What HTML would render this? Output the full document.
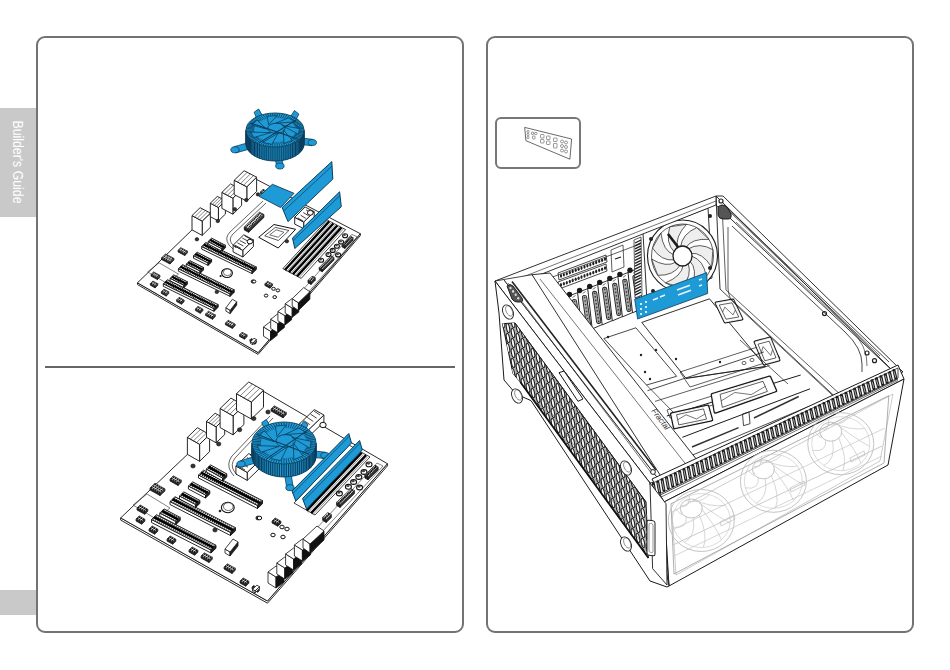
<!DOCTYPE html>
<html><head><meta charset="utf-8">
<style>
html,body{margin:0;padding:0;background:#fff;}
body{width:950px;height:670px;position:relative;overflow:hidden;font-family:"Liberation Sans",sans-serif;}
.box{position:absolute;border:2px solid #737373;border-radius:9px;box-sizing:border-box;}
.tab{position:absolute;left:0;width:36px;background:#c9c9c9;}
.tabtxt{position:absolute;left:18px;top:162px;transform:translate(-50%,-50%) rotate(90deg) scaleX(0.82);color:#fff;font-size:15px;font-weight:normal;white-space:nowrap;}
svg{position:absolute;left:0;top:0;}
</style></head>
<body>
<div class="tab" style="top:108px;height:109px;"></div>
<div class="tabtxt">Builder's Guide</div>
<div class="tab" style="top:590px;height:25px;"></div>
<div class="box" style="left:36px;top:36px;width:428px;height:597px;"></div>
<div class="box" style="left:486px;top:36px;width:428px;height:597px;"></div>
<div style="position:absolute;left:45px;top:366px;width:410px;height:2px;background:#666;"></div>
<div class="box" style="left:495px;top:117px;width:86px;height:52px;border-width:2px;border-radius:6px;border-color:#777"></div>
<svg width="950" height="670" viewBox="0 0 950 670">
<polygon points="120.7,517.9 267.5,601.0 387.4,463.7 387.4,465.9 267.5,603.2 120.7,520.1" fill="#fff" stroke="#111" stroke-width="0.9" stroke-linejoin="round"/>
<polygon points="257.4,387.8 120.7,517.9 267.5,601.0 387.4,463.7" fill="#fff" stroke="#111" stroke-width="0.9" stroke-linejoin="round"/>
<polygon points="133.0,505.0 147.0,494.0 170.0,508.0 156.0,519.0" fill="none" stroke="#333" stroke-width="0.6" stroke-linejoin="round"/>
<polygon points="151.5,522.5 211.0,553.0 211.0,550.0 151.5,519.5" fill="#fff" stroke="#111" stroke-width="0.9" stroke-linejoin="round"/>
<polygon points="211.0,553.0 216.0,548.2 216.0,545.2 211.0,550.0" fill="#222" stroke="#111" stroke-width="0.9" stroke-linejoin="round"/>
<polygon points="151.5,519.5 211.0,550.0 216.0,545.2 156.5,514.7" fill="#ddd" stroke="#111" stroke-width="0.9" stroke-linejoin="round"/>
<line x1="152.9" y1="519.6" x2="157.1" y2="515.6" stroke="#111" stroke-width="1.0" />
<line x1="154.9" y1="520.6" x2="159.1" y2="516.6" stroke="#111" stroke-width="1.0" />
<line x1="156.9" y1="521.6" x2="161.1" y2="517.6" stroke="#111" stroke-width="1.0" />
<line x1="158.9" y1="522.6" x2="163.0" y2="518.6" stroke="#111" stroke-width="1.0" />
<line x1="160.9" y1="523.7" x2="165.0" y2="519.7" stroke="#111" stroke-width="1.0" />
<line x1="162.8" y1="524.7" x2="167.0" y2="520.7" stroke="#111" stroke-width="1.0" />
<line x1="164.8" y1="525.7" x2="169.0" y2="521.7" stroke="#111" stroke-width="1.0" />
<line x1="166.8" y1="526.7" x2="171.0" y2="522.7" stroke="#111" stroke-width="1.0" />
<line x1="168.8" y1="527.7" x2="173.0" y2="523.7" stroke="#111" stroke-width="1.0" />
<line x1="170.8" y1="528.7" x2="174.9" y2="524.7" stroke="#111" stroke-width="1.0" />
<line x1="172.8" y1="529.8" x2="176.9" y2="525.8" stroke="#111" stroke-width="1.0" />
<line x1="174.7" y1="530.8" x2="178.9" y2="526.8" stroke="#111" stroke-width="1.0" />
<line x1="176.7" y1="531.8" x2="180.9" y2="527.8" stroke="#111" stroke-width="1.0" />
<line x1="178.7" y1="532.8" x2="182.9" y2="528.8" stroke="#111" stroke-width="1.0" />
<line x1="180.7" y1="533.8" x2="184.9" y2="529.8" stroke="#111" stroke-width="1.0" />
<line x1="182.7" y1="534.8" x2="186.8" y2="530.8" stroke="#111" stroke-width="1.0" />
<line x1="184.7" y1="535.9" x2="188.8" y2="531.9" stroke="#111" stroke-width="1.0" />
<line x1="186.6" y1="536.9" x2="190.8" y2="532.9" stroke="#111" stroke-width="1.0" />
<line x1="188.6" y1="537.9" x2="192.8" y2="533.9" stroke="#111" stroke-width="1.0" />
<line x1="190.6" y1="538.9" x2="194.8" y2="534.9" stroke="#111" stroke-width="1.0" />
<line x1="192.6" y1="539.9" x2="196.8" y2="535.9" stroke="#111" stroke-width="1.0" />
<line x1="194.6" y1="540.9" x2="198.7" y2="536.9" stroke="#111" stroke-width="1.0" />
<line x1="196.6" y1="542.0" x2="200.7" y2="538.0" stroke="#111" stroke-width="1.0" />
<line x1="198.5" y1="543.0" x2="202.7" y2="539.0" stroke="#111" stroke-width="1.0" />
<line x1="200.5" y1="544.0" x2="204.7" y2="540.0" stroke="#111" stroke-width="1.0" />
<line x1="202.5" y1="545.0" x2="206.7" y2="541.0" stroke="#111" stroke-width="1.0" />
<line x1="204.5" y1="546.0" x2="208.7" y2="542.0" stroke="#111" stroke-width="1.0" />
<line x1="206.5" y1="547.0" x2="210.6" y2="543.0" stroke="#111" stroke-width="1.0" />
<line x1="208.5" y1="548.1" x2="212.6" y2="544.1" stroke="#111" stroke-width="1.0" />
<line x1="210.4" y1="549.1" x2="214.6" y2="545.1" stroke="#111" stroke-width="1.0" />
<line x1="154.0" y1="517.1" x2="213.5" y2="547.6" stroke="#000" stroke-width="2.4" />
<polygon points="170.0,504.5 230.5,535.5 230.5,532.5 170.0,501.5" fill="#fff" stroke="#111" stroke-width="0.9" stroke-linejoin="round"/>
<polygon points="230.5,535.5 235.5,530.7 235.5,527.7 230.5,532.5" fill="#222" stroke="#111" stroke-width="0.9" stroke-linejoin="round"/>
<polygon points="170.0,501.5 230.5,532.5 235.5,527.7 175.0,496.7" fill="#ddd" stroke="#111" stroke-width="0.9" stroke-linejoin="round"/>
<line x1="171.4" y1="501.6" x2="175.6" y2="497.6" stroke="#111" stroke-width="1.0" />
<line x1="173.5" y1="502.6" x2="177.6" y2="498.6" stroke="#111" stroke-width="1.0" />
<line x1="175.5" y1="503.7" x2="179.6" y2="499.7" stroke="#111" stroke-width="1.0" />
<line x1="177.5" y1="504.7" x2="181.7" y2="500.7" stroke="#111" stroke-width="1.0" />
<line x1="179.5" y1="505.7" x2="183.7" y2="501.7" stroke="#111" stroke-width="1.0" />
<line x1="181.5" y1="506.8" x2="185.7" y2="502.8" stroke="#111" stroke-width="1.0" />
<line x1="183.5" y1="507.8" x2="187.7" y2="503.8" stroke="#111" stroke-width="1.0" />
<line x1="185.6" y1="508.8" x2="189.7" y2="504.8" stroke="#111" stroke-width="1.0" />
<line x1="187.6" y1="509.9" x2="191.7" y2="505.9" stroke="#111" stroke-width="1.0" />
<line x1="189.6" y1="510.9" x2="193.8" y2="506.9" stroke="#111" stroke-width="1.0" />
<line x1="191.6" y1="511.9" x2="195.8" y2="507.9" stroke="#111" stroke-width="1.0" />
<line x1="193.6" y1="513.0" x2="197.8" y2="509.0" stroke="#111" stroke-width="1.0" />
<line x1="195.6" y1="514.0" x2="199.8" y2="510.0" stroke="#111" stroke-width="1.0" />
<line x1="197.7" y1="515.0" x2="201.8" y2="511.0" stroke="#111" stroke-width="1.0" />
<line x1="199.7" y1="516.1" x2="203.8" y2="512.1" stroke="#111" stroke-width="1.0" />
<line x1="201.7" y1="517.1" x2="205.9" y2="513.1" stroke="#111" stroke-width="1.0" />
<line x1="203.7" y1="518.1" x2="207.9" y2="514.1" stroke="#111" stroke-width="1.0" />
<line x1="205.7" y1="519.2" x2="209.9" y2="515.2" stroke="#111" stroke-width="1.0" />
<line x1="207.7" y1="520.2" x2="211.9" y2="516.2" stroke="#111" stroke-width="1.0" />
<line x1="209.8" y1="521.2" x2="213.9" y2="517.2" stroke="#111" stroke-width="1.0" />
<line x1="211.8" y1="522.3" x2="215.9" y2="518.3" stroke="#111" stroke-width="1.0" />
<line x1="213.8" y1="523.3" x2="218.0" y2="519.3" stroke="#111" stroke-width="1.0" />
<line x1="215.8" y1="524.3" x2="220.0" y2="520.3" stroke="#111" stroke-width="1.0" />
<line x1="217.8" y1="525.4" x2="222.0" y2="521.4" stroke="#111" stroke-width="1.0" />
<line x1="219.8" y1="526.4" x2="224.0" y2="522.4" stroke="#111" stroke-width="1.0" />
<line x1="221.9" y1="527.4" x2="226.0" y2="523.4" stroke="#111" stroke-width="1.0" />
<line x1="223.9" y1="528.5" x2="228.0" y2="524.5" stroke="#111" stroke-width="1.0" />
<line x1="225.9" y1="529.5" x2="230.1" y2="525.5" stroke="#111" stroke-width="1.0" />
<line x1="227.9" y1="530.5" x2="232.1" y2="526.5" stroke="#111" stroke-width="1.0" />
<line x1="229.9" y1="531.6" x2="234.1" y2="527.6" stroke="#111" stroke-width="1.0" />
<line x1="172.5" y1="499.1" x2="233.0" y2="530.1" stroke="#000" stroke-width="2.4" />
<polygon points="198.5,478.0 257.5,508.5 257.5,505.5 198.5,475.0" fill="#fff" stroke="#111" stroke-width="0.9" stroke-linejoin="round"/>
<polygon points="257.5,508.5 262.5,503.7 262.5,500.7 257.5,505.5" fill="#222" stroke="#111" stroke-width="0.9" stroke-linejoin="round"/>
<polygon points="198.5,475.0 257.5,505.5 262.5,500.7 203.5,470.2" fill="#ddd" stroke="#111" stroke-width="0.9" stroke-linejoin="round"/>
<line x1="199.9" y1="475.1" x2="204.1" y2="471.1" stroke="#111" stroke-width="1.0" />
<line x1="201.9" y1="476.1" x2="206.1" y2="472.1" stroke="#111" stroke-width="1.0" />
<line x1="203.8" y1="477.1" x2="208.0" y2="473.1" stroke="#111" stroke-width="1.0" />
<line x1="205.8" y1="478.1" x2="210.0" y2="474.1" stroke="#111" stroke-width="1.0" />
<line x1="207.8" y1="479.2" x2="212.0" y2="475.2" stroke="#111" stroke-width="1.0" />
<line x1="209.7" y1="480.2" x2="213.9" y2="476.2" stroke="#111" stroke-width="1.0" />
<line x1="211.7" y1="481.2" x2="215.9" y2="477.2" stroke="#111" stroke-width="1.0" />
<line x1="213.7" y1="482.2" x2="217.9" y2="478.2" stroke="#111" stroke-width="1.0" />
<line x1="215.6" y1="483.2" x2="219.8" y2="479.2" stroke="#111" stroke-width="1.0" />
<line x1="217.6" y1="484.2" x2="221.8" y2="480.2" stroke="#111" stroke-width="1.0" />
<line x1="219.6" y1="485.3" x2="223.8" y2="481.3" stroke="#111" stroke-width="1.0" />
<line x1="221.5" y1="486.3" x2="225.7" y2="482.3" stroke="#111" stroke-width="1.0" />
<line x1="223.5" y1="487.3" x2="227.7" y2="483.3" stroke="#111" stroke-width="1.0" />
<line x1="225.5" y1="488.3" x2="229.7" y2="484.3" stroke="#111" stroke-width="1.0" />
<line x1="227.4" y1="489.3" x2="231.6" y2="485.3" stroke="#111" stroke-width="1.0" />
<line x1="229.4" y1="490.3" x2="233.6" y2="486.3" stroke="#111" stroke-width="1.0" />
<line x1="231.4" y1="491.4" x2="235.6" y2="487.4" stroke="#111" stroke-width="1.0" />
<line x1="233.3" y1="492.4" x2="237.5" y2="488.4" stroke="#111" stroke-width="1.0" />
<line x1="235.3" y1="493.4" x2="239.5" y2="489.4" stroke="#111" stroke-width="1.0" />
<line x1="237.3" y1="494.4" x2="241.5" y2="490.4" stroke="#111" stroke-width="1.0" />
<line x1="239.2" y1="495.4" x2="243.4" y2="491.4" stroke="#111" stroke-width="1.0" />
<line x1="241.2" y1="496.4" x2="245.4" y2="492.4" stroke="#111" stroke-width="1.0" />
<line x1="243.2" y1="497.5" x2="247.4" y2="493.5" stroke="#111" stroke-width="1.0" />
<line x1="245.1" y1="498.5" x2="249.3" y2="494.5" stroke="#111" stroke-width="1.0" />
<line x1="247.1" y1="499.5" x2="251.3" y2="495.5" stroke="#111" stroke-width="1.0" />
<line x1="249.1" y1="500.5" x2="253.3" y2="496.5" stroke="#111" stroke-width="1.0" />
<line x1="251.0" y1="501.5" x2="255.2" y2="497.5" stroke="#111" stroke-width="1.0" />
<line x1="253.0" y1="502.5" x2="257.2" y2="498.5" stroke="#111" stroke-width="1.0" />
<line x1="255.0" y1="503.6" x2="259.2" y2="499.6" stroke="#111" stroke-width="1.0" />
<line x1="256.9" y1="504.6" x2="261.1" y2="500.6" stroke="#111" stroke-width="1.0" />
<line x1="201.0" y1="472.6" x2="260.0" y2="503.1" stroke="#000" stroke-width="2.4" />
<polygon points="159.8,516.0 175.9,524.5 175.9,521.5 159.8,513.0" fill="#fff" stroke="#111" stroke-width="0.9" stroke-linejoin="round"/>
<polygon points="175.9,524.5 180.2,520.4 180.2,517.4 175.9,521.5" fill="#222" stroke="#111" stroke-width="0.9" stroke-linejoin="round"/>
<polygon points="159.8,513.0 175.9,521.5 180.2,517.4 164.1,508.9" fill="#ddd" stroke="#111" stroke-width="0.9" stroke-linejoin="round"/>
<line x1="161.2" y1="513.1" x2="164.7" y2="509.8" stroke="#111" stroke-width="1.0" />
<line x1="163.3" y1="514.2" x2="166.7" y2="510.9" stroke="#111" stroke-width="1.0" />
<line x1="165.3" y1="515.2" x2="168.7" y2="511.9" stroke="#111" stroke-width="1.0" />
<line x1="167.3" y1="516.3" x2="170.7" y2="513.0" stroke="#111" stroke-width="1.0" />
<line x1="169.3" y1="517.4" x2="172.7" y2="514.1" stroke="#111" stroke-width="1.0" />
<line x1="171.3" y1="518.4" x2="174.8" y2="515.1" stroke="#111" stroke-width="1.0" />
<line x1="173.3" y1="519.5" x2="176.8" y2="516.2" stroke="#111" stroke-width="1.0" />
<line x1="175.3" y1="520.6" x2="178.8" y2="517.2" stroke="#111" stroke-width="1.0" />
<line x1="162.0" y1="510.9" x2="178.1" y2="519.4" stroke="#000" stroke-width="2.4" />
<polygon points="179.5,499.0 195.6,507.5 195.6,504.5 179.5,496.0" fill="#fff" stroke="#111" stroke-width="0.9" stroke-linejoin="round"/>
<polygon points="195.6,507.5 199.9,503.4 199.9,500.4 195.6,504.5" fill="#222" stroke="#111" stroke-width="0.9" stroke-linejoin="round"/>
<polygon points="179.5,496.0 195.6,504.5 199.9,500.4 183.8,491.9" fill="#ddd" stroke="#111" stroke-width="0.9" stroke-linejoin="round"/>
<line x1="180.9" y1="496.1" x2="184.4" y2="492.8" stroke="#111" stroke-width="1.0" />
<line x1="183.0" y1="497.2" x2="186.4" y2="493.9" stroke="#111" stroke-width="1.0" />
<line x1="185.0" y1="498.2" x2="188.4" y2="494.9" stroke="#111" stroke-width="1.0" />
<line x1="187.0" y1="499.3" x2="190.4" y2="496.0" stroke="#111" stroke-width="1.0" />
<line x1="189.0" y1="500.4" x2="192.4" y2="497.1" stroke="#111" stroke-width="1.0" />
<line x1="191.0" y1="501.4" x2="194.5" y2="498.1" stroke="#111" stroke-width="1.0" />
<line x1="193.0" y1="502.5" x2="196.5" y2="499.2" stroke="#111" stroke-width="1.0" />
<line x1="195.0" y1="503.6" x2="198.5" y2="500.2" stroke="#111" stroke-width="1.0" />
<line x1="181.7" y1="493.9" x2="197.8" y2="502.4" stroke="#000" stroke-width="2.4" />
<polygon points="188.4,489.0 205.5,498.0 205.5,495.0 188.4,486.0" fill="#fff" stroke="#111" stroke-width="0.9" stroke-linejoin="round"/>
<polygon points="205.5,498.0 209.8,493.9 209.8,490.9 205.5,495.0" fill="#222" stroke="#111" stroke-width="0.9" stroke-linejoin="round"/>
<polygon points="188.4,486.0 205.5,495.0 209.8,490.9 192.7,481.9" fill="#ddd" stroke="#111" stroke-width="0.9" stroke-linejoin="round"/>
<line x1="189.9" y1="486.1" x2="193.4" y2="482.8" stroke="#111" stroke-width="1.0" />
<line x1="192.0" y1="487.3" x2="195.5" y2="484.0" stroke="#111" stroke-width="1.0" />
<line x1="194.2" y1="488.4" x2="197.6" y2="485.1" stroke="#111" stroke-width="1.0" />
<line x1="196.3" y1="489.5" x2="199.8" y2="486.2" stroke="#111" stroke-width="1.0" />
<line x1="198.5" y1="490.6" x2="201.9" y2="487.3" stroke="#111" stroke-width="1.0" />
<line x1="200.6" y1="491.8" x2="204.0" y2="488.5" stroke="#111" stroke-width="1.0" />
<line x1="202.7" y1="492.9" x2="206.2" y2="489.6" stroke="#111" stroke-width="1.0" />
<line x1="204.9" y1="494.0" x2="208.3" y2="490.7" stroke="#111" stroke-width="1.0" />
<line x1="190.6" y1="483.9" x2="207.7" y2="492.9" stroke="#000" stroke-width="2.4" />
<polygon points="206.3,472.0 222.5,481.0 222.5,478.0 206.3,469.0" fill="#fff" stroke="#111" stroke-width="0.9" stroke-linejoin="round"/>
<polygon points="222.5,481.0 226.8,476.9 226.8,473.9 222.5,478.0" fill="#222" stroke="#111" stroke-width="0.9" stroke-linejoin="round"/>
<polygon points="206.3,469.0 222.5,478.0 226.8,473.9 210.6,464.9" fill="#ddd" stroke="#111" stroke-width="0.9" stroke-linejoin="round"/>
<line x1="207.7" y1="469.1" x2="211.2" y2="465.8" stroke="#111" stroke-width="1.0" />
<line x1="209.8" y1="470.3" x2="213.2" y2="467.0" stroke="#111" stroke-width="1.0" />
<line x1="211.8" y1="471.4" x2="215.3" y2="468.1" stroke="#111" stroke-width="1.0" />
<line x1="213.8" y1="472.5" x2="217.3" y2="469.2" stroke="#111" stroke-width="1.0" />
<line x1="215.8" y1="473.6" x2="219.3" y2="470.3" stroke="#111" stroke-width="1.0" />
<line x1="217.9" y1="474.8" x2="221.3" y2="471.5" stroke="#111" stroke-width="1.0" />
<line x1="219.9" y1="475.9" x2="223.4" y2="472.6" stroke="#111" stroke-width="1.0" />
<line x1="221.9" y1="477.0" x2="225.4" y2="473.7" stroke="#111" stroke-width="1.0" />
<line x1="208.5" y1="466.9" x2="224.7" y2="475.9" stroke="#000" stroke-width="2.4" />
<ellipse cx="227.8" cy="507.5" rx="6.4" ry="5.2" fill="#fff" stroke="#111" stroke-width="1.1"/>
<ellipse cx="228.3" cy="506.6" rx="4.8" ry="3.9" fill="#fff" stroke="#111" stroke-width="0.6"/>
<ellipse cx="220.0" cy="511.0" rx="1.3" ry="1.3" fill="#222" stroke="none" stroke-width="0.8"/>
<polygon points="165.0,490.9 160.0,495.6 160.0,493.6 165.0,488.9" fill="#333" stroke="#111" stroke-width="0.7" stroke-linejoin="round"/>
<polygon points="160.0,495.6 150.0,490.0 150.0,488.0 160.0,493.6" fill="#222" stroke="#111" stroke-width="0.7" stroke-linejoin="round"/>
<polygon points="150.0,488.0 155.0,483.2 165.0,488.9 160.0,493.6" fill="#fff" stroke="#111" stroke-width="0.7" stroke-linejoin="round"/>
<ellipse cx="151.8" cy="487.8" rx="1.0" ry="1.0" fill="#111" stroke="none" stroke-width="0"/>
<ellipse cx="153.5" cy="486.2" rx="1.0" ry="1.0" fill="#111" stroke="none" stroke-width="0"/>
<ellipse cx="155.1" cy="484.6" rx="1.0" ry="1.0" fill="#111" stroke="none" stroke-width="0"/>
<ellipse cx="153.8" cy="488.9" rx="1.0" ry="1.0" fill="#111" stroke="none" stroke-width="0"/>
<ellipse cx="155.5" cy="487.3" rx="1.0" ry="1.0" fill="#111" stroke="none" stroke-width="0"/>
<ellipse cx="157.1" cy="485.7" rx="1.0" ry="1.0" fill="#111" stroke="none" stroke-width="0"/>
<ellipse cx="155.8" cy="490.0" rx="1.0" ry="1.0" fill="#111" stroke="none" stroke-width="0"/>
<ellipse cx="157.5" cy="488.4" rx="1.0" ry="1.0" fill="#111" stroke="none" stroke-width="0"/>
<ellipse cx="159.1" cy="486.9" rx="1.0" ry="1.0" fill="#111" stroke="none" stroke-width="0"/>
<ellipse cx="157.8" cy="491.2" rx="1.0" ry="1.0" fill="#111" stroke="none" stroke-width="0"/>
<ellipse cx="159.5" cy="489.6" rx="1.0" ry="1.0" fill="#111" stroke="none" stroke-width="0"/>
<ellipse cx="161.1" cy="488.0" rx="1.0" ry="1.0" fill="#111" stroke="none" stroke-width="0"/>
<ellipse cx="159.8" cy="492.3" rx="1.0" ry="1.0" fill="#111" stroke="none" stroke-width="0"/>
<ellipse cx="161.5" cy="490.7" rx="1.0" ry="1.0" fill="#111" stroke="none" stroke-width="0"/>
<ellipse cx="163.1" cy="489.1" rx="1.0" ry="1.0" fill="#111" stroke="none" stroke-width="0"/>
<polygon points="181.3,482.3 178.0,485.5 178.0,483.5 181.3,480.3" fill="#333" stroke="#111" stroke-width="0.7" stroke-linejoin="round"/>
<polygon points="178.0,485.5 170.0,481.0 170.0,479.0 178.0,483.5" fill="#222" stroke="#111" stroke-width="0.7" stroke-linejoin="round"/>
<polygon points="170.0,479.0 173.3,475.8 181.3,480.3 178.0,483.5" fill="#fff" stroke="#111" stroke-width="0.7" stroke-linejoin="round"/>
<ellipse cx="171.8" cy="478.8" rx="1.0" ry="1.0" fill="#111" stroke="none" stroke-width="0"/>
<ellipse cx="173.5" cy="477.2" rx="1.0" ry="1.0" fill="#111" stroke="none" stroke-width="0"/>
<ellipse cx="173.8" cy="479.9" rx="1.0" ry="1.0" fill="#111" stroke="none" stroke-width="0"/>
<ellipse cx="175.5" cy="478.3" rx="1.0" ry="1.0" fill="#111" stroke="none" stroke-width="0"/>
<ellipse cx="175.8" cy="481.0" rx="1.0" ry="1.0" fill="#111" stroke="none" stroke-width="0"/>
<ellipse cx="177.5" cy="479.4" rx="1.0" ry="1.0" fill="#111" stroke="none" stroke-width="0"/>
<ellipse cx="177.8" cy="482.2" rx="1.0" ry="1.0" fill="#111" stroke="none" stroke-width="0"/>
<ellipse cx="179.5" cy="480.6" rx="1.0" ry="1.0" fill="#111" stroke="none" stroke-width="0"/>
<polygon points="147.8,511.3 144.7,514.3 144.7,512.3 147.8,509.3" fill="#333" stroke="#111" stroke-width="0.7" stroke-linejoin="round"/>
<polygon points="144.7,514.3 137.0,510.0 137.0,508.0 144.7,512.3" fill="#222" stroke="#111" stroke-width="0.7" stroke-linejoin="round"/>
<polygon points="137.0,508.0 140.2,505.0 147.8,509.3 144.7,512.3" fill="#fff" stroke="#111" stroke-width="0.7" stroke-linejoin="round"/>
<ellipse cx="138.7" cy="507.8" rx="1.0" ry="1.0" fill="#111" stroke="none" stroke-width="0"/>
<ellipse cx="140.3" cy="506.3" rx="1.0" ry="1.0" fill="#111" stroke="none" stroke-width="0"/>
<ellipse cx="140.7" cy="508.9" rx="1.0" ry="1.0" fill="#111" stroke="none" stroke-width="0"/>
<ellipse cx="142.2" cy="507.3" rx="1.0" ry="1.0" fill="#111" stroke="none" stroke-width="0"/>
<ellipse cx="142.6" cy="509.9" rx="1.0" ry="1.0" fill="#111" stroke="none" stroke-width="0"/>
<ellipse cx="144.2" cy="508.4" rx="1.0" ry="1.0" fill="#111" stroke="none" stroke-width="0"/>
<ellipse cx="144.5" cy="511.0" rx="1.0" ry="1.0" fill="#111" stroke="none" stroke-width="0"/>
<ellipse cx="146.1" cy="509.5" rx="1.0" ry="1.0" fill="#111" stroke="none" stroke-width="0"/>
<polygon points="144.9,521.2 141.7,524.2 141.7,522.2 144.9,519.2" fill="#333" stroke="#111" stroke-width="0.7" stroke-linejoin="round"/>
<polygon points="141.7,524.2 136.0,521.0 136.0,519.0 141.7,522.2" fill="#222" stroke="#111" stroke-width="0.7" stroke-linejoin="round"/>
<polygon points="136.0,519.0 139.2,516.0 144.9,519.2 141.7,522.2" fill="#fff" stroke="#111" stroke-width="0.7" stroke-linejoin="round"/>
<ellipse cx="137.7" cy="518.8" rx="1.0" ry="1.0" fill="#111" stroke="none" stroke-width="0"/>
<ellipse cx="139.3" cy="517.3" rx="1.0" ry="1.0" fill="#111" stroke="none" stroke-width="0"/>
<ellipse cx="139.7" cy="519.9" rx="1.0" ry="1.0" fill="#111" stroke="none" stroke-width="0"/>
<ellipse cx="141.2" cy="518.3" rx="1.0" ry="1.0" fill="#111" stroke="none" stroke-width="0"/>
<ellipse cx="141.6" cy="520.9" rx="1.0" ry="1.0" fill="#111" stroke="none" stroke-width="0"/>
<ellipse cx="143.2" cy="519.4" rx="1.0" ry="1.0" fill="#111" stroke="none" stroke-width="0"/>
<polygon points="157.9,531.2 154.7,534.2 154.7,532.2 157.9,529.2" fill="#333" stroke="#111" stroke-width="0.7" stroke-linejoin="round"/>
<polygon points="154.7,534.2 149.0,531.0 149.0,529.0 154.7,532.2" fill="#222" stroke="#111" stroke-width="0.7" stroke-linejoin="round"/>
<polygon points="149.0,529.0 152.2,526.0 157.9,529.2 154.7,532.2" fill="#fff" stroke="#111" stroke-width="0.7" stroke-linejoin="round"/>
<ellipse cx="150.7" cy="528.8" rx="1.0" ry="1.0" fill="#111" stroke="none" stroke-width="0"/>
<ellipse cx="152.3" cy="527.3" rx="1.0" ry="1.0" fill="#111" stroke="none" stroke-width="0"/>
<ellipse cx="152.7" cy="529.9" rx="1.0" ry="1.0" fill="#111" stroke="none" stroke-width="0"/>
<ellipse cx="154.2" cy="528.3" rx="1.0" ry="1.0" fill="#111" stroke="none" stroke-width="0"/>
<ellipse cx="154.6" cy="530.9" rx="1.0" ry="1.0" fill="#111" stroke="none" stroke-width="0"/>
<ellipse cx="156.2" cy="529.4" rx="1.0" ry="1.0" fill="#111" stroke="none" stroke-width="0"/>
<polygon points="175.9,541.2 172.7,544.2 172.7,542.2 175.9,539.2" fill="#333" stroke="#111" stroke-width="0.7" stroke-linejoin="round"/>
<polygon points="172.7,544.2 167.0,541.0 167.0,539.0 172.7,542.2" fill="#222" stroke="#111" stroke-width="0.7" stroke-linejoin="round"/>
<polygon points="167.0,539.0 170.2,536.0 175.9,539.2 172.7,542.2" fill="#fff" stroke="#111" stroke-width="0.7" stroke-linejoin="round"/>
<ellipse cx="168.7" cy="538.8" rx="1.0" ry="1.0" fill="#111" stroke="none" stroke-width="0"/>
<ellipse cx="170.3" cy="537.3" rx="1.0" ry="1.0" fill="#111" stroke="none" stroke-width="0"/>
<ellipse cx="170.7" cy="539.9" rx="1.0" ry="1.0" fill="#111" stroke="none" stroke-width="0"/>
<ellipse cx="172.2" cy="538.3" rx="1.0" ry="1.0" fill="#111" stroke="none" stroke-width="0"/>
<ellipse cx="172.6" cy="540.9" rx="1.0" ry="1.0" fill="#111" stroke="none" stroke-width="0"/>
<ellipse cx="174.2" cy="539.4" rx="1.0" ry="1.0" fill="#111" stroke="none" stroke-width="0"/>
<polygon points="197.9,552.2 194.7,555.2 194.7,553.2 197.9,550.2" fill="#333" stroke="#111" stroke-width="0.7" stroke-linejoin="round"/>
<polygon points="194.7,555.2 189.0,552.0 189.0,550.0 194.7,553.2" fill="#222" stroke="#111" stroke-width="0.7" stroke-linejoin="round"/>
<polygon points="189.0,550.0 192.2,547.0 197.9,550.2 194.7,553.2" fill="#fff" stroke="#111" stroke-width="0.7" stroke-linejoin="round"/>
<ellipse cx="190.7" cy="549.8" rx="1.0" ry="1.0" fill="#111" stroke="none" stroke-width="0"/>
<ellipse cx="192.3" cy="548.3" rx="1.0" ry="1.0" fill="#111" stroke="none" stroke-width="0"/>
<ellipse cx="192.7" cy="550.9" rx="1.0" ry="1.0" fill="#111" stroke="none" stroke-width="0"/>
<ellipse cx="194.2" cy="549.3" rx="1.0" ry="1.0" fill="#111" stroke="none" stroke-width="0"/>
<ellipse cx="194.6" cy="551.9" rx="1.0" ry="1.0" fill="#111" stroke="none" stroke-width="0"/>
<ellipse cx="196.2" cy="550.4" rx="1.0" ry="1.0" fill="#111" stroke="none" stroke-width="0"/>
<polygon points="248.9,583.2 245.7,586.2 245.7,584.2 248.9,581.2" fill="#333" stroke="#111" stroke-width="0.7" stroke-linejoin="round"/>
<polygon points="245.7,586.2 240.0,583.0 240.0,581.0 245.7,584.2" fill="#222" stroke="#111" stroke-width="0.7" stroke-linejoin="round"/>
<polygon points="240.0,581.0 243.2,578.0 248.9,581.2 245.7,584.2" fill="#fff" stroke="#111" stroke-width="0.7" stroke-linejoin="round"/>
<ellipse cx="241.7" cy="580.8" rx="1.0" ry="1.0" fill="#111" stroke="none" stroke-width="0"/>
<ellipse cx="243.3" cy="579.3" rx="1.0" ry="1.0" fill="#111" stroke="none" stroke-width="0"/>
<ellipse cx="243.7" cy="581.9" rx="1.0" ry="1.0" fill="#111" stroke="none" stroke-width="0"/>
<ellipse cx="245.2" cy="580.3" rx="1.0" ry="1.0" fill="#111" stroke="none" stroke-width="0"/>
<ellipse cx="245.6" cy="582.9" rx="1.0" ry="1.0" fill="#111" stroke="none" stroke-width="0"/>
<ellipse cx="247.2" cy="581.4" rx="1.0" ry="1.0" fill="#111" stroke="none" stroke-width="0"/>
<polygon points="212.3,559.3 209.0,562.5 209.0,560.5 212.3,557.3" fill="#333" stroke="#111" stroke-width="0.7" stroke-linejoin="round"/>
<polygon points="209.0,562.5 201.0,558.0 201.0,556.0 209.0,560.5" fill="#222" stroke="#111" stroke-width="0.7" stroke-linejoin="round"/>
<polygon points="201.0,556.0 204.3,552.8 212.3,557.3 209.0,560.5" fill="#fff" stroke="#111" stroke-width="0.7" stroke-linejoin="round"/>
<ellipse cx="202.8" cy="555.8" rx="1.0" ry="1.0" fill="#111" stroke="none" stroke-width="0"/>
<ellipse cx="204.5" cy="554.2" rx="1.0" ry="1.0" fill="#111" stroke="none" stroke-width="0"/>
<ellipse cx="204.8" cy="556.9" rx="1.0" ry="1.0" fill="#111" stroke="none" stroke-width="0"/>
<ellipse cx="206.5" cy="555.3" rx="1.0" ry="1.0" fill="#111" stroke="none" stroke-width="0"/>
<ellipse cx="206.8" cy="558.0" rx="1.0" ry="1.0" fill="#111" stroke="none" stroke-width="0"/>
<ellipse cx="208.5" cy="556.4" rx="1.0" ry="1.0" fill="#111" stroke="none" stroke-width="0"/>
<ellipse cx="208.8" cy="559.2" rx="1.0" ry="1.0" fill="#111" stroke="none" stroke-width="0"/>
<ellipse cx="210.5" cy="557.6" rx="1.0" ry="1.0" fill="#111" stroke="none" stroke-width="0"/>
<polygon points="235.3,570.3 232.0,573.5 232.0,571.5 235.3,568.3" fill="#333" stroke="#111" stroke-width="0.7" stroke-linejoin="round"/>
<polygon points="232.0,573.5 224.0,569.0 224.0,567.0 232.0,571.5" fill="#222" stroke="#111" stroke-width="0.7" stroke-linejoin="round"/>
<polygon points="224.0,567.0 227.3,563.8 235.3,568.3 232.0,571.5" fill="#fff" stroke="#111" stroke-width="0.7" stroke-linejoin="round"/>
<ellipse cx="225.8" cy="566.8" rx="1.0" ry="1.0" fill="#111" stroke="none" stroke-width="0"/>
<ellipse cx="227.5" cy="565.2" rx="1.0" ry="1.0" fill="#111" stroke="none" stroke-width="0"/>
<ellipse cx="227.8" cy="567.9" rx="1.0" ry="1.0" fill="#111" stroke="none" stroke-width="0"/>
<ellipse cx="229.5" cy="566.3" rx="1.0" ry="1.0" fill="#111" stroke="none" stroke-width="0"/>
<ellipse cx="229.8" cy="569.0" rx="1.0" ry="1.0" fill="#111" stroke="none" stroke-width="0"/>
<ellipse cx="231.5" cy="567.4" rx="1.0" ry="1.0" fill="#111" stroke="none" stroke-width="0"/>
<ellipse cx="231.8" cy="570.2" rx="1.0" ry="1.0" fill="#111" stroke="none" stroke-width="0"/>
<ellipse cx="233.5" cy="568.6" rx="1.0" ry="1.0" fill="#111" stroke="none" stroke-width="0"/>
<polygon points="259.3,590.7 257.7,592.2 257.7,590.2 259.3,588.7" fill="#333" stroke="#111" stroke-width="0.7" stroke-linejoin="round"/>
<polygon points="257.7,592.2 252.0,589.0 252.0,587.0 257.7,590.2" fill="#222" stroke="#111" stroke-width="0.7" stroke-linejoin="round"/>
<polygon points="252.0,587.0 253.6,585.5 259.3,588.7 257.7,590.2" fill="#fff" stroke="#111" stroke-width="0.7" stroke-linejoin="round"/>
<ellipse cx="253.7" cy="586.8" rx="1.0" ry="1.0" fill="#111" stroke="none" stroke-width="0"/>
<ellipse cx="255.7" cy="587.9" rx="1.0" ry="1.0" fill="#111" stroke="none" stroke-width="0"/>
<ellipse cx="257.6" cy="588.9" rx="1.0" ry="1.0" fill="#111" stroke="none" stroke-width="0"/>
<polygon points="259.5,588.7 255.1,592.8 255.1,590.8 259.5,586.7" fill="#fff" stroke="#111" stroke-width="0.8" stroke-linejoin="round"/>
<polygon points="255.1,592.8 252.5,591.3 252.5,589.3 255.1,590.8" fill="#fff" stroke="#111" stroke-width="0.8" stroke-linejoin="round"/>
<polygon points="252.5,589.3 256.9,585.2 259.5,586.7 255.1,590.8" fill="#fff" stroke="#111" stroke-width="0.8" stroke-linejoin="round"/>
<polygon points="209.6,451.6 199.6,461.3 199.6,444.3 209.6,434.6" fill="#fff" stroke="#111" stroke-width="0.9" stroke-linejoin="round"/>
<polygon points="199.6,461.3 187.4,454.4 187.4,437.4 199.6,444.3" fill="#fff" stroke="#111" stroke-width="0.9" stroke-linejoin="round"/>
<polygon points="187.4,437.4 197.4,427.7 209.6,434.6 199.6,444.3" fill="#fff" stroke="#111" stroke-width="0.9" stroke-linejoin="round"/>
<line x1="190.4" y1="439.1" x2="200.5" y2="429.5" stroke="#333" stroke-width="0.6"/>
<line x1="193.5" y1="440.8" x2="203.5" y2="431.2" stroke="#333" stroke-width="0.6"/>
<line x1="196.5" y1="442.5" x2="206.6" y2="432.9" stroke="#333" stroke-width="0.6"/>
<polygon points="224.7,434.6 216.1,442.8 216.1,426.8 224.7,418.6" fill="#fff" stroke="#111" stroke-width="0.9" stroke-linejoin="round"/>
<polygon points="216.1,442.8 206.5,437.4 206.5,421.4 216.1,426.8" fill="#fff" stroke="#111" stroke-width="0.9" stroke-linejoin="round"/>
<polygon points="206.5,421.4 215.1,413.2 224.7,418.6 216.1,426.8" fill="#fff" stroke="#111" stroke-width="0.9" stroke-linejoin="round"/>
<line x1="208.9" y1="422.8" x2="217.5" y2="414.5" stroke="#333" stroke-width="0.6"/>
<line x1="211.3" y1="424.1" x2="219.9" y2="415.9" stroke="#333" stroke-width="0.6"/>
<line x1="213.7" y1="425.5" x2="222.3" y2="417.2" stroke="#333" stroke-width="0.6"/>
<polygon points="243.9,424.5 233.1,434.9 233.1,415.9 243.9,405.5" fill="#fff" stroke="#111" stroke-width="0.9" stroke-linejoin="round"/>
<polygon points="233.1,434.9 220.1,427.5 220.1,408.5 233.1,415.9" fill="#fff" stroke="#111" stroke-width="0.9" stroke-linejoin="round"/>
<polygon points="220.1,408.5 230.9,398.1 243.9,405.5 233.1,415.9" fill="#fff" stroke="#111" stroke-width="0.9" stroke-linejoin="round"/>
<line x1="223.3" y1="410.3" x2="234.1" y2="400.0" stroke="#333" stroke-width="0.6"/>
<line x1="226.6" y1="412.2" x2="237.4" y2="401.8" stroke="#333" stroke-width="0.6"/>
<line x1="229.9" y1="414.0" x2="240.7" y2="403.7" stroke="#333" stroke-width="0.6"/>
<polygon points="263.5,407.3 251.3,419.0 251.3,402.0 263.5,390.3" fill="#fff" stroke="#111" stroke-width="0.9" stroke-linejoin="round"/>
<polygon points="251.3,419.0 236.5,410.7 236.5,393.7 251.3,402.0" fill="#fff" stroke="#111" stroke-width="0.9" stroke-linejoin="round"/>
<polygon points="236.5,393.7 248.7,382.0 263.5,390.3 251.3,402.0" fill="#fff" stroke="#111" stroke-width="0.9" stroke-linejoin="round"/>
<line x1="240.2" y1="395.8" x2="252.4" y2="384.1" stroke="#333" stroke-width="0.6"/>
<line x1="243.9" y1="397.9" x2="256.1" y2="386.1" stroke="#333" stroke-width="0.6"/>
<line x1="247.6" y1="399.9" x2="259.8" y2="388.2" stroke="#333" stroke-width="0.6"/>
<ellipse cx="268.0" cy="412.0" rx="2.2" ry="2.0" fill="#333" stroke="#111" stroke-width="0.6"/>
<ellipse cx="253.8" cy="418.6" rx="2.2" ry="2.0" fill="#333" stroke="#111" stroke-width="0.6"/>
<ellipse cx="239.6" cy="429.8" rx="2.2" ry="2.0" fill="#333" stroke="#111" stroke-width="0.6"/>
<ellipse cx="218.7" cy="444.0" rx="2.2" ry="2.0" fill="#333" stroke="#111" stroke-width="0.6"/>
<ellipse cx="193.0" cy="466.0" rx="2.2" ry="2.0" fill="#333" stroke="#111" stroke-width="0.6"/>
<ellipse cx="258.0" cy="518.0" rx="2.2" ry="2.0" fill="#333" stroke="#111" stroke-width="0.6"/>
<ellipse cx="215.0" cy="530.0" rx="2.2" ry="2.0" fill="#333" stroke="#111" stroke-width="0.6"/>
<ellipse cx="300.0" cy="470.0" rx="2.2" ry="2.0" fill="#333" stroke="#111" stroke-width="0.6"/>
<polygon points="294.0,503.0 349.0,445.0 370.0,457.0 315.0,515.0" fill="#fff" stroke="#111" stroke-width="0.8" stroke-linejoin="round"/>
<line x1="306.7" y1="510.6" x2="361.7" y2="452.6" stroke="#000" stroke-width="2.4" />
<line x1="308.3" y1="512.4" x2="363.3" y2="454.4" stroke="#666" stroke-width="0.7" />
<line x1="311.1" y1="513.1" x2="366.1" y2="455.1" stroke="#000" stroke-width="2.4" />
<line x1="312.7" y1="514.9" x2="367.7" y2="456.9" stroke="#666" stroke-width="0.7" />
<ellipse cx="369.0" cy="464.4" rx="3.0" ry="2.4" fill="#fff" stroke="#111" stroke-width="1.1"/>
<ellipse cx="368.5" cy="463.6" rx="1.6" ry="1.1" fill="#444" stroke="none" stroke-width="0"/>
<ellipse cx="364.0" cy="472.0" rx="3.0" ry="2.4" fill="#fff" stroke="#111" stroke-width="1.1"/>
<ellipse cx="363.5" cy="471.2" rx="1.6" ry="1.1" fill="#444" stroke="none" stroke-width="0"/>
<ellipse cx="358.8" cy="477.0" rx="3.0" ry="2.4" fill="#fff" stroke="#111" stroke-width="1.1"/>
<ellipse cx="358.3" cy="476.2" rx="1.6" ry="1.1" fill="#444" stroke="none" stroke-width="0"/>
<ellipse cx="353.6" cy="482.0" rx="3.0" ry="2.4" fill="#fff" stroke="#111" stroke-width="1.1"/>
<ellipse cx="353.1" cy="481.2" rx="1.6" ry="1.1" fill="#444" stroke="none" stroke-width="0"/>
<ellipse cx="348.4" cy="486.8" rx="3.0" ry="2.4" fill="#fff" stroke="#111" stroke-width="1.1"/>
<ellipse cx="347.9" cy="486.0" rx="1.6" ry="1.1" fill="#444" stroke="none" stroke-width="0"/>
<ellipse cx="359.6" cy="487.5" rx="3.0" ry="2.4" fill="#fff" stroke="#111" stroke-width="1.1"/>
<ellipse cx="359.1" cy="486.7" rx="1.6" ry="1.1" fill="#444" stroke="none" stroke-width="0"/>
<ellipse cx="339.4" cy="493.5" rx="3.0" ry="2.4" fill="#fff" stroke="#111" stroke-width="1.1"/>
<ellipse cx="338.9" cy="492.7" rx="1.6" ry="1.1" fill="#444" stroke="none" stroke-width="0"/>
<polygon points="354.4,493.6 340.0,507.4 340.0,504.4 354.4,490.6" fill="#333" stroke="#111" stroke-width="0.8" stroke-linejoin="round"/>
<polygon points="340.0,507.4 336.6,505.4 336.6,502.4 340.0,504.4" fill="#222" stroke="#111" stroke-width="0.8" stroke-linejoin="round"/>
<polygon points="336.6,502.4 351.0,488.6 354.4,490.6 340.0,504.4" fill="#fff" stroke="#111" stroke-width="0.8" stroke-linejoin="round"/>
<ellipse cx="339.0" cy="502.7" rx="0.9" ry="1.3" fill="#111" stroke="none" stroke-width="0"/>
<ellipse cx="340.5" cy="501.3" rx="0.9" ry="1.3" fill="#111" stroke="none" stroke-width="0"/>
<ellipse cx="341.9" cy="499.9" rx="0.9" ry="1.3" fill="#111" stroke="none" stroke-width="0"/>
<ellipse cx="343.3" cy="498.6" rx="0.9" ry="1.3" fill="#111" stroke="none" stroke-width="0"/>
<ellipse cx="344.8" cy="497.2" rx="0.9" ry="1.3" fill="#111" stroke="none" stroke-width="0"/>
<ellipse cx="346.2" cy="495.8" rx="0.9" ry="1.3" fill="#111" stroke="none" stroke-width="0"/>
<ellipse cx="347.7" cy="494.4" rx="0.9" ry="1.3" fill="#111" stroke="none" stroke-width="0"/>
<ellipse cx="349.1" cy="493.0" rx="0.9" ry="1.3" fill="#111" stroke="none" stroke-width="0"/>
<ellipse cx="350.5" cy="491.7" rx="0.9" ry="1.3" fill="#111" stroke="none" stroke-width="0"/>
<ellipse cx="352.0" cy="490.3" rx="0.9" ry="1.3" fill="#111" stroke="none" stroke-width="0"/>
<polygon points="378.1,470.0 368.0,479.7 368.0,476.7 378.1,467.0" fill="#333" stroke="#111" stroke-width="0.8" stroke-linejoin="round"/>
<polygon points="368.0,479.7 364.9,478.0 364.9,475.0 368.0,476.7" fill="#222" stroke="#111" stroke-width="0.8" stroke-linejoin="round"/>
<polygon points="364.9,475.0 375.0,465.3 378.1,467.0 368.0,476.7" fill="#fff" stroke="#111" stroke-width="0.8" stroke-linejoin="round"/>
<ellipse cx="367.2" cy="475.1" rx="0.9" ry="1.3" fill="#111" stroke="none" stroke-width="0"/>
<ellipse cx="368.6" cy="473.8" rx="0.9" ry="1.3" fill="#111" stroke="none" stroke-width="0"/>
<ellipse cx="370.1" cy="472.4" rx="0.9" ry="1.3" fill="#111" stroke="none" stroke-width="0"/>
<ellipse cx="371.5" cy="471.0" rx="0.9" ry="1.3" fill="#111" stroke="none" stroke-width="0"/>
<ellipse cx="372.9" cy="469.6" rx="0.9" ry="1.3" fill="#111" stroke="none" stroke-width="0"/>
<ellipse cx="374.4" cy="468.2" rx="0.9" ry="1.3" fill="#111" stroke="none" stroke-width="0"/>
<ellipse cx="375.8" cy="466.9" rx="0.9" ry="1.3" fill="#111" stroke="none" stroke-width="0"/>
<polygon points="331.3,517.6 326.2,522.4 326.2,519.4 331.3,514.6" fill="#333" stroke="#111" stroke-width="0.8" stroke-linejoin="round"/>
<polygon points="326.2,522.4 322.7,520.4 322.7,517.4 326.2,519.4" fill="#222" stroke="#111" stroke-width="0.8" stroke-linejoin="round"/>
<polygon points="322.7,517.4 327.8,512.6 331.3,514.6 326.2,519.4" fill="#fff" stroke="#111" stroke-width="0.8" stroke-linejoin="round"/>
<ellipse cx="325.3" cy="517.6" rx="0.9" ry="1.3" fill="#111" stroke="none" stroke-width="0"/>
<ellipse cx="327.0" cy="516.0" rx="0.9" ry="1.3" fill="#111" stroke="none" stroke-width="0"/>
<ellipse cx="328.7" cy="514.4" rx="0.9" ry="1.3" fill="#111" stroke="none" stroke-width="0"/>
<polygon points="316.0,529.0 377.0,463.0 383.0,466.0 322.0,532.0" fill="none" stroke="#333" stroke-width="0.6" stroke-linejoin="round"/>
<polygon points="268.0,583.0 276.0,588.0 276.0,577.0 268.0,572.0" fill="#fff" stroke="#111" stroke-width="0.8" stroke-linejoin="round"/>
<polygon points="276.0,588.0 284.0,582.0 284.0,571.0 276.0,577.0" fill="#111" stroke="#111" stroke-width="0.8" stroke-linejoin="round"/>
<polygon points="268.0,572.0 276.0,577.0 284.0,571.0 276.0,566.0" fill="#fff" stroke="#111" stroke-width="0.8" stroke-linejoin="round"/>
<polygon points="276.8,574.0 284.8,579.0 284.8,568.0 276.8,563.0" fill="#fff" stroke="#111" stroke-width="0.8" stroke-linejoin="round"/>
<polygon points="284.8,579.0 292.8,573.0 292.8,562.0 284.8,568.0" fill="#111" stroke="#111" stroke-width="0.8" stroke-linejoin="round"/>
<polygon points="276.8,563.0 284.8,568.0 292.8,562.0 284.8,557.0" fill="#fff" stroke="#111" stroke-width="0.8" stroke-linejoin="round"/>
<polygon points="285.6,565.0 293.6,570.0 293.6,559.0 285.6,554.0" fill="#fff" stroke="#111" stroke-width="0.8" stroke-linejoin="round"/>
<polygon points="293.6,570.0 301.6,564.0 301.6,553.0 293.6,559.0" fill="#111" stroke="#111" stroke-width="0.8" stroke-linejoin="round"/>
<polygon points="285.6,554.0 293.6,559.0 301.6,553.0 293.6,548.0" fill="#fff" stroke="#111" stroke-width="0.8" stroke-linejoin="round"/>
<polygon points="294.4,556.0 302.4,561.0 302.4,550.0 294.4,545.0" fill="#fff" stroke="#111" stroke-width="0.8" stroke-linejoin="round"/>
<polygon points="302.4,561.0 310.4,555.0 310.4,544.0 302.4,550.0" fill="#111" stroke="#111" stroke-width="0.8" stroke-linejoin="round"/>
<polygon points="294.4,545.0 302.4,550.0 310.4,544.0 302.4,539.0" fill="#fff" stroke="#111" stroke-width="0.8" stroke-linejoin="round"/>
<polygon points="303.0,548.0 310.0,553.0 310.0,544.0 303.0,539.0" fill="#fff" stroke="#111" stroke-width="0.8" stroke-linejoin="round"/>
<polygon points="310.0,553.0 324.0,540.0 324.0,531.0 310.0,544.0" fill="#111" stroke="#111" stroke-width="0.8" stroke-linejoin="round"/>
<polygon points="303.0,539.0 310.0,544.0 324.0,531.0 317.0,526.0" fill="#fff" stroke="#111" stroke-width="0.8" stroke-linejoin="round"/>
<ellipse cx="259.5" cy="518.0" rx="2.2" ry="1.8" fill="#fff" stroke="#111" stroke-width="1"/>
<ellipse cx="278.0" cy="523.0" rx="2.2" ry="1.8" fill="#fff" stroke="#111" stroke-width="1"/>
<ellipse cx="282.0" cy="527.0" rx="2.2" ry="1.8" fill="#fff" stroke="#111" stroke-width="1"/>
<ellipse cx="287.0" cy="529.0" rx="2.2" ry="1.8" fill="#fff" stroke="#111" stroke-width="1"/>
<ellipse cx="273.0" cy="535.0" rx="2.2" ry="1.8" fill="#fff" stroke="#111" stroke-width="1"/>
<ellipse cx="283.0" cy="537.0" rx="2.2" ry="1.8" fill="#fff" stroke="#111" stroke-width="1"/>
<polygon points="280.9,523.2 277.7,526.2 277.7,524.2 280.9,521.2" fill="#333" stroke="#111" stroke-width="0.7" stroke-linejoin="round"/>
<polygon points="277.7,526.2 272.0,523.0 272.0,521.0 277.7,524.2" fill="#222" stroke="#111" stroke-width="0.7" stroke-linejoin="round"/>
<polygon points="272.0,521.0 275.2,518.0 280.9,521.2 277.7,524.2" fill="#fff" stroke="#111" stroke-width="0.7" stroke-linejoin="round"/>
<ellipse cx="273.7" cy="520.8" rx="1.0" ry="1.0" fill="#111" stroke="none" stroke-width="0"/>
<ellipse cx="275.3" cy="519.3" rx="1.0" ry="1.0" fill="#111" stroke="none" stroke-width="0"/>
<ellipse cx="275.7" cy="521.9" rx="1.0" ry="1.0" fill="#111" stroke="none" stroke-width="0"/>
<ellipse cx="277.2" cy="520.3" rx="1.0" ry="1.0" fill="#111" stroke="none" stroke-width="0"/>
<ellipse cx="277.6" cy="522.9" rx="1.0" ry="1.0" fill="#111" stroke="none" stroke-width="0"/>
<ellipse cx="279.2" cy="521.4" rx="1.0" ry="1.0" fill="#111" stroke="none" stroke-width="0"/>
<polygon points="225.0,553.0 230.0,556.0 230.0,552.0 225.0,549.0" fill="#fff" stroke="#111" stroke-width="0.8" stroke-linejoin="round"/>
<polygon points="230.0,556.0 238.0,546.0 238.0,542.0 230.0,552.0" fill="#222" stroke="#111" stroke-width="0.8" stroke-linejoin="round"/>
<polygon points="225.0,549.0 230.0,552.0 238.0,542.0 233.0,539.0" fill="#fff" stroke="#111" stroke-width="0.8" stroke-linejoin="round"/>
<polygon points="260.1,468.0 247.2,480.4 247.2,472.4 260.1,460.0" fill="#fff" stroke="#111" stroke-width="0.9" stroke-linejoin="round"/>
<polygon points="247.2,480.4 235.9,474.0 235.9,466.0 247.2,472.4" fill="#fff" stroke="#111" stroke-width="0.9" stroke-linejoin="round"/>
<polygon points="235.9,466.0 248.8,453.6 260.1,460.0 247.2,472.4" fill="#fff" stroke="#111" stroke-width="0.9" stroke-linejoin="round"/>
<line x1="238.0" y1="466.0" x2="245.0" y2="470.0" stroke="#111" stroke-width="0.8" />
<line x1="241.0" y1="463.2" x2="248.0" y2="467.2" stroke="#111" stroke-width="0.8" />
<line x1="244.0" y1="460.4" x2="251.0" y2="464.4" stroke="#111" stroke-width="0.8" />
<line x1="247.0" y1="457.6" x2="254.0" y2="461.6" stroke="#111" stroke-width="0.8" />
<line x1="250.0" y1="454.8" x2="257.0" y2="458.8" stroke="#111" stroke-width="0.8" />
<ellipse cx="256.0" cy="462.0" rx="3.2" ry="2.7" fill="#fff" stroke="#111" stroke-width="1.0"/>
<polygon points="323.9,422.0 303.7,441.4 303.7,434.4 323.9,415.0" fill="#fff" stroke="#111" stroke-width="0.9" stroke-linejoin="round"/>
<polygon points="303.7,441.4 294.1,436.0 294.1,429.0 303.7,434.4" fill="#fff" stroke="#111" stroke-width="0.9" stroke-linejoin="round"/>
<polygon points="294.1,429.0 314.3,409.6 323.9,415.0 303.7,434.4" fill="#fff" stroke="#111" stroke-width="0.9" stroke-linejoin="round"/>
<line x1="297.0" y1="427.0" x2="303.0" y2="431.0" stroke="#111" stroke-width="0.8" />
<line x1="300.4" y1="423.8" x2="306.4" y2="427.8" stroke="#111" stroke-width="0.8" />
<line x1="303.8" y1="420.6" x2="309.8" y2="424.6" stroke="#111" stroke-width="0.8" />
<line x1="307.2" y1="417.4" x2="313.2" y2="421.4" stroke="#111" stroke-width="0.8" />
<line x1="310.6" y1="414.2" x2="316.6" y2="418.2" stroke="#111" stroke-width="0.8" />
<line x1="314.0" y1="411.0" x2="320.0" y2="415.0" stroke="#111" stroke-width="0.8" />
<ellipse cx="323.0" cy="425.0" rx="3.2" ry="2.7" fill="#fff" stroke="#111" stroke-width="1.0"/>
<path d="M270,416 L232,456 Q226,464 231,472 L234,476" fill="none" stroke="#222" stroke-width="0.7"/>
<path d="M273,418 L235,458 Q230,465 234,471 L237,475" fill="none" stroke="#222" stroke-width="0.7"/>
<polygon points="286.3,414.6 283.0,417.8 283.0,415.8 286.3,412.6" fill="#333" stroke="#111" stroke-width="0.7" stroke-linejoin="round"/>
<polygon points="283.0,417.8 271.0,411.0 271.0,409.0 283.0,415.8" fill="#222" stroke="#111" stroke-width="0.7" stroke-linejoin="round"/>
<polygon points="271.0,409.0 274.3,405.8 286.3,412.6 283.0,415.8" fill="#fff" stroke="#111" stroke-width="0.7" stroke-linejoin="round"/>
<ellipse cx="272.8" cy="408.8" rx="1.0" ry="1.0" fill="#111" stroke="none" stroke-width="0"/>
<ellipse cx="274.5" cy="407.2" rx="1.0" ry="1.0" fill="#111" stroke="none" stroke-width="0"/>
<ellipse cx="274.8" cy="409.9" rx="1.0" ry="1.0" fill="#111" stroke="none" stroke-width="0"/>
<ellipse cx="276.5" cy="408.3" rx="1.0" ry="1.0" fill="#111" stroke="none" stroke-width="0"/>
<ellipse cx="276.8" cy="411.0" rx="1.0" ry="1.0" fill="#111" stroke="none" stroke-width="0"/>
<ellipse cx="278.5" cy="409.4" rx="1.0" ry="1.0" fill="#111" stroke="none" stroke-width="0"/>
<ellipse cx="278.8" cy="412.2" rx="1.0" ry="1.0" fill="#111" stroke="none" stroke-width="0"/>
<ellipse cx="280.5" cy="410.6" rx="1.0" ry="1.0" fill="#111" stroke="none" stroke-width="0"/>
<ellipse cx="280.8" cy="413.3" rx="1.0" ry="1.0" fill="#111" stroke="none" stroke-width="0"/>
<ellipse cx="282.5" cy="411.7" rx="1.0" ry="1.0" fill="#111" stroke="none" stroke-width="0"/>
<ellipse cx="282.8" cy="414.4" rx="1.0" ry="1.0" fill="#111" stroke="none" stroke-width="0"/>
<ellipse cx="284.5" cy="412.8" rx="1.0" ry="1.0" fill="#111" stroke="none" stroke-width="0"/>
<polygon points="137.5,282.8 258.1,352.6 360.3,233.7 360.4,235.5 258.1,354.4 137.5,284.6" fill="#fff" stroke="#111" stroke-width="0.9" stroke-linejoin="round"/>
<polygon points="248.4,175.2 137.5,282.8 258.1,352.6 360.3,233.7" fill="#fff" stroke="#111" stroke-width="0.9" stroke-linejoin="round"/>
<polygon points="147.6,272.0 159.1,262.8 178.5,274.1 167.0,283.4" fill="none" stroke="#333" stroke-width="0.6" stroke-linejoin="round"/>
<polygon points="163.3,286.3 214.0,311.3 214.0,308.7 163.3,283.8" fill="#fff" stroke="#111" stroke-width="0.9" stroke-linejoin="round"/>
<polygon points="214.0,311.3 218.2,307.2 218.2,304.6 214.0,308.7" fill="#222" stroke="#111" stroke-width="0.9" stroke-linejoin="round"/>
<polygon points="163.3,283.8 214.0,308.7 218.2,304.6 167.4,279.7" fill="#ddd" stroke="#111" stroke-width="0.9" stroke-linejoin="round"/>
<line x1="164.5" y1="283.9" x2="167.9" y2="280.5" stroke="#111" stroke-width="1.0" />
<line x1="166.1" y1="284.7" x2="169.6" y2="281.3" stroke="#111" stroke-width="1.0" />
<line x1="167.8" y1="285.5" x2="171.3" y2="282.2" stroke="#111" stroke-width="1.0" />
<line x1="169.5" y1="286.3" x2="172.9" y2="283.0" stroke="#111" stroke-width="1.0" />
<line x1="171.2" y1="287.2" x2="174.6" y2="283.8" stroke="#111" stroke-width="1.0" />
<line x1="172.9" y1="288.0" x2="176.3" y2="284.6" stroke="#111" stroke-width="1.0" />
<line x1="174.5" y1="288.8" x2="178.0" y2="285.5" stroke="#111" stroke-width="1.0" />
<line x1="176.2" y1="289.7" x2="179.7" y2="286.3" stroke="#111" stroke-width="1.0" />
<line x1="177.9" y1="290.5" x2="181.3" y2="287.1" stroke="#111" stroke-width="1.0" />
<line x1="179.6" y1="291.3" x2="183.0" y2="287.9" stroke="#111" stroke-width="1.0" />
<line x1="181.3" y1="292.1" x2="184.7" y2="288.8" stroke="#111" stroke-width="1.0" />
<line x1="183.0" y1="293.0" x2="186.4" y2="289.6" stroke="#111" stroke-width="1.0" />
<line x1="184.7" y1="293.8" x2="188.1" y2="290.4" stroke="#111" stroke-width="1.0" />
<line x1="186.3" y1="294.6" x2="189.8" y2="291.2" stroke="#111" stroke-width="1.0" />
<line x1="188.0" y1="295.5" x2="191.5" y2="292.1" stroke="#111" stroke-width="1.0" />
<line x1="189.7" y1="296.3" x2="193.2" y2="292.9" stroke="#111" stroke-width="1.0" />
<line x1="191.4" y1="297.1" x2="194.9" y2="293.7" stroke="#111" stroke-width="1.0" />
<line x1="193.1" y1="298.0" x2="196.5" y2="294.6" stroke="#111" stroke-width="1.0" />
<line x1="194.8" y1="298.8" x2="198.2" y2="295.4" stroke="#111" stroke-width="1.0" />
<line x1="196.5" y1="299.6" x2="199.9" y2="296.2" stroke="#111" stroke-width="1.0" />
<line x1="198.2" y1="300.5" x2="201.6" y2="297.1" stroke="#111" stroke-width="1.0" />
<line x1="199.9" y1="301.3" x2="203.3" y2="297.9" stroke="#111" stroke-width="1.0" />
<line x1="201.6" y1="302.1" x2="205.0" y2="298.7" stroke="#111" stroke-width="1.0" />
<line x1="203.3" y1="303.0" x2="206.7" y2="299.6" stroke="#111" stroke-width="1.0" />
<line x1="205.0" y1="303.8" x2="208.4" y2="300.4" stroke="#111" stroke-width="1.0" />
<line x1="206.7" y1="304.6" x2="210.1" y2="301.2" stroke="#111" stroke-width="1.0" />
<line x1="208.4" y1="305.5" x2="211.8" y2="302.1" stroke="#111" stroke-width="1.0" />
<line x1="210.1" y1="306.3" x2="213.5" y2="302.9" stroke="#111" stroke-width="1.0" />
<line x1="211.8" y1="307.1" x2="215.2" y2="303.7" stroke="#111" stroke-width="1.0" />
<line x1="213.5" y1="308.0" x2="216.9" y2="304.6" stroke="#111" stroke-width="1.0" />
<line x1="165.3" y1="281.8" x2="216.1" y2="306.7" stroke="#000" stroke-width="2.016" />
<polygon points="178.4,271.2 230.1,296.4 230.1,293.9 178.4,268.7" fill="#fff" stroke="#111" stroke-width="0.9" stroke-linejoin="round"/>
<polygon points="230.1,296.4 234.2,292.3 234.2,289.8 230.1,293.9" fill="#222" stroke="#111" stroke-width="0.9" stroke-linejoin="round"/>
<polygon points="178.4,268.7 230.1,293.9 234.2,289.8 182.6,264.7" fill="#ddd" stroke="#111" stroke-width="0.9" stroke-linejoin="round"/>
<line x1="179.6" y1="268.8" x2="183.1" y2="265.4" stroke="#111" stroke-width="1.0" />
<line x1="181.4" y1="269.6" x2="184.8" y2="266.2" stroke="#111" stroke-width="1.0" />
<line x1="183.1" y1="270.4" x2="186.5" y2="267.1" stroke="#111" stroke-width="1.0" />
<line x1="184.8" y1="271.3" x2="188.2" y2="267.9" stroke="#111" stroke-width="1.0" />
<line x1="186.5" y1="272.1" x2="189.9" y2="268.7" stroke="#111" stroke-width="1.0" />
<line x1="188.2" y1="272.9" x2="191.6" y2="269.6" stroke="#111" stroke-width="1.0" />
<line x1="189.9" y1="273.8" x2="193.3" y2="270.4" stroke="#111" stroke-width="1.0" />
<line x1="191.6" y1="274.6" x2="195.0" y2="271.2" stroke="#111" stroke-width="1.0" />
<line x1="193.3" y1="275.4" x2="196.8" y2="272.1" stroke="#111" stroke-width="1.0" />
<line x1="195.0" y1="276.3" x2="198.5" y2="272.9" stroke="#111" stroke-width="1.0" />
<line x1="196.8" y1="277.1" x2="200.2" y2="273.7" stroke="#111" stroke-width="1.0" />
<line x1="198.5" y1="277.9" x2="201.9" y2="274.6" stroke="#111" stroke-width="1.0" />
<line x1="200.2" y1="278.8" x2="203.6" y2="275.4" stroke="#111" stroke-width="1.0" />
<line x1="201.9" y1="279.6" x2="205.3" y2="276.3" stroke="#111" stroke-width="1.0" />
<line x1="203.6" y1="280.5" x2="207.1" y2="277.1" stroke="#111" stroke-width="1.0" />
<line x1="205.4" y1="281.3" x2="208.8" y2="277.9" stroke="#111" stroke-width="1.0" />
<line x1="207.1" y1="282.1" x2="210.5" y2="278.8" stroke="#111" stroke-width="1.0" />
<line x1="208.8" y1="283.0" x2="212.2" y2="279.6" stroke="#111" stroke-width="1.0" />
<line x1="210.5" y1="283.8" x2="213.9" y2="280.4" stroke="#111" stroke-width="1.0" />
<line x1="212.3" y1="284.7" x2="215.7" y2="281.3" stroke="#111" stroke-width="1.0" />
<line x1="214.0" y1="285.5" x2="217.4" y2="282.1" stroke="#111" stroke-width="1.0" />
<line x1="215.7" y1="286.3" x2="219.1" y2="283.0" stroke="#111" stroke-width="1.0" />
<line x1="217.4" y1="287.2" x2="220.9" y2="283.8" stroke="#111" stroke-width="1.0" />
<line x1="219.2" y1="288.0" x2="222.6" y2="284.6" stroke="#111" stroke-width="1.0" />
<line x1="220.9" y1="288.9" x2="224.3" y2="285.5" stroke="#111" stroke-width="1.0" />
<line x1="222.6" y1="289.7" x2="226.0" y2="286.3" stroke="#111" stroke-width="1.0" />
<line x1="224.4" y1="290.6" x2="227.8" y2="287.2" stroke="#111" stroke-width="1.0" />
<line x1="226.1" y1="291.4" x2="229.5" y2="288.0" stroke="#111" stroke-width="1.0" />
<line x1="227.8" y1="292.3" x2="231.2" y2="288.9" stroke="#111" stroke-width="1.0" />
<line x1="229.6" y1="293.1" x2="233.0" y2="289.7" stroke="#111" stroke-width="1.0" />
<line x1="180.5" y1="266.7" x2="232.1" y2="291.8" stroke="#000" stroke-width="2.016" />
<polygon points="201.7,249.1 252.1,273.6 252.1,271.1 201.7,246.5" fill="#fff" stroke="#111" stroke-width="0.9" stroke-linejoin="round"/>
<polygon points="252.1,273.6 256.3,269.5 256.3,267.0 252.1,271.1" fill="#222" stroke="#111" stroke-width="0.9" stroke-linejoin="round"/>
<polygon points="201.7,246.5 252.1,271.1 256.3,267.0 205.8,242.5" fill="#ddd" stroke="#111" stroke-width="0.9" stroke-linejoin="round"/>
<line x1="202.9" y1="246.6" x2="206.3" y2="243.3" stroke="#111" stroke-width="1.0" />
<line x1="204.6" y1="247.4" x2="208.0" y2="244.1" stroke="#111" stroke-width="1.0" />
<line x1="206.3" y1="248.2" x2="209.7" y2="244.9" stroke="#111" stroke-width="1.0" />
<line x1="207.9" y1="249.0" x2="211.3" y2="245.7" stroke="#111" stroke-width="1.0" />
<line x1="209.6" y1="249.8" x2="213.0" y2="246.5" stroke="#111" stroke-width="1.0" />
<line x1="211.3" y1="250.7" x2="214.7" y2="247.3" stroke="#111" stroke-width="1.0" />
<line x1="212.9" y1="251.5" x2="216.3" y2="248.1" stroke="#111" stroke-width="1.0" />
<line x1="214.6" y1="252.3" x2="218.0" y2="248.9" stroke="#111" stroke-width="1.0" />
<line x1="216.3" y1="253.1" x2="219.7" y2="249.8" stroke="#111" stroke-width="1.0" />
<line x1="218.0" y1="253.9" x2="221.4" y2="250.6" stroke="#111" stroke-width="1.0" />
<line x1="219.6" y1="254.7" x2="223.0" y2="251.4" stroke="#111" stroke-width="1.0" />
<line x1="221.3" y1="255.5" x2="224.7" y2="252.2" stroke="#111" stroke-width="1.0" />
<line x1="223.0" y1="256.4" x2="226.4" y2="253.0" stroke="#111" stroke-width="1.0" />
<line x1="224.7" y1="257.2" x2="228.1" y2="253.8" stroke="#111" stroke-width="1.0" />
<line x1="226.3" y1="258.0" x2="229.7" y2="254.6" stroke="#111" stroke-width="1.0" />
<line x1="228.0" y1="258.8" x2="231.4" y2="255.5" stroke="#111" stroke-width="1.0" />
<line x1="229.7" y1="259.6" x2="233.1" y2="256.3" stroke="#111" stroke-width="1.0" />
<line x1="231.4" y1="260.4" x2="234.8" y2="257.1" stroke="#111" stroke-width="1.0" />
<line x1="233.1" y1="261.3" x2="236.5" y2="257.9" stroke="#111" stroke-width="1.0" />
<line x1="234.8" y1="262.1" x2="238.2" y2="258.7" stroke="#111" stroke-width="1.0" />
<line x1="236.4" y1="262.9" x2="239.8" y2="259.5" stroke="#111" stroke-width="1.0" />
<line x1="238.1" y1="263.7" x2="241.5" y2="260.4" stroke="#111" stroke-width="1.0" />
<line x1="239.8" y1="264.5" x2="243.2" y2="261.2" stroke="#111" stroke-width="1.0" />
<line x1="241.5" y1="265.4" x2="244.9" y2="262.0" stroke="#111" stroke-width="1.0" />
<line x1="243.2" y1="266.2" x2="246.6" y2="262.8" stroke="#111" stroke-width="1.0" />
<line x1="244.9" y1="267.0" x2="248.3" y2="263.6" stroke="#111" stroke-width="1.0" />
<line x1="246.6" y1="267.8" x2="250.0" y2="264.5" stroke="#111" stroke-width="1.0" />
<line x1="248.3" y1="268.6" x2="251.7" y2="265.3" stroke="#111" stroke-width="1.0" />
<line x1="250.0" y1="269.5" x2="253.4" y2="266.1" stroke="#111" stroke-width="1.0" />
<line x1="251.6" y1="270.3" x2="255.1" y2="266.9" stroke="#111" stroke-width="1.0" />
<line x1="203.8" y1="244.5" x2="254.2" y2="269.0" stroke="#000" stroke-width="2.016" />
<polygon points="170.1,280.8 183.8,287.7 183.8,285.2 170.1,278.3" fill="#fff" stroke="#111" stroke-width="0.9" stroke-linejoin="round"/>
<polygon points="183.8,287.7 187.3,284.3 187.3,281.7 183.8,285.2" fill="#222" stroke="#111" stroke-width="0.9" stroke-linejoin="round"/>
<polygon points="170.1,278.3 183.8,285.2 187.3,281.7 173.7,274.9" fill="#ddd" stroke="#111" stroke-width="0.9" stroke-linejoin="round"/>
<line x1="171.3" y1="278.4" x2="174.2" y2="275.6" stroke="#111" stroke-width="1.0" />
<line x1="173.0" y1="279.3" x2="175.9" y2="276.5" stroke="#111" stroke-width="1.0" />
<line x1="174.7" y1="280.1" x2="177.6" y2="277.3" stroke="#111" stroke-width="1.0" />
<line x1="176.4" y1="281.0" x2="179.3" y2="278.2" stroke="#111" stroke-width="1.0" />
<line x1="178.1" y1="281.9" x2="181.0" y2="279.1" stroke="#111" stroke-width="1.0" />
<line x1="179.8" y1="282.7" x2="182.7" y2="279.9" stroke="#111" stroke-width="1.0" />
<line x1="181.6" y1="283.6" x2="184.4" y2="280.8" stroke="#111" stroke-width="1.0" />
<line x1="183.3" y1="284.4" x2="186.1" y2="281.7" stroke="#111" stroke-width="1.0" />
<line x1="171.9" y1="276.6" x2="185.5" y2="283.5" stroke="#000" stroke-width="2.016" />
<polygon points="186.3,266.6 200.0,273.4 200.0,270.9 186.3,264.1" fill="#fff" stroke="#111" stroke-width="0.9" stroke-linejoin="round"/>
<polygon points="200.0,273.4 203.5,269.9 203.5,267.4 200.0,270.9" fill="#222" stroke="#111" stroke-width="0.9" stroke-linejoin="round"/>
<polygon points="186.3,264.1 200.0,270.9 203.5,267.4 189.8,260.6" fill="#ddd" stroke="#111" stroke-width="0.9" stroke-linejoin="round"/>
<line x1="187.5" y1="264.1" x2="190.3" y2="261.4" stroke="#111" stroke-width="1.0" />
<line x1="189.2" y1="265.0" x2="192.0" y2="262.2" stroke="#111" stroke-width="1.0" />
<line x1="190.9" y1="265.8" x2="193.7" y2="263.1" stroke="#111" stroke-width="1.0" />
<line x1="192.6" y1="266.7" x2="195.4" y2="263.9" stroke="#111" stroke-width="1.0" />
<line x1="194.3" y1="267.6" x2="197.1" y2="264.8" stroke="#111" stroke-width="1.0" />
<line x1="196.0" y1="268.4" x2="198.9" y2="265.6" stroke="#111" stroke-width="1.0" />
<line x1="197.7" y1="269.3" x2="200.6" y2="266.5" stroke="#111" stroke-width="1.0" />
<line x1="199.5" y1="270.1" x2="202.3" y2="267.3" stroke="#111" stroke-width="1.0" />
<line x1="188.1" y1="262.3" x2="201.7" y2="269.2" stroke="#000" stroke-width="2.016" />
<polygon points="193.5,258.2 208.0,265.4 208.0,262.9 193.5,255.7" fill="#fff" stroke="#111" stroke-width="0.9" stroke-linejoin="round"/>
<polygon points="208.0,265.4 211.6,262.0 211.6,259.5 208.0,262.9" fill="#222" stroke="#111" stroke-width="0.9" stroke-linejoin="round"/>
<polygon points="193.5,255.7 208.0,262.9 211.6,259.5 197.1,252.2" fill="#ddd" stroke="#111" stroke-width="0.9" stroke-linejoin="round"/>
<line x1="194.8" y1="255.8" x2="197.6" y2="253.0" stroke="#111" stroke-width="1.0" />
<line x1="196.6" y1="256.7" x2="199.4" y2="253.9" stroke="#111" stroke-width="1.0" />
<line x1="198.4" y1="257.6" x2="201.2" y2="254.8" stroke="#111" stroke-width="1.0" />
<line x1="200.2" y1="258.5" x2="203.0" y2="255.7" stroke="#111" stroke-width="1.0" />
<line x1="202.0" y1="259.4" x2="204.9" y2="256.6" stroke="#111" stroke-width="1.0" />
<line x1="203.9" y1="260.3" x2="206.7" y2="257.5" stroke="#111" stroke-width="1.0" />
<line x1="205.7" y1="261.2" x2="208.5" y2="258.5" stroke="#111" stroke-width="1.0" />
<line x1="207.5" y1="262.1" x2="210.3" y2="259.4" stroke="#111" stroke-width="1.0" />
<line x1="195.3" y1="254.0" x2="209.8" y2="261.2" stroke="#000" stroke-width="2.016" />
<polygon points="208.1,244.0 221.9,251.2 221.9,248.7 208.1,241.5" fill="#fff" stroke="#111" stroke-width="0.9" stroke-linejoin="round"/>
<polygon points="221.9,251.2 225.4,247.8 225.4,245.3 221.9,248.7" fill="#222" stroke="#111" stroke-width="0.9" stroke-linejoin="round"/>
<polygon points="208.1,241.5 221.9,248.7 225.4,245.3 211.6,238.1" fill="#ddd" stroke="#111" stroke-width="0.9" stroke-linejoin="round"/>
<line x1="209.3" y1="241.6" x2="212.1" y2="238.9" stroke="#111" stroke-width="1.0" />
<line x1="211.0" y1="242.5" x2="213.9" y2="239.8" stroke="#111" stroke-width="1.0" />
<line x1="212.8" y1="243.4" x2="215.6" y2="240.7" stroke="#111" stroke-width="1.0" />
<line x1="214.5" y1="244.3" x2="217.3" y2="241.6" stroke="#111" stroke-width="1.0" />
<line x1="216.2" y1="245.2" x2="219.0" y2="242.5" stroke="#111" stroke-width="1.0" />
<line x1="217.9" y1="246.1" x2="220.7" y2="243.4" stroke="#111" stroke-width="1.0" />
<line x1="219.7" y1="247.0" x2="222.5" y2="244.3" stroke="#111" stroke-width="1.0" />
<line x1="221.4" y1="247.9" x2="224.2" y2="245.2" stroke="#111" stroke-width="1.0" />
<line x1="209.9" y1="239.8" x2="223.7" y2="247.0" stroke="#000" stroke-width="2.016" />
<ellipse cx="227.0" cy="273.1" rx="5.4" ry="4.4" fill="#fff" stroke="#111" stroke-width="1.1"/>
<ellipse cx="227.4" cy="272.3" rx="4.0" ry="3.3" fill="#fff" stroke="#111" stroke-width="0.6"/>
<ellipse cx="220.6" cy="276.1" rx="1.1" ry="1.1" fill="#222" stroke="none" stroke-width="0.8"/>
<polygon points="174.0,260.0 169.9,264.0 169.9,262.3 174.0,258.4" fill="#333" stroke="#111" stroke-width="0.7" stroke-linejoin="round"/>
<polygon points="169.9,264.0 161.5,259.5 161.5,257.8 169.9,262.3" fill="#222" stroke="#111" stroke-width="0.7" stroke-linejoin="round"/>
<polygon points="161.5,257.8 165.6,253.9 174.0,258.4 169.9,262.3" fill="#fff" stroke="#111" stroke-width="0.7" stroke-linejoin="round"/>
<ellipse cx="163.0" cy="257.6" rx="0.8" ry="0.8" fill="#111" stroke="none" stroke-width="0"/>
<ellipse cx="164.4" cy="256.3" rx="0.8" ry="0.8" fill="#111" stroke="none" stroke-width="0"/>
<ellipse cx="165.7" cy="255.0" rx="0.8" ry="0.8" fill="#111" stroke="none" stroke-width="0"/>
<ellipse cx="164.7" cy="258.5" rx="0.8" ry="0.8" fill="#111" stroke="none" stroke-width="0"/>
<ellipse cx="166.1" cy="257.2" rx="0.8" ry="0.8" fill="#111" stroke="none" stroke-width="0"/>
<ellipse cx="167.4" cy="255.9" rx="0.8" ry="0.8" fill="#111" stroke="none" stroke-width="0"/>
<ellipse cx="166.4" cy="259.4" rx="0.8" ry="0.8" fill="#111" stroke="none" stroke-width="0"/>
<ellipse cx="167.8" cy="258.1" rx="0.8" ry="0.8" fill="#111" stroke="none" stroke-width="0"/>
<ellipse cx="169.1" cy="256.8" rx="0.8" ry="0.8" fill="#111" stroke="none" stroke-width="0"/>
<ellipse cx="168.1" cy="260.3" rx="0.8" ry="0.8" fill="#111" stroke="none" stroke-width="0"/>
<ellipse cx="169.4" cy="259.0" rx="0.8" ry="0.8" fill="#111" stroke="none" stroke-width="0"/>
<ellipse cx="170.8" cy="257.7" rx="0.8" ry="0.8" fill="#111" stroke="none" stroke-width="0"/>
<ellipse cx="169.8" cy="261.2" rx="0.8" ry="0.8" fill="#111" stroke="none" stroke-width="0"/>
<ellipse cx="171.1" cy="259.9" rx="0.8" ry="0.8" fill="#111" stroke="none" stroke-width="0"/>
<ellipse cx="172.5" cy="258.6" rx="0.8" ry="0.8" fill="#111" stroke="none" stroke-width="0"/>
<polygon points="187.5,252.8 184.8,255.5 184.8,253.8 187.5,251.2" fill="#333" stroke="#111" stroke-width="0.7" stroke-linejoin="round"/>
<polygon points="184.8,255.5 178.0,251.9 178.0,250.2 184.8,253.8" fill="#222" stroke="#111" stroke-width="0.7" stroke-linejoin="round"/>
<polygon points="178.0,250.2 180.7,247.6 187.5,251.2 184.8,253.8" fill="#fff" stroke="#111" stroke-width="0.7" stroke-linejoin="round"/>
<ellipse cx="179.5" cy="250.0" rx="0.8" ry="0.8" fill="#111" stroke="none" stroke-width="0"/>
<ellipse cx="180.9" cy="248.7" rx="0.8" ry="0.8" fill="#111" stroke="none" stroke-width="0"/>
<ellipse cx="181.2" cy="250.9" rx="0.8" ry="0.8" fill="#111" stroke="none" stroke-width="0"/>
<ellipse cx="182.6" cy="249.6" rx="0.8" ry="0.8" fill="#111" stroke="none" stroke-width="0"/>
<ellipse cx="182.9" cy="251.8" rx="0.8" ry="0.8" fill="#111" stroke="none" stroke-width="0"/>
<ellipse cx="184.3" cy="250.5" rx="0.8" ry="0.8" fill="#111" stroke="none" stroke-width="0"/>
<ellipse cx="184.6" cy="252.7" rx="0.8" ry="0.8" fill="#111" stroke="none" stroke-width="0"/>
<ellipse cx="186.0" cy="251.4" rx="0.8" ry="0.8" fill="#111" stroke="none" stroke-width="0"/>
<polygon points="160.0,277.1 157.4,279.6 157.4,277.9 160.0,275.4" fill="#333" stroke="#111" stroke-width="0.7" stroke-linejoin="round"/>
<polygon points="157.4,279.6 151.0,276.1 151.0,274.4 157.4,277.9" fill="#222" stroke="#111" stroke-width="0.7" stroke-linejoin="round"/>
<polygon points="151.0,274.4 153.6,271.9 160.0,275.4 157.4,277.9" fill="#fff" stroke="#111" stroke-width="0.7" stroke-linejoin="round"/>
<ellipse cx="152.4" cy="274.2" rx="0.8" ry="0.8" fill="#111" stroke="none" stroke-width="0"/>
<ellipse cx="153.7" cy="273.0" rx="0.8" ry="0.8" fill="#111" stroke="none" stroke-width="0"/>
<ellipse cx="154.0" cy="275.1" rx="0.8" ry="0.8" fill="#111" stroke="none" stroke-width="0"/>
<ellipse cx="155.3" cy="273.8" rx="0.8" ry="0.8" fill="#111" stroke="none" stroke-width="0"/>
<ellipse cx="155.7" cy="276.0" rx="0.8" ry="0.8" fill="#111" stroke="none" stroke-width="0"/>
<ellipse cx="157.0" cy="274.7" rx="0.8" ry="0.8" fill="#111" stroke="none" stroke-width="0"/>
<ellipse cx="157.3" cy="276.9" rx="0.8" ry="0.8" fill="#111" stroke="none" stroke-width="0"/>
<ellipse cx="158.6" cy="275.6" rx="0.8" ry="0.8" fill="#111" stroke="none" stroke-width="0"/>
<polygon points="157.7,285.3 155.1,287.9 155.1,286.2 157.7,283.6" fill="#333" stroke="#111" stroke-width="0.7" stroke-linejoin="round"/>
<polygon points="155.1,287.9 150.3,285.2 150.3,283.6 155.1,286.2" fill="#222" stroke="#111" stroke-width="0.7" stroke-linejoin="round"/>
<polygon points="150.3,283.6 152.9,281.0 157.7,283.6 155.1,286.2" fill="#fff" stroke="#111" stroke-width="0.7" stroke-linejoin="round"/>
<ellipse cx="151.7" cy="283.4" rx="0.8" ry="0.8" fill="#111" stroke="none" stroke-width="0"/>
<ellipse cx="153.0" cy="282.1" rx="0.8" ry="0.8" fill="#111" stroke="none" stroke-width="0"/>
<ellipse cx="153.4" cy="284.2" rx="0.8" ry="0.8" fill="#111" stroke="none" stroke-width="0"/>
<ellipse cx="154.7" cy="283.0" rx="0.8" ry="0.8" fill="#111" stroke="none" stroke-width="0"/>
<ellipse cx="155.0" cy="285.1" rx="0.8" ry="0.8" fill="#111" stroke="none" stroke-width="0"/>
<ellipse cx="156.3" cy="283.8" rx="0.8" ry="0.8" fill="#111" stroke="none" stroke-width="0"/>
<polygon points="168.8,293.5 166.2,296.1 166.2,294.4 168.8,291.8" fill="#333" stroke="#111" stroke-width="0.7" stroke-linejoin="round"/>
<polygon points="166.2,296.1 161.3,293.4 161.3,291.7 166.2,294.4" fill="#222" stroke="#111" stroke-width="0.7" stroke-linejoin="round"/>
<polygon points="161.3,291.7 163.9,289.2 168.8,291.8 166.2,294.4" fill="#fff" stroke="#111" stroke-width="0.7" stroke-linejoin="round"/>
<ellipse cx="162.8" cy="291.5" rx="0.8" ry="0.8" fill="#111" stroke="none" stroke-width="0"/>
<ellipse cx="164.1" cy="290.3" rx="0.8" ry="0.8" fill="#111" stroke="none" stroke-width="0"/>
<ellipse cx="164.4" cy="292.4" rx="0.8" ry="0.8" fill="#111" stroke="none" stroke-width="0"/>
<ellipse cx="165.7" cy="291.1" rx="0.8" ry="0.8" fill="#111" stroke="none" stroke-width="0"/>
<ellipse cx="166.0" cy="293.3" rx="0.8" ry="0.8" fill="#111" stroke="none" stroke-width="0"/>
<ellipse cx="167.3" cy="292.0" rx="0.8" ry="0.8" fill="#111" stroke="none" stroke-width="0"/>
<polygon points="184.1,301.7 181.5,304.2 181.5,302.6 184.1,300.0" fill="#333" stroke="#111" stroke-width="0.7" stroke-linejoin="round"/>
<polygon points="181.5,304.2 176.6,301.6 176.6,299.9 181.5,302.6" fill="#222" stroke="#111" stroke-width="0.7" stroke-linejoin="round"/>
<polygon points="176.6,299.9 179.2,297.3 184.1,300.0 181.5,302.6" fill="#fff" stroke="#111" stroke-width="0.7" stroke-linejoin="round"/>
<ellipse cx="178.1" cy="299.7" rx="0.8" ry="0.8" fill="#111" stroke="none" stroke-width="0"/>
<ellipse cx="179.4" cy="298.4" rx="0.8" ry="0.8" fill="#111" stroke="none" stroke-width="0"/>
<ellipse cx="179.7" cy="300.6" rx="0.8" ry="0.8" fill="#111" stroke="none" stroke-width="0"/>
<ellipse cx="181.0" cy="299.3" rx="0.8" ry="0.8" fill="#111" stroke="none" stroke-width="0"/>
<ellipse cx="181.3" cy="301.5" rx="0.8" ry="0.8" fill="#111" stroke="none" stroke-width="0"/>
<ellipse cx="182.6" cy="300.2" rx="0.8" ry="0.8" fill="#111" stroke="none" stroke-width="0"/>
<polygon points="202.9,310.7 200.3,313.3 200.3,311.6 202.9,309.0" fill="#333" stroke="#111" stroke-width="0.7" stroke-linejoin="round"/>
<polygon points="200.3,313.3 195.4,310.6 195.4,308.9 200.3,311.6" fill="#222" stroke="#111" stroke-width="0.7" stroke-linejoin="round"/>
<polygon points="195.4,308.9 198.0,306.4 202.9,309.0 200.3,311.6" fill="#fff" stroke="#111" stroke-width="0.7" stroke-linejoin="round"/>
<ellipse cx="196.8" cy="308.7" rx="0.8" ry="0.8" fill="#111" stroke="none" stroke-width="0"/>
<ellipse cx="198.1" cy="307.4" rx="0.8" ry="0.8" fill="#111" stroke="none" stroke-width="0"/>
<ellipse cx="198.5" cy="309.6" rx="0.8" ry="0.8" fill="#111" stroke="none" stroke-width="0"/>
<ellipse cx="199.8" cy="308.3" rx="0.8" ry="0.8" fill="#111" stroke="none" stroke-width="0"/>
<ellipse cx="200.1" cy="310.5" rx="0.8" ry="0.8" fill="#111" stroke="none" stroke-width="0"/>
<ellipse cx="201.4" cy="309.2" rx="0.8" ry="0.8" fill="#111" stroke="none" stroke-width="0"/>
<polygon points="247.1,336.6 244.5,339.2 244.5,337.5 247.1,334.9" fill="#333" stroke="#111" stroke-width="0.7" stroke-linejoin="round"/>
<polygon points="244.5,339.2 239.5,336.4 239.5,334.8 244.5,337.5" fill="#222" stroke="#111" stroke-width="0.7" stroke-linejoin="round"/>
<polygon points="239.5,334.8 242.1,332.2 247.1,334.9 244.5,337.5" fill="#fff" stroke="#111" stroke-width="0.7" stroke-linejoin="round"/>
<ellipse cx="241.0" cy="334.6" rx="0.8" ry="0.8" fill="#111" stroke="none" stroke-width="0"/>
<ellipse cx="242.3" cy="333.3" rx="0.8" ry="0.8" fill="#111" stroke="none" stroke-width="0"/>
<ellipse cx="242.6" cy="335.5" rx="0.8" ry="0.8" fill="#111" stroke="none" stroke-width="0"/>
<ellipse cx="244.0" cy="334.2" rx="0.8" ry="0.8" fill="#111" stroke="none" stroke-width="0"/>
<ellipse cx="244.3" cy="336.4" rx="0.8" ry="0.8" fill="#111" stroke="none" stroke-width="0"/>
<ellipse cx="245.6" cy="335.1" rx="0.8" ry="0.8" fill="#111" stroke="none" stroke-width="0"/>
<polygon points="215.3,316.6 212.5,319.3 212.5,317.6 215.3,314.9" fill="#333" stroke="#111" stroke-width="0.7" stroke-linejoin="round"/>
<polygon points="212.5,319.3 205.6,315.6 205.6,313.9 212.5,317.6" fill="#222" stroke="#111" stroke-width="0.7" stroke-linejoin="round"/>
<polygon points="205.6,313.9 208.4,311.2 215.3,314.9 212.5,317.6" fill="#fff" stroke="#111" stroke-width="0.7" stroke-linejoin="round"/>
<ellipse cx="207.2" cy="313.7" rx="0.8" ry="0.8" fill="#111" stroke="none" stroke-width="0"/>
<ellipse cx="208.6" cy="312.3" rx="0.8" ry="0.8" fill="#111" stroke="none" stroke-width="0"/>
<ellipse cx="208.9" cy="314.6" rx="0.8" ry="0.8" fill="#111" stroke="none" stroke-width="0"/>
<ellipse cx="210.3" cy="313.3" rx="0.8" ry="0.8" fill="#111" stroke="none" stroke-width="0"/>
<ellipse cx="210.6" cy="315.5" rx="0.8" ry="0.8" fill="#111" stroke="none" stroke-width="0"/>
<ellipse cx="212.0" cy="314.2" rx="0.8" ry="0.8" fill="#111" stroke="none" stroke-width="0"/>
<ellipse cx="212.4" cy="316.5" rx="0.8" ry="0.8" fill="#111" stroke="none" stroke-width="0"/>
<ellipse cx="213.7" cy="315.1" rx="0.8" ry="0.8" fill="#111" stroke="none" stroke-width="0"/>
<polygon points="235.1,325.7 232.4,328.4 232.4,326.8 235.1,324.0" fill="#333" stroke="#111" stroke-width="0.7" stroke-linejoin="round"/>
<polygon points="232.4,328.4 225.4,324.7 225.4,323.0 232.4,326.8" fill="#222" stroke="#111" stroke-width="0.7" stroke-linejoin="round"/>
<polygon points="225.4,323.0 228.2,320.3 235.1,324.0 232.4,326.8" fill="#fff" stroke="#111" stroke-width="0.7" stroke-linejoin="round"/>
<ellipse cx="227.0" cy="322.8" rx="0.8" ry="0.8" fill="#111" stroke="none" stroke-width="0"/>
<ellipse cx="228.4" cy="321.4" rx="0.8" ry="0.8" fill="#111" stroke="none" stroke-width="0"/>
<ellipse cx="228.7" cy="323.7" rx="0.8" ry="0.8" fill="#111" stroke="none" stroke-width="0"/>
<ellipse cx="230.1" cy="322.4" rx="0.8" ry="0.8" fill="#111" stroke="none" stroke-width="0"/>
<ellipse cx="230.5" cy="324.7" rx="0.8" ry="0.8" fill="#111" stroke="none" stroke-width="0"/>
<ellipse cx="231.8" cy="323.3" rx="0.8" ry="0.8" fill="#111" stroke="none" stroke-width="0"/>
<ellipse cx="232.2" cy="325.6" rx="0.8" ry="0.8" fill="#111" stroke="none" stroke-width="0"/>
<ellipse cx="233.6" cy="324.2" rx="0.8" ry="0.8" fill="#111" stroke="none" stroke-width="0"/>
<polygon points="256.3,342.9 255.0,344.2 255.0,342.5 256.3,341.2" fill="#333" stroke="#111" stroke-width="0.7" stroke-linejoin="round"/>
<polygon points="255.0,344.2 249.9,341.5 249.9,339.8 255.0,342.5" fill="#222" stroke="#111" stroke-width="0.7" stroke-linejoin="round"/>
<polygon points="249.9,339.8 251.2,338.5 256.3,341.2 255.0,342.5" fill="#fff" stroke="#111" stroke-width="0.7" stroke-linejoin="round"/>
<ellipse cx="251.4" cy="339.6" rx="0.8" ry="0.8" fill="#111" stroke="none" stroke-width="0"/>
<ellipse cx="253.1" cy="340.5" rx="0.8" ry="0.8" fill="#111" stroke="none" stroke-width="0"/>
<ellipse cx="254.8" cy="341.4" rx="0.8" ry="0.8" fill="#111" stroke="none" stroke-width="0"/>
<polygon points="256.3,341.1 252.8,344.7 252.8,343.0 256.3,339.5" fill="#fff" stroke="#111" stroke-width="0.8" stroke-linejoin="round"/>
<polygon points="252.8,344.7 250.5,343.5 250.5,341.8 252.8,343.0" fill="#fff" stroke="#111" stroke-width="0.8" stroke-linejoin="round"/>
<polygon points="250.5,341.8 254.0,338.2 256.3,339.5 252.8,343.0" fill="#fff" stroke="#111" stroke-width="0.8" stroke-linejoin="round"/>
<polygon points="210.4,227.3 202.2,235.4 202.2,221.1 210.4,213.1" fill="#fff" stroke="#111" stroke-width="0.9" stroke-linejoin="round"/>
<polygon points="202.2,235.4 192.0,229.9 192.0,215.6 202.2,221.1" fill="#fff" stroke="#111" stroke-width="0.9" stroke-linejoin="round"/>
<polygon points="192.0,215.6 200.1,207.7 210.4,213.1 202.2,221.1" fill="#fff" stroke="#111" stroke-width="0.9" stroke-linejoin="round"/>
<line x1="194.5" y1="217.0" x2="202.7" y2="209.0" stroke="#333" stroke-width="0.6"/>
<line x1="197.1" y1="218.4" x2="205.3" y2="210.4" stroke="#333" stroke-width="0.6"/>
<line x1="199.7" y1="219.7" x2="207.8" y2="211.7" stroke="#333" stroke-width="0.6"/>
<polygon points="225.4,214.1 218.4,220.9 218.4,207.5 225.4,200.6" fill="#fff" stroke="#111" stroke-width="0.9" stroke-linejoin="round"/>
<polygon points="218.4,220.9 210.3,216.7 210.3,203.2 218.4,207.5" fill="#fff" stroke="#111" stroke-width="0.9" stroke-linejoin="round"/>
<polygon points="210.3,203.2 217.3,196.4 225.4,200.6 218.4,207.5" fill="#fff" stroke="#111" stroke-width="0.9" stroke-linejoin="round"/>
<line x1="212.4" y1="204.3" x2="219.3" y2="197.5" stroke="#333" stroke-width="0.6"/>
<line x1="214.4" y1="205.3" x2="221.4" y2="198.5" stroke="#333" stroke-width="0.6"/>
<line x1="216.4" y1="206.4" x2="223.4" y2="199.6" stroke="#333" stroke-width="0.6"/>
<polygon points="241.6,205.6 232.9,214.2 232.9,198.2 241.6,189.7" fill="#fff" stroke="#111" stroke-width="0.9" stroke-linejoin="round"/>
<polygon points="232.9,214.2 221.9,208.4 221.9,192.4 232.9,198.2" fill="#fff" stroke="#111" stroke-width="0.9" stroke-linejoin="round"/>
<polygon points="221.9,192.4 230.6,183.9 241.6,189.7 232.9,198.2" fill="#fff" stroke="#111" stroke-width="0.9" stroke-linejoin="round"/>
<line x1="224.6" y1="193.9" x2="233.3" y2="185.4" stroke="#333" stroke-width="0.6"/>
<line x1="227.4" y1="195.3" x2="236.1" y2="186.8" stroke="#333" stroke-width="0.6"/>
<line x1="230.2" y1="196.8" x2="238.9" y2="188.2" stroke="#333" stroke-width="0.6"/>
<polygon points="256.6,191.5 246.8,201.1 246.8,186.8 256.6,177.2" fill="#fff" stroke="#111" stroke-width="0.9" stroke-linejoin="round"/>
<polygon points="246.8,201.1 234.2,194.6 234.2,180.3 246.8,186.8" fill="#fff" stroke="#111" stroke-width="0.9" stroke-linejoin="round"/>
<polygon points="234.2,180.3 244.1,170.7 256.6,177.2 246.8,186.8" fill="#fff" stroke="#111" stroke-width="0.9" stroke-linejoin="round"/>
<line x1="237.4" y1="182.0" x2="247.2" y2="172.3" stroke="#333" stroke-width="0.6"/>
<line x1="240.5" y1="183.6" x2="250.3" y2="174.0" stroke="#333" stroke-width="0.6"/>
<line x1="243.6" y1="185.2" x2="253.5" y2="175.6" stroke="#333" stroke-width="0.6"/>
<ellipse cx="258.0" cy="194.4" rx="1.8" ry="1.7" fill="#333" stroke="#111" stroke-width="0.6"/>
<ellipse cx="246.3" cy="200.0" rx="1.8" ry="1.7" fill="#333" stroke="#111" stroke-width="0.6"/>
<ellipse cx="234.8" cy="209.2" rx="1.8" ry="1.7" fill="#333" stroke="#111" stroke-width="0.6"/>
<ellipse cx="217.8" cy="221.0" rx="1.8" ry="1.7" fill="#333" stroke="#111" stroke-width="0.6"/>
<ellipse cx="196.9" cy="239.3" rx="1.8" ry="1.7" fill="#333" stroke="#111" stroke-width="0.6"/>
<ellipse cx="252.9" cy="281.5" rx="1.8" ry="1.7" fill="#333" stroke="#111" stroke-width="0.6"/>
<ellipse cx="216.8" cy="291.9" rx="1.8" ry="1.7" fill="#333" stroke="#111" stroke-width="0.6"/>
<ellipse cx="286.8" cy="241.2" rx="1.8" ry="1.7" fill="#333" stroke="#111" stroke-width="0.6"/>
<polygon points="282.9,268.6 327.2,220.0 345.6,229.6 301.2,278.4" fill="#fff" stroke="#111" stroke-width="0.8" stroke-linejoin="round"/>
<line x1="284.9" y1="270.0" x2="329.2" y2="221.4" stroke="#000" stroke-width="2.352" />
<line x1="286.7" y1="271.7" x2="331.0" y2="223.0" stroke="#666" stroke-width="0.7" />
<line x1="288.9" y1="272.1" x2="333.3" y2="223.5" stroke="#000" stroke-width="2.352" />
<line x1="290.7" y1="273.8" x2="335.0" y2="225.1" stroke="#666" stroke-width="0.7" />
<line x1="292.9" y1="274.2" x2="337.3" y2="225.5" stroke="#000" stroke-width="2.352" />
<line x1="294.7" y1="275.9" x2="339.1" y2="227.2" stroke="#666" stroke-width="0.7" />
<line x1="297.0" y1="276.4" x2="341.3" y2="227.6" stroke="#000" stroke-width="2.352" />
<line x1="298.8" y1="278.0" x2="343.1" y2="229.2" stroke="#666" stroke-width="0.7" />
<ellipse cx="345.1" cy="235.7" rx="2.5" ry="2.0" fill="#fff" stroke="#111" stroke-width="1.1"/>
<ellipse cx="344.6" cy="235.0" rx="1.3" ry="0.9" fill="#444" stroke="none" stroke-width="0"/>
<ellipse cx="341.1" cy="242.0" rx="2.5" ry="2.0" fill="#fff" stroke="#111" stroke-width="1.1"/>
<ellipse cx="340.7" cy="241.4" rx="1.3" ry="0.9" fill="#444" stroke="none" stroke-width="0"/>
<ellipse cx="336.9" cy="246.2" rx="2.5" ry="2.0" fill="#fff" stroke="#111" stroke-width="1.1"/>
<ellipse cx="336.5" cy="245.6" rx="1.3" ry="0.9" fill="#444" stroke="none" stroke-width="0"/>
<ellipse cx="332.7" cy="250.4" rx="2.5" ry="2.0" fill="#fff" stroke="#111" stroke-width="1.1"/>
<ellipse cx="332.3" cy="249.8" rx="1.3" ry="0.9" fill="#444" stroke="none" stroke-width="0"/>
<ellipse cx="328.5" cy="254.5" rx="2.5" ry="2.0" fill="#fff" stroke="#111" stroke-width="1.1"/>
<ellipse cx="328.1" cy="253.8" rx="1.3" ry="0.9" fill="#444" stroke="none" stroke-width="0"/>
<ellipse cx="338.1" cy="254.9" rx="2.5" ry="2.0" fill="#fff" stroke="#111" stroke-width="1.1"/>
<ellipse cx="337.6" cy="254.3" rx="1.3" ry="0.9" fill="#444" stroke="none" stroke-width="0"/>
<ellipse cx="321.1" cy="260.2" rx="2.5" ry="2.0" fill="#fff" stroke="#111" stroke-width="1.1"/>
<ellipse cx="320.7" cy="259.5" rx="1.3" ry="0.9" fill="#444" stroke="none" stroke-width="0"/>
<polygon points="334.0,260.1 322.3,271.7 322.3,269.2 334.0,257.5" fill="#333" stroke="#111" stroke-width="0.8" stroke-linejoin="round"/>
<polygon points="322.3,271.7 319.2,270.1 319.2,267.6 322.3,269.2" fill="#222" stroke="#111" stroke-width="0.8" stroke-linejoin="round"/>
<polygon points="319.2,267.6 330.9,255.9 334.0,257.5 322.3,269.2" fill="#fff" stroke="#111" stroke-width="0.8" stroke-linejoin="round"/>
<ellipse cx="321.3" cy="267.8" rx="0.8" ry="1.1" fill="#111" stroke="none" stroke-width="0"/>
<ellipse cx="322.5" cy="266.7" rx="0.8" ry="1.1" fill="#111" stroke="none" stroke-width="0"/>
<ellipse cx="323.7" cy="265.5" rx="0.8" ry="1.1" fill="#111" stroke="none" stroke-width="0"/>
<ellipse cx="324.8" cy="264.3" rx="0.8" ry="1.1" fill="#111" stroke="none" stroke-width="0"/>
<ellipse cx="326.0" cy="263.2" rx="0.8" ry="1.1" fill="#111" stroke="none" stroke-width="0"/>
<ellipse cx="327.2" cy="262.0" rx="0.8" ry="1.1" fill="#111" stroke="none" stroke-width="0"/>
<ellipse cx="328.3" cy="260.8" rx="0.8" ry="1.1" fill="#111" stroke="none" stroke-width="0"/>
<ellipse cx="329.5" cy="259.7" rx="0.8" ry="1.1" fill="#111" stroke="none" stroke-width="0"/>
<ellipse cx="330.7" cy="258.5" rx="0.8" ry="1.1" fill="#111" stroke="none" stroke-width="0"/>
<ellipse cx="331.9" cy="257.3" rx="0.8" ry="1.1" fill="#111" stroke="none" stroke-width="0"/>
<polygon points="353.0,240.2 344.9,248.4 344.9,245.8 353.0,237.7" fill="#333" stroke="#111" stroke-width="0.8" stroke-linejoin="round"/>
<polygon points="344.9,248.4 342.2,247.0 342.2,244.4 344.9,245.8" fill="#222" stroke="#111" stroke-width="0.8" stroke-linejoin="round"/>
<polygon points="342.2,244.4 350.4,236.3 353.0,237.7 344.9,245.8" fill="#fff" stroke="#111" stroke-width="0.8" stroke-linejoin="round"/>
<ellipse cx="344.1" cy="244.6" rx="0.8" ry="1.1" fill="#111" stroke="none" stroke-width="0"/>
<ellipse cx="345.3" cy="243.4" rx="0.8" ry="1.1" fill="#111" stroke="none" stroke-width="0"/>
<ellipse cx="346.5" cy="242.2" rx="0.8" ry="1.1" fill="#111" stroke="none" stroke-width="0"/>
<ellipse cx="347.6" cy="241.1" rx="0.8" ry="1.1" fill="#111" stroke="none" stroke-width="0"/>
<ellipse cx="348.8" cy="239.9" rx="0.8" ry="1.1" fill="#111" stroke="none" stroke-width="0"/>
<ellipse cx="350.0" cy="238.8" rx="0.8" ry="1.1" fill="#111" stroke="none" stroke-width="0"/>
<ellipse cx="351.1" cy="237.6" rx="0.8" ry="1.1" fill="#111" stroke="none" stroke-width="0"/>
<polygon points="315.2,280.3 311.1,284.4 311.1,281.9 315.2,277.8" fill="#333" stroke="#111" stroke-width="0.8" stroke-linejoin="round"/>
<polygon points="311.1,284.4 308.0,282.8 308.0,280.3 311.1,281.9" fill="#222" stroke="#111" stroke-width="0.8" stroke-linejoin="round"/>
<polygon points="308.0,280.3 312.1,276.2 315.2,277.8 311.1,281.9" fill="#fff" stroke="#111" stroke-width="0.8" stroke-linejoin="round"/>
<ellipse cx="310.2" cy="280.4" rx="0.8" ry="1.1" fill="#111" stroke="none" stroke-width="0"/>
<ellipse cx="311.6" cy="279.1" rx="0.8" ry="1.1" fill="#111" stroke="none" stroke-width="0"/>
<ellipse cx="313.0" cy="277.7" rx="0.8" ry="1.1" fill="#111" stroke="none" stroke-width="0"/>
<polygon points="302.6,290.1 351.8,234.4 357.1,236.8 307.9,292.6" fill="none" stroke="#333" stroke-width="0.6" stroke-linejoin="round"/>
<polygon points="263.5,336.2 270.5,340.5 270.5,331.2 263.5,327.0" fill="#fff" stroke="#111" stroke-width="0.8" stroke-linejoin="round"/>
<polygon points="270.5,340.5 277.2,335.3 277.2,326.0 270.5,331.2" fill="#111" stroke="#111" stroke-width="0.8" stroke-linejoin="round"/>
<polygon points="263.5,327.0 270.5,331.2 277.2,326.0 270.1,321.8" fill="#fff" stroke="#111" stroke-width="0.8" stroke-linejoin="round"/>
<polygon points="270.7,328.5 277.8,332.7 277.8,323.5 270.7,319.3" fill="#fff" stroke="#111" stroke-width="0.8" stroke-linejoin="round"/>
<polygon points="277.8,332.7 284.4,327.5 284.4,318.3 277.8,323.5" fill="#111" stroke="#111" stroke-width="0.8" stroke-linejoin="round"/>
<polygon points="270.7,319.3 277.8,323.5 284.4,318.3 277.4,314.1" fill="#fff" stroke="#111" stroke-width="0.8" stroke-linejoin="round"/>
<polygon points="277.9,320.8 285.0,325.0 285.0,315.7 277.9,311.5" fill="#fff" stroke="#111" stroke-width="0.8" stroke-linejoin="round"/>
<polygon points="285.0,325.0 291.6,319.8 291.6,310.6 285.0,315.7" fill="#111" stroke="#111" stroke-width="0.8" stroke-linejoin="round"/>
<polygon points="277.9,311.5 285.0,315.7 291.6,310.6 284.6,306.4" fill="#fff" stroke="#111" stroke-width="0.8" stroke-linejoin="round"/>
<polygon points="285.2,313.1 292.2,317.3 292.2,308.0 285.2,303.8" fill="#fff" stroke="#111" stroke-width="0.8" stroke-linejoin="round"/>
<polygon points="292.2,317.3 298.8,312.1 298.8,302.9 292.2,308.0" fill="#111" stroke="#111" stroke-width="0.8" stroke-linejoin="round"/>
<polygon points="285.2,303.8 292.2,308.0 298.8,302.9 291.8,298.7" fill="#fff" stroke="#111" stroke-width="0.8" stroke-linejoin="round"/>
<polygon points="292.2,306.2 298.4,310.4 298.4,302.8 292.2,298.7" fill="#fff" stroke="#111" stroke-width="0.8" stroke-linejoin="round"/>
<polygon points="298.4,310.4 309.9,299.3 309.9,291.7 298.4,302.8" fill="#111" stroke="#111" stroke-width="0.8" stroke-linejoin="round"/>
<polygon points="292.2,298.7 298.4,302.8 309.9,291.7 303.7,287.6" fill="#fff" stroke="#111" stroke-width="0.8" stroke-linejoin="round"/>
<ellipse cx="254.1" cy="281.5" rx="1.8" ry="1.5" fill="#fff" stroke="#111" stroke-width="1"/>
<ellipse cx="270.0" cy="285.5" rx="1.8" ry="1.5" fill="#fff" stroke="#111" stroke-width="1"/>
<ellipse cx="273.5" cy="288.8" rx="1.8" ry="1.5" fill="#fff" stroke="#111" stroke-width="1"/>
<ellipse cx="277.9" cy="290.4" rx="1.8" ry="1.5" fill="#fff" stroke="#111" stroke-width="1"/>
<ellipse cx="266.1" cy="295.6" rx="1.8" ry="1.5" fill="#fff" stroke="#111" stroke-width="1"/>
<ellipse cx="274.7" cy="297.1" rx="1.8" ry="1.5" fill="#fff" stroke="#111" stroke-width="1"/>
<polygon points="272.5,285.6 269.9,288.2 269.9,286.5 272.5,283.9" fill="#333" stroke="#111" stroke-width="0.7" stroke-linejoin="round"/>
<polygon points="269.9,288.2 264.9,285.5 264.9,283.8 269.9,286.5" fill="#222" stroke="#111" stroke-width="0.7" stroke-linejoin="round"/>
<polygon points="264.9,283.8 267.5,281.3 272.5,283.9 269.9,286.5" fill="#fff" stroke="#111" stroke-width="0.7" stroke-linejoin="round"/>
<ellipse cx="266.4" cy="283.6" rx="0.8" ry="0.8" fill="#111" stroke="none" stroke-width="0"/>
<ellipse cx="267.7" cy="282.3" rx="0.8" ry="0.8" fill="#111" stroke="none" stroke-width="0"/>
<ellipse cx="268.0" cy="284.5" rx="0.8" ry="0.8" fill="#111" stroke="none" stroke-width="0"/>
<ellipse cx="269.3" cy="283.2" rx="0.8" ry="0.8" fill="#111" stroke="none" stroke-width="0"/>
<ellipse cx="269.7" cy="285.4" rx="0.8" ry="0.8" fill="#111" stroke="none" stroke-width="0"/>
<ellipse cx="271.0" cy="284.1" rx="0.8" ry="0.8" fill="#111" stroke="none" stroke-width="0"/>
<polygon points="225.9,311.1 230.2,313.6 230.2,310.3 225.9,307.8" fill="#fff" stroke="#111" stroke-width="0.8" stroke-linejoin="round"/>
<polygon points="230.2,313.6 236.7,305.1 236.7,301.8 230.2,310.3" fill="#222" stroke="#111" stroke-width="0.8" stroke-linejoin="round"/>
<polygon points="225.9,307.8 230.2,310.3 236.7,301.8 232.4,299.3" fill="#fff" stroke="#111" stroke-width="0.8" stroke-linejoin="round"/>
<polygon points="253.4,246.6 242.8,257.0 242.8,250.3 253.4,239.9" fill="#fff" stroke="#111" stroke-width="0.9" stroke-linejoin="round"/>
<polygon points="242.8,257.0 233.1,251.9 233.1,245.2 242.8,250.3" fill="#fff" stroke="#111" stroke-width="0.9" stroke-linejoin="round"/>
<polygon points="233.1,245.2 243.7,234.8 253.4,239.9 242.8,250.3" fill="#fff" stroke="#111" stroke-width="0.9" stroke-linejoin="round"/>
<line x1="234.9" y1="245.1" x2="240.9" y2="248.4" stroke="#111" stroke-width="0.8" />
<line x1="237.4" y1="242.8" x2="243.4" y2="246.0" stroke="#111" stroke-width="0.8" />
<line x1="239.8" y1="240.5" x2="245.8" y2="243.7" stroke="#111" stroke-width="0.8" />
<line x1="242.3" y1="238.1" x2="248.3" y2="241.3" stroke="#111" stroke-width="0.8" />
<line x1="244.7" y1="235.8" x2="250.7" y2="239.0" stroke="#111" stroke-width="0.8" />
<ellipse cx="249.9" cy="241.6" rx="2.7" ry="2.3" fill="#fff" stroke="#111" stroke-width="1.0"/>
<polygon points="314.2,218.4 303.7,228.7 303.7,222.0 314.2,211.7" fill="#fff" stroke="#111" stroke-width="0.9" stroke-linejoin="round"/>
<polygon points="303.7,228.7 294.7,224.1 294.7,217.3 303.7,222.0" fill="#fff" stroke="#111" stroke-width="0.9" stroke-linejoin="round"/>
<polygon points="294.7,217.3 305.1,207.0 314.2,211.7 303.7,222.0" fill="#fff" stroke="#111" stroke-width="0.9" stroke-linejoin="round"/>
<line x1="297.8" y1="217.9" x2="303.1" y2="221.1" stroke="#111" stroke-width="0.8" />
<line x1="300.6" y1="215.2" x2="305.8" y2="218.4" stroke="#111" stroke-width="0.8" />
<line x1="303.3" y1="212.6" x2="308.6" y2="215.7" stroke="#111" stroke-width="0.8" />
<line x1="306.1" y1="209.9" x2="311.3" y2="213.1" stroke="#111" stroke-width="0.8" />
<ellipse cx="310.3" cy="212.8" rx="2.9" ry="2.4" fill="#fff" stroke="#111" stroke-width="1.0"/>
<path d="M263,201 L230,232 Q224,238 229,245 L233,249" fill="none" stroke="#222" stroke-width="0.7"/>
<path d="M266,203 L233,234 Q228,239 232,244 L236,248" fill="none" stroke="#222" stroke-width="0.7"/>
<polygon points="273.3,196.2 270.7,198.8 270.7,197.2 273.3,194.6" fill="#333" stroke="#111" stroke-width="0.7" stroke-linejoin="round"/>
<polygon points="270.7,198.8 260.4,193.6 260.4,191.9 270.7,197.2" fill="#222" stroke="#111" stroke-width="0.7" stroke-linejoin="round"/>
<polygon points="260.4,191.9 263.1,189.3 273.3,194.6 270.7,197.2" fill="#fff" stroke="#111" stroke-width="0.7" stroke-linejoin="round"/>
<ellipse cx="262.0" cy="191.7" rx="0.8" ry="0.8" fill="#111" stroke="none" stroke-width="0"/>
<ellipse cx="263.3" cy="190.4" rx="0.8" ry="0.8" fill="#111" stroke="none" stroke-width="0"/>
<ellipse cx="263.7" cy="192.6" rx="0.8" ry="0.8" fill="#111" stroke="none" stroke-width="0"/>
<ellipse cx="265.0" cy="191.3" rx="0.8" ry="0.8" fill="#111" stroke="none" stroke-width="0"/>
<ellipse cx="265.4" cy="193.4" rx="0.8" ry="0.8" fill="#111" stroke="none" stroke-width="0"/>
<ellipse cx="266.7" cy="192.1" rx="0.8" ry="0.8" fill="#111" stroke="none" stroke-width="0"/>
<ellipse cx="267.1" cy="194.3" rx="0.8" ry="0.8" fill="#111" stroke="none" stroke-width="0"/>
<ellipse cx="268.4" cy="193.0" rx="0.8" ry="0.8" fill="#111" stroke="none" stroke-width="0"/>
<ellipse cx="268.8" cy="195.2" rx="0.8" ry="0.8" fill="#111" stroke="none" stroke-width="0"/>
<ellipse cx="270.1" cy="193.9" rx="0.8" ry="0.8" fill="#111" stroke="none" stroke-width="0"/>
<ellipse cx="270.5" cy="196.1" rx="0.8" ry="0.8" fill="#111" stroke="none" stroke-width="0"/>
<ellipse cx="271.8" cy="194.8" rx="0.8" ry="0.8" fill="#111" stroke="none" stroke-width="0"/>
<polygon points="263.9,217.4 248.7,232.3 248.7,229.4 263.9,214.5" fill="#333" stroke="#111" stroke-width="0.8" stroke-linejoin="round"/>
<polygon points="248.7,232.3 244.3,230.0 244.3,227.0 248.7,229.4" fill="#222" stroke="#111" stroke-width="0.8" stroke-linejoin="round"/>
<polygon points="244.3,227.0 259.4,212.2 263.9,214.5 248.7,229.4" fill="#fff" stroke="#111" stroke-width="0.8" stroke-linejoin="round"/>
<ellipse cx="246.1" cy="227.0" rx="0.8" ry="0.9" fill="#111" stroke="none" stroke-width="0"/>
<ellipse cx="248.2" cy="228.1" rx="0.8" ry="0.9" fill="#111" stroke="none" stroke-width="0"/>
<ellipse cx="247.5" cy="225.6" rx="0.8" ry="0.9" fill="#111" stroke="none" stroke-width="0"/>
<ellipse cx="249.6" cy="226.7" rx="0.8" ry="0.9" fill="#111" stroke="none" stroke-width="0"/>
<ellipse cx="248.9" cy="224.3" rx="0.8" ry="0.9" fill="#111" stroke="none" stroke-width="0"/>
<ellipse cx="251.0" cy="225.4" rx="0.8" ry="0.9" fill="#111" stroke="none" stroke-width="0"/>
<ellipse cx="250.3" cy="222.9" rx="0.8" ry="0.9" fill="#111" stroke="none" stroke-width="0"/>
<ellipse cx="252.4" cy="224.0" rx="0.8" ry="0.9" fill="#111" stroke="none" stroke-width="0"/>
<ellipse cx="251.7" cy="221.6" rx="0.8" ry="0.9" fill="#111" stroke="none" stroke-width="0"/>
<ellipse cx="253.7" cy="222.7" rx="0.8" ry="0.9" fill="#111" stroke="none" stroke-width="0"/>
<ellipse cx="253.0" cy="220.2" rx="0.8" ry="0.9" fill="#111" stroke="none" stroke-width="0"/>
<ellipse cx="255.1" cy="221.3" rx="0.8" ry="0.9" fill="#111" stroke="none" stroke-width="0"/>
<ellipse cx="254.4" cy="218.9" rx="0.8" ry="0.9" fill="#111" stroke="none" stroke-width="0"/>
<ellipse cx="256.5" cy="219.9" rx="0.8" ry="0.9" fill="#111" stroke="none" stroke-width="0"/>
<ellipse cx="255.8" cy="217.5" rx="0.8" ry="0.9" fill="#111" stroke="none" stroke-width="0"/>
<ellipse cx="257.9" cy="218.6" rx="0.8" ry="0.9" fill="#111" stroke="none" stroke-width="0"/>
<ellipse cx="257.2" cy="216.2" rx="0.8" ry="0.9" fill="#111" stroke="none" stroke-width="0"/>
<ellipse cx="259.2" cy="217.2" rx="0.8" ry="0.9" fill="#111" stroke="none" stroke-width="0"/>
<ellipse cx="258.5" cy="214.8" rx="0.8" ry="0.9" fill="#111" stroke="none" stroke-width="0"/>
<ellipse cx="260.6" cy="215.9" rx="0.8" ry="0.9" fill="#111" stroke="none" stroke-width="0"/>
<ellipse cx="259.9" cy="213.5" rx="0.8" ry="0.9" fill="#111" stroke="none" stroke-width="0"/>
<ellipse cx="262.0" cy="214.5" rx="0.8" ry="0.9" fill="#111" stroke="none" stroke-width="0"/>
<polygon points="258.7,237.3 274.0,224.5 295.6,229.3 278.2,248.0" fill="#fff" stroke="#111" stroke-width="1.0" stroke-linejoin="round"/>
<polygon points="264.7,235.8 275.3,227.4 288.9,230.5 278.4,240.5" fill="#fff" stroke="#111" stroke-width="0.7" stroke-linejoin="round"/>
<polygon points="269.7,234.9 276.2,229.8 283.9,232.2 278.2,237.2" fill="#fff" stroke="#111" stroke-width="0.6" stroke-linejoin="round"/>
<polygon points="264.3,119.1 258.7,109.0 254.1,112.2 258.5,123.0" fill="#1e9bd7" stroke="#0b3d5c" stroke-width="0.8" stroke-linejoin="round"/>
<polygon points="293.6,124.5 298.9,114.1 294.5,110.5 288.3,120.0" fill="#1e9bd7" stroke="#0b3d5c" stroke-width="0.8" stroke-linejoin="round"/>
<polygon points="274.1,135.3 234.1,146.7 235.9,152.9 275.9,141.5" fill="#1e9bd7" stroke="#0b3d5c" stroke-width="0.8"/>
<ellipse cx="235.0" cy="149.8" rx="4.2" ry="3" fill="#1e9bd7" stroke="#0b3d5c" stroke-width="0.8"/>
<polygon points="274.7,141.6 312.0,145.7 312.6,139.3 275.3,135.2" fill="#1e9bd7" stroke="#0b3d5c" stroke-width="0.8"/>
<ellipse cx="312.3" cy="142.5" rx="4.2" ry="3" fill="#1e9bd7" stroke="#0b3d5c" stroke-width="0.8"/>
<polygon points="271.8,139.0 276.7,166.6 283.1,165.4 278.2,137.8" fill="#1e9bd7" stroke="#0b3d5c" stroke-width="0.8"/>
<ellipse cx="279.9" cy="166.0" rx="4.2" ry="3" fill="#1e9bd7" stroke="#0b3d5c" stroke-width="0.8"/>
<path d="M246.0,130.0 L246.0,144.0 A29.0,17.0 0 0 0 304.0,144.0 L304.0,130.0 Z" fill="#1e9bd7" stroke="#0b3d5c" stroke-width="0.9"/>
<line x1="304.0" y1="130.0" x2="304.0" y2="144.0" stroke="#0b3d5c" stroke-width="1.15"/>
<line x1="303.9" y1="131.2" x2="303.9" y2="145.2" stroke="#0b3d5c" stroke-width="1.15"/>
<line x1="303.7" y1="132.4" x2="303.7" y2="146.4" stroke="#0b3d5c" stroke-width="1.15"/>
<line x1="303.3" y1="133.6" x2="303.3" y2="147.6" stroke="#0b3d5c" stroke-width="1.15"/>
<line x1="302.8" y1="134.8" x2="302.8" y2="148.8" stroke="#0b3d5c" stroke-width="1.15"/>
<line x1="302.2" y1="135.9" x2="302.2" y2="149.9" stroke="#0b3d5c" stroke-width="1.15"/>
<line x1="301.4" y1="137.1" x2="301.4" y2="151.1" stroke="#0b3d5c" stroke-width="1.15"/>
<line x1="300.5" y1="138.1" x2="300.5" y2="152.1" stroke="#0b3d5c" stroke-width="1.15"/>
<line x1="299.4" y1="139.2" x2="299.4" y2="153.2" stroke="#0b3d5c" stroke-width="1.15"/>
<line x1="298.2" y1="140.2" x2="298.2" y2="154.2" stroke="#0b3d5c" stroke-width="1.15"/>
<line x1="296.9" y1="141.1" x2="296.9" y2="155.1" stroke="#0b3d5c" stroke-width="1.15"/>
<line x1="295.5" y1="142.0" x2="295.5" y2="156.0" stroke="#0b3d5c" stroke-width="1.15"/>
<line x1="294.0" y1="142.8" x2="294.0" y2="156.8" stroke="#0b3d5c" stroke-width="1.15"/>
<line x1="292.4" y1="143.6" x2="292.4" y2="157.6" stroke="#0b3d5c" stroke-width="1.15"/>
<line x1="290.7" y1="144.3" x2="290.7" y2="158.3" stroke="#0b3d5c" stroke-width="1.15"/>
<line x1="288.9" y1="144.9" x2="288.9" y2="158.9" stroke="#0b3d5c" stroke-width="1.15"/>
<line x1="287.0" y1="145.5" x2="287.0" y2="159.5" stroke="#0b3d5c" stroke-width="1.15"/>
<line x1="285.1" y1="145.9" x2="285.1" y2="159.9" stroke="#0b3d5c" stroke-width="1.15"/>
<line x1="283.2" y1="146.3" x2="283.2" y2="160.3" stroke="#0b3d5c" stroke-width="1.15"/>
<line x1="281.2" y1="146.6" x2="281.2" y2="160.6" stroke="#0b3d5c" stroke-width="1.15"/>
<line x1="279.1" y1="146.8" x2="279.1" y2="160.8" stroke="#0b3d5c" stroke-width="1.15"/>
<line x1="277.1" y1="147.0" x2="277.1" y2="161.0" stroke="#0b3d5c" stroke-width="1.15"/>
<line x1="275.0" y1="147.0" x2="275.0" y2="161.0" stroke="#0b3d5c" stroke-width="1.15"/>
<line x1="272.9" y1="147.0" x2="272.9" y2="161.0" stroke="#0b3d5c" stroke-width="1.15"/>
<line x1="270.9" y1="146.8" x2="270.9" y2="160.8" stroke="#0b3d5c" stroke-width="1.15"/>
<line x1="268.8" y1="146.6" x2="268.8" y2="160.6" stroke="#0b3d5c" stroke-width="1.15"/>
<line x1="266.8" y1="146.3" x2="266.8" y2="160.3" stroke="#0b3d5c" stroke-width="1.15"/>
<line x1="264.9" y1="145.9" x2="264.9" y2="159.9" stroke="#0b3d5c" stroke-width="1.15"/>
<line x1="263.0" y1="145.5" x2="263.0" y2="159.5" stroke="#0b3d5c" stroke-width="1.15"/>
<line x1="261.1" y1="144.9" x2="261.1" y2="158.9" stroke="#0b3d5c" stroke-width="1.15"/>
<line x1="259.3" y1="144.3" x2="259.3" y2="158.3" stroke="#0b3d5c" stroke-width="1.15"/>
<line x1="257.6" y1="143.6" x2="257.6" y2="157.6" stroke="#0b3d5c" stroke-width="1.15"/>
<line x1="256.0" y1="142.8" x2="256.0" y2="156.8" stroke="#0b3d5c" stroke-width="1.15"/>
<line x1="254.5" y1="142.0" x2="254.5" y2="156.0" stroke="#0b3d5c" stroke-width="1.15"/>
<line x1="253.1" y1="141.1" x2="253.1" y2="155.1" stroke="#0b3d5c" stroke-width="1.15"/>
<line x1="251.8" y1="140.2" x2="251.8" y2="154.2" stroke="#0b3d5c" stroke-width="1.15"/>
<line x1="250.6" y1="139.2" x2="250.6" y2="153.2" stroke="#0b3d5c" stroke-width="1.15"/>
<line x1="249.5" y1="138.1" x2="249.5" y2="152.1" stroke="#0b3d5c" stroke-width="1.15"/>
<line x1="248.6" y1="137.1" x2="248.6" y2="151.1" stroke="#0b3d5c" stroke-width="1.15"/>
<line x1="247.8" y1="135.9" x2="247.8" y2="149.9" stroke="#0b3d5c" stroke-width="1.15"/>
<line x1="247.2" y1="134.8" x2="247.2" y2="148.8" stroke="#0b3d5c" stroke-width="1.15"/>
<line x1="246.7" y1="133.6" x2="246.7" y2="147.6" stroke="#0b3d5c" stroke-width="1.15"/>
<line x1="246.3" y1="132.4" x2="246.3" y2="146.4" stroke="#0b3d5c" stroke-width="1.15"/>
<line x1="246.1" y1="131.2" x2="246.1" y2="145.2" stroke="#0b3d5c" stroke-width="1.15"/>
<line x1="246.0" y1="130.0" x2="246.0" y2="144.0" stroke="#0b3d5c" stroke-width="1.15"/>
<ellipse cx="275.0" cy="130.0" rx="29.0" ry="17.0" fill="#1e9bd7" stroke="#0b3d5c" stroke-width="0.9"/>
<line x1="295.9" y1="130.0" x2="303.4" y2="130.0" stroke="#0b3d5c" stroke-width="0.8"/>
<line x1="295.8" y1="131.1" x2="303.3" y2="131.5" stroke="#0b3d5c" stroke-width="0.8"/>
<line x1="295.6" y1="132.1" x2="303.0" y2="132.9" stroke="#0b3d5c" stroke-width="0.8"/>
<line x1="295.2" y1="133.2" x2="302.5" y2="134.3" stroke="#0b3d5c" stroke-width="0.8"/>
<line x1="294.6" y1="134.2" x2="301.7" y2="135.7" stroke="#0b3d5c" stroke-width="0.8"/>
<line x1="293.9" y1="135.2" x2="300.8" y2="137.0" stroke="#0b3d5c" stroke-width="0.8"/>
<line x1="293.1" y1="136.1" x2="299.6" y2="138.3" stroke="#0b3d5c" stroke-width="0.8"/>
<line x1="292.1" y1="137.0" x2="298.3" y2="139.6" stroke="#0b3d5c" stroke-width="0.8"/>
<line x1="291.0" y1="137.9" x2="296.8" y2="140.7" stroke="#0b3d5c" stroke-width="0.8"/>
<line x1="289.8" y1="138.7" x2="295.1" y2="141.8" stroke="#0b3d5c" stroke-width="0.8"/>
<line x1="288.4" y1="139.4" x2="293.3" y2="142.8" stroke="#0b3d5c" stroke-width="0.8"/>
<line x1="287.0" y1="140.0" x2="291.3" y2="143.6" stroke="#0b3d5c" stroke-width="0.8"/>
<line x1="285.4" y1="140.6" x2="289.2" y2="144.4" stroke="#0b3d5c" stroke-width="0.8"/>
<line x1="283.8" y1="141.1" x2="287.0" y2="145.1" stroke="#0b3d5c" stroke-width="0.8"/>
<line x1="282.1" y1="141.5" x2="284.7" y2="145.7" stroke="#0b3d5c" stroke-width="0.8"/>
<line x1="280.4" y1="141.8" x2="282.4" y2="146.1" stroke="#0b3d5c" stroke-width="0.8"/>
<line x1="278.6" y1="142.1" x2="279.9" y2="146.4" stroke="#0b3d5c" stroke-width="0.8"/>
<line x1="276.8" y1="142.2" x2="277.5" y2="146.6" stroke="#0b3d5c" stroke-width="0.8"/>
<line x1="275.0" y1="142.2" x2="275.0" y2="146.7" stroke="#0b3d5c" stroke-width="0.8"/>
<line x1="273.2" y1="142.2" x2="272.5" y2="146.6" stroke="#0b3d5c" stroke-width="0.8"/>
<line x1="271.4" y1="142.1" x2="270.1" y2="146.4" stroke="#0b3d5c" stroke-width="0.8"/>
<line x1="269.6" y1="141.8" x2="267.6" y2="146.1" stroke="#0b3d5c" stroke-width="0.8"/>
<line x1="267.9" y1="141.5" x2="265.3" y2="145.7" stroke="#0b3d5c" stroke-width="0.8"/>
<line x1="266.2" y1="141.1" x2="263.0" y2="145.1" stroke="#0b3d5c" stroke-width="0.8"/>
<line x1="264.6" y1="140.6" x2="260.8" y2="144.4" stroke="#0b3d5c" stroke-width="0.8"/>
<line x1="263.0" y1="140.0" x2="258.7" y2="143.6" stroke="#0b3d5c" stroke-width="0.8"/>
<line x1="261.6" y1="139.4" x2="256.7" y2="142.8" stroke="#0b3d5c" stroke-width="0.8"/>
<line x1="260.2" y1="138.7" x2="254.9" y2="141.8" stroke="#0b3d5c" stroke-width="0.8"/>
<line x1="259.0" y1="137.9" x2="253.2" y2="140.7" stroke="#0b3d5c" stroke-width="0.8"/>
<line x1="257.9" y1="137.0" x2="251.7" y2="139.6" stroke="#0b3d5c" stroke-width="0.8"/>
<line x1="256.9" y1="136.1" x2="250.4" y2="138.3" stroke="#0b3d5c" stroke-width="0.8"/>
<line x1="256.1" y1="135.2" x2="249.2" y2="137.0" stroke="#0b3d5c" stroke-width="0.8"/>
<line x1="255.4" y1="134.2" x2="248.3" y2="135.7" stroke="#0b3d5c" stroke-width="0.8"/>
<line x1="254.8" y1="133.2" x2="247.5" y2="134.3" stroke="#0b3d5c" stroke-width="0.8"/>
<line x1="254.4" y1="132.1" x2="247.0" y2="132.9" stroke="#0b3d5c" stroke-width="0.8"/>
<line x1="254.2" y1="131.1" x2="246.7" y2="131.5" stroke="#0b3d5c" stroke-width="0.8"/>
<line x1="254.1" y1="130.0" x2="246.6" y2="130.0" stroke="#0b3d5c" stroke-width="0.8"/>
<line x1="254.2" y1="128.9" x2="246.7" y2="128.5" stroke="#0b3d5c" stroke-width="0.8"/>
<line x1="254.4" y1="127.9" x2="247.0" y2="127.1" stroke="#0b3d5c" stroke-width="0.8"/>
<line x1="254.8" y1="126.8" x2="247.5" y2="125.7" stroke="#0b3d5c" stroke-width="0.8"/>
<line x1="255.4" y1="125.8" x2="248.3" y2="124.3" stroke="#0b3d5c" stroke-width="0.8"/>
<line x1="256.1" y1="124.8" x2="249.2" y2="123.0" stroke="#0b3d5c" stroke-width="0.8"/>
<line x1="256.9" y1="123.9" x2="250.4" y2="121.7" stroke="#0b3d5c" stroke-width="0.8"/>
<line x1="257.9" y1="123.0" x2="251.7" y2="120.4" stroke="#0b3d5c" stroke-width="0.8"/>
<line x1="259.0" y1="122.1" x2="253.2" y2="119.3" stroke="#0b3d5c" stroke-width="0.8"/>
<line x1="260.2" y1="121.3" x2="254.9" y2="118.2" stroke="#0b3d5c" stroke-width="0.8"/>
<line x1="261.6" y1="120.6" x2="256.7" y2="117.2" stroke="#0b3d5c" stroke-width="0.8"/>
<line x1="263.0" y1="120.0" x2="258.7" y2="116.4" stroke="#0b3d5c" stroke-width="0.8"/>
<line x1="264.6" y1="119.4" x2="260.8" y2="115.6" stroke="#0b3d5c" stroke-width="0.8"/>
<line x1="266.2" y1="118.9" x2="263.0" y2="114.9" stroke="#0b3d5c" stroke-width="0.8"/>
<line x1="267.9" y1="118.5" x2="265.3" y2="114.3" stroke="#0b3d5c" stroke-width="0.8"/>
<line x1="269.6" y1="118.2" x2="267.6" y2="113.9" stroke="#0b3d5c" stroke-width="0.8"/>
<line x1="271.4" y1="117.9" x2="270.1" y2="113.6" stroke="#0b3d5c" stroke-width="0.8"/>
<line x1="273.2" y1="117.8" x2="272.5" y2="113.4" stroke="#0b3d5c" stroke-width="0.8"/>
<line x1="275.0" y1="117.8" x2="275.0" y2="113.3" stroke="#0b3d5c" stroke-width="0.8"/>
<line x1="276.8" y1="117.8" x2="277.5" y2="113.4" stroke="#0b3d5c" stroke-width="0.8"/>
<line x1="278.6" y1="117.9" x2="279.9" y2="113.6" stroke="#0b3d5c" stroke-width="0.8"/>
<line x1="280.4" y1="118.2" x2="282.4" y2="113.9" stroke="#0b3d5c" stroke-width="0.8"/>
<line x1="282.1" y1="118.5" x2="284.7" y2="114.3" stroke="#0b3d5c" stroke-width="0.8"/>
<line x1="283.8" y1="118.9" x2="287.0" y2="114.9" stroke="#0b3d5c" stroke-width="0.8"/>
<line x1="285.4" y1="119.4" x2="289.2" y2="115.6" stroke="#0b3d5c" stroke-width="0.8"/>
<line x1="287.0" y1="120.0" x2="291.3" y2="116.4" stroke="#0b3d5c" stroke-width="0.8"/>
<line x1="288.4" y1="120.6" x2="293.3" y2="117.2" stroke="#0b3d5c" stroke-width="0.8"/>
<line x1="289.8" y1="121.3" x2="295.1" y2="118.2" stroke="#0b3d5c" stroke-width="0.8"/>
<line x1="291.0" y1="122.1" x2="296.8" y2="119.3" stroke="#0b3d5c" stroke-width="0.8"/>
<line x1="292.1" y1="123.0" x2="298.3" y2="120.4" stroke="#0b3d5c" stroke-width="0.8"/>
<line x1="293.1" y1="123.9" x2="299.6" y2="121.7" stroke="#0b3d5c" stroke-width="0.8"/>
<line x1="293.9" y1="124.8" x2="300.8" y2="123.0" stroke="#0b3d5c" stroke-width="0.8"/>
<line x1="294.6" y1="125.8" x2="301.7" y2="124.3" stroke="#0b3d5c" stroke-width="0.8"/>
<line x1="295.2" y1="126.8" x2="302.5" y2="125.7" stroke="#0b3d5c" stroke-width="0.8"/>
<line x1="295.6" y1="127.9" x2="303.0" y2="127.1" stroke="#0b3d5c" stroke-width="0.8"/>
<line x1="295.8" y1="128.9" x2="303.3" y2="128.5" stroke="#0b3d5c" stroke-width="0.8"/>
<ellipse cx="276.4" cy="128.3" rx="8.7" ry="5.1" fill="#1e9bd7" stroke="#0b3d5c" stroke-width="0.9"/>
<polygon points="283.3,129.8 292.2,140.4 283.9,143.5" fill="#1e9bd7" stroke="#0b3d5c" stroke-width="0.8"/>
<polygon points="278.2,133.0 271.9,144.3 262.6,142.5" fill="#1e9bd7" stroke="#0b3d5c" stroke-width="0.8"/>
<polygon points="270.6,132.7 253.9,137.5 250.6,132.1" fill="#1e9bd7" stroke="#0b3d5c" stroke-width="0.8"/>
<polygon points="266.4,129.1 251.9,125.0 257.0,120.1" fill="#1e9bd7" stroke="#0b3d5c" stroke-width="0.8"/>
<polygon points="268.6,124.8 267.2,116.3 276.9,115.6" fill="#1e9bd7" stroke="#0b3d5c" stroke-width="0.8"/>
<polygon points="275.7,123.2 288.4,117.9 295.4,121.9" fill="#1e9bd7" stroke="#0b3d5c" stroke-width="0.8"/>
<polygon points="282.2,125.4 299.5,128.6 298.5,134.3" fill="#1e9bd7" stroke="#0b3d5c" stroke-width="0.8"/>
<line x1="250.3" y1="122.9" x2="297.7" y2="139.1" stroke="#0b3d5c" stroke-width="1.1"/>
<line x1="258.8" y1="143.1" x2="296.4" y2="119.8" stroke="#0b3d5c" stroke-width="1.1"/>
<polygon points="271.9,429.5 266.3,419.4 261.7,422.6 266.1,433.4" fill="#1e9bd7" stroke="#0b3d5c" stroke-width="0.8" stroke-linejoin="round"/>
<polygon points="303.0,435.2 308.0,424.7 303.6,421.3 297.5,430.9" fill="#1e9bd7" stroke="#0b3d5c" stroke-width="0.8" stroke-linejoin="round"/>
<polygon points="283.1,447.7 240.1,460.9 241.9,467.1 284.9,453.9" fill="#1e9bd7" stroke="#0b3d5c" stroke-width="0.8"/>
<ellipse cx="241.0" cy="464.0" rx="4.2" ry="3" fill="#1e9bd7" stroke="#0b3d5c" stroke-width="0.8"/>
<polygon points="283.6,454.0 324.6,458.6 325.4,452.2 284.4,447.6" fill="#1e9bd7" stroke="#0b3d5c" stroke-width="0.8"/>
<ellipse cx="325.0" cy="455.4" rx="4.2" ry="3" fill="#1e9bd7" stroke="#0b3d5c" stroke-width="0.8"/>
<polygon points="280.8,451.3 286.8,488.2 293.2,487.2 287.2,450.3" fill="#1e9bd7" stroke="#0b3d5c" stroke-width="0.8"/>
<ellipse cx="290.0" cy="487.7" rx="4.2" ry="3" fill="#1e9bd7" stroke="#0b3d5c" stroke-width="0.8"/>
<path d="M252.0,443.0 L252.0,456.0 A32.0,21.0 0 0 0 316.0,456.0 L316.0,443.0 Z" fill="#1e9bd7" stroke="#0b3d5c" stroke-width="0.9"/>
<line x1="316.0" y1="443.0" x2="316.0" y2="456.0" stroke="#0b3d5c" stroke-width="1.15"/>
<line x1="315.9" y1="444.5" x2="315.9" y2="457.5" stroke="#0b3d5c" stroke-width="1.15"/>
<line x1="315.7" y1="446.0" x2="315.7" y2="459.0" stroke="#0b3d5c" stroke-width="1.15"/>
<line x1="315.3" y1="447.5" x2="315.3" y2="460.5" stroke="#0b3d5c" stroke-width="1.15"/>
<line x1="314.7" y1="448.9" x2="314.7" y2="461.9" stroke="#0b3d5c" stroke-width="1.15"/>
<line x1="314.0" y1="450.3" x2="314.0" y2="463.3" stroke="#0b3d5c" stroke-width="1.15"/>
<line x1="313.1" y1="451.7" x2="313.1" y2="464.7" stroke="#0b3d5c" stroke-width="1.15"/>
<line x1="312.1" y1="453.1" x2="312.1" y2="466.1" stroke="#0b3d5c" stroke-width="1.15"/>
<line x1="310.9" y1="454.4" x2="310.9" y2="467.4" stroke="#0b3d5c" stroke-width="1.15"/>
<line x1="309.6" y1="455.6" x2="309.6" y2="468.6" stroke="#0b3d5c" stroke-width="1.15"/>
<line x1="308.2" y1="456.8" x2="308.2" y2="469.8" stroke="#0b3d5c" stroke-width="1.15"/>
<line x1="306.6" y1="457.8" x2="306.6" y2="470.8" stroke="#0b3d5c" stroke-width="1.15"/>
<line x1="305.0" y1="458.9" x2="305.0" y2="471.9" stroke="#0b3d5c" stroke-width="1.15"/>
<line x1="303.2" y1="459.8" x2="303.2" y2="472.8" stroke="#0b3d5c" stroke-width="1.15"/>
<line x1="301.3" y1="460.7" x2="301.3" y2="473.7" stroke="#0b3d5c" stroke-width="1.15"/>
<line x1="299.3" y1="461.4" x2="299.3" y2="474.4" stroke="#0b3d5c" stroke-width="1.15"/>
<line x1="297.3" y1="462.1" x2="297.3" y2="475.1" stroke="#0b3d5c" stroke-width="1.15"/>
<line x1="295.2" y1="462.7" x2="295.2" y2="475.7" stroke="#0b3d5c" stroke-width="1.15"/>
<line x1="293.0" y1="463.1" x2="293.0" y2="476.1" stroke="#0b3d5c" stroke-width="1.15"/>
<line x1="290.8" y1="463.5" x2="290.8" y2="476.5" stroke="#0b3d5c" stroke-width="1.15"/>
<line x1="288.6" y1="463.8" x2="288.6" y2="476.8" stroke="#0b3d5c" stroke-width="1.15"/>
<line x1="286.3" y1="463.9" x2="286.3" y2="476.9" stroke="#0b3d5c" stroke-width="1.15"/>
<line x1="284.0" y1="464.0" x2="284.0" y2="477.0" stroke="#0b3d5c" stroke-width="1.15"/>
<line x1="281.7" y1="463.9" x2="281.7" y2="476.9" stroke="#0b3d5c" stroke-width="1.15"/>
<line x1="279.4" y1="463.8" x2="279.4" y2="476.8" stroke="#0b3d5c" stroke-width="1.15"/>
<line x1="277.2" y1="463.5" x2="277.2" y2="476.5" stroke="#0b3d5c" stroke-width="1.15"/>
<line x1="275.0" y1="463.1" x2="275.0" y2="476.1" stroke="#0b3d5c" stroke-width="1.15"/>
<line x1="272.8" y1="462.7" x2="272.8" y2="475.7" stroke="#0b3d5c" stroke-width="1.15"/>
<line x1="270.7" y1="462.1" x2="270.7" y2="475.1" stroke="#0b3d5c" stroke-width="1.15"/>
<line x1="268.7" y1="461.4" x2="268.7" y2="474.4" stroke="#0b3d5c" stroke-width="1.15"/>
<line x1="266.7" y1="460.7" x2="266.7" y2="473.7" stroke="#0b3d5c" stroke-width="1.15"/>
<line x1="264.8" y1="459.8" x2="264.8" y2="472.8" stroke="#0b3d5c" stroke-width="1.15"/>
<line x1="263.0" y1="458.9" x2="263.0" y2="471.9" stroke="#0b3d5c" stroke-width="1.15"/>
<line x1="261.4" y1="457.8" x2="261.4" y2="470.8" stroke="#0b3d5c" stroke-width="1.15"/>
<line x1="259.8" y1="456.8" x2="259.8" y2="469.8" stroke="#0b3d5c" stroke-width="1.15"/>
<line x1="258.4" y1="455.6" x2="258.4" y2="468.6" stroke="#0b3d5c" stroke-width="1.15"/>
<line x1="257.1" y1="454.4" x2="257.1" y2="467.4" stroke="#0b3d5c" stroke-width="1.15"/>
<line x1="255.9" y1="453.1" x2="255.9" y2="466.1" stroke="#0b3d5c" stroke-width="1.15"/>
<line x1="254.9" y1="451.7" x2="254.9" y2="464.7" stroke="#0b3d5c" stroke-width="1.15"/>
<line x1="254.0" y1="450.3" x2="254.0" y2="463.3" stroke="#0b3d5c" stroke-width="1.15"/>
<line x1="253.3" y1="448.9" x2="253.3" y2="461.9" stroke="#0b3d5c" stroke-width="1.15"/>
<line x1="252.7" y1="447.5" x2="252.7" y2="460.5" stroke="#0b3d5c" stroke-width="1.15"/>
<line x1="252.3" y1="446.0" x2="252.3" y2="459.0" stroke="#0b3d5c" stroke-width="1.15"/>
<line x1="252.1" y1="444.5" x2="252.1" y2="457.5" stroke="#0b3d5c" stroke-width="1.15"/>
<line x1="252.0" y1="443.0" x2="252.0" y2="456.0" stroke="#0b3d5c" stroke-width="1.15"/>
<ellipse cx="284.0" cy="443.0" rx="32.0" ry="21.0" fill="#1e9bd7" stroke="#0b3d5c" stroke-width="0.9"/>
<line x1="307.0" y1="443.0" x2="315.4" y2="443.0" stroke="#0b3d5c" stroke-width="0.8"/>
<line x1="307.0" y1="444.3" x2="315.2" y2="444.8" stroke="#0b3d5c" stroke-width="0.8"/>
<line x1="306.7" y1="445.6" x2="314.9" y2="446.6" stroke="#0b3d5c" stroke-width="0.8"/>
<line x1="306.3" y1="446.9" x2="314.3" y2="448.3" stroke="#0b3d5c" stroke-width="0.8"/>
<line x1="305.7" y1="448.2" x2="313.5" y2="450.0" stroke="#0b3d5c" stroke-width="0.8"/>
<line x1="304.9" y1="449.4" x2="312.4" y2="451.7" stroke="#0b3d5c" stroke-width="0.8"/>
<line x1="304.0" y1="450.6" x2="311.2" y2="453.3" stroke="#0b3d5c" stroke-width="0.8"/>
<line x1="302.9" y1="451.7" x2="309.7" y2="454.8" stroke="#0b3d5c" stroke-width="0.8"/>
<line x1="301.6" y1="452.7" x2="308.0" y2="456.2" stroke="#0b3d5c" stroke-width="0.8"/>
<line x1="300.3" y1="453.7" x2="306.2" y2="457.6" stroke="#0b3d5c" stroke-width="0.8"/>
<line x1="298.8" y1="454.6" x2="304.2" y2="458.8" stroke="#0b3d5c" stroke-width="0.8"/>
<line x1="297.2" y1="455.4" x2="302.0" y2="459.9" stroke="#0b3d5c" stroke-width="0.8"/>
<line x1="295.5" y1="456.1" x2="299.7" y2="460.8" stroke="#0b3d5c" stroke-width="0.8"/>
<line x1="293.7" y1="456.7" x2="297.3" y2="461.7" stroke="#0b3d5c" stroke-width="0.8"/>
<line x1="291.9" y1="457.2" x2="294.7" y2="462.3" stroke="#0b3d5c" stroke-width="0.8"/>
<line x1="290.0" y1="457.6" x2="292.1" y2="462.9" stroke="#0b3d5c" stroke-width="0.8"/>
<line x1="288.0" y1="457.9" x2="289.4" y2="463.3" stroke="#0b3d5c" stroke-width="0.8"/>
<line x1="286.0" y1="458.1" x2="286.7" y2="463.5" stroke="#0b3d5c" stroke-width="0.8"/>
<line x1="284.0" y1="458.1" x2="284.0" y2="463.6" stroke="#0b3d5c" stroke-width="0.8"/>
<line x1="282.0" y1="458.1" x2="281.3" y2="463.5" stroke="#0b3d5c" stroke-width="0.8"/>
<line x1="280.0" y1="457.9" x2="278.6" y2="463.3" stroke="#0b3d5c" stroke-width="0.8"/>
<line x1="278.0" y1="457.6" x2="275.9" y2="462.9" stroke="#0b3d5c" stroke-width="0.8"/>
<line x1="276.1" y1="457.2" x2="273.3" y2="462.3" stroke="#0b3d5c" stroke-width="0.8"/>
<line x1="274.3" y1="456.7" x2="270.7" y2="461.7" stroke="#0b3d5c" stroke-width="0.8"/>
<line x1="272.5" y1="456.1" x2="268.3" y2="460.8" stroke="#0b3d5c" stroke-width="0.8"/>
<line x1="270.8" y1="455.4" x2="266.0" y2="459.9" stroke="#0b3d5c" stroke-width="0.8"/>
<line x1="269.2" y1="454.6" x2="263.8" y2="458.8" stroke="#0b3d5c" stroke-width="0.8"/>
<line x1="267.7" y1="453.7" x2="261.8" y2="457.6" stroke="#0b3d5c" stroke-width="0.8"/>
<line x1="266.4" y1="452.7" x2="260.0" y2="456.2" stroke="#0b3d5c" stroke-width="0.8"/>
<line x1="265.1" y1="451.7" x2="258.3" y2="454.8" stroke="#0b3d5c" stroke-width="0.8"/>
<line x1="264.0" y1="450.6" x2="256.8" y2="453.3" stroke="#0b3d5c" stroke-width="0.8"/>
<line x1="263.1" y1="449.4" x2="255.6" y2="451.7" stroke="#0b3d5c" stroke-width="0.8"/>
<line x1="262.3" y1="448.2" x2="254.5" y2="450.0" stroke="#0b3d5c" stroke-width="0.8"/>
<line x1="261.7" y1="446.9" x2="253.7" y2="448.3" stroke="#0b3d5c" stroke-width="0.8"/>
<line x1="261.3" y1="445.6" x2="253.1" y2="446.6" stroke="#0b3d5c" stroke-width="0.8"/>
<line x1="261.0" y1="444.3" x2="252.8" y2="444.8" stroke="#0b3d5c" stroke-width="0.8"/>
<line x1="261.0" y1="443.0" x2="252.6" y2="443.0" stroke="#0b3d5c" stroke-width="0.8"/>
<line x1="261.0" y1="441.7" x2="252.8" y2="441.2" stroke="#0b3d5c" stroke-width="0.8"/>
<line x1="261.3" y1="440.4" x2="253.1" y2="439.4" stroke="#0b3d5c" stroke-width="0.8"/>
<line x1="261.7" y1="439.1" x2="253.7" y2="437.7" stroke="#0b3d5c" stroke-width="0.8"/>
<line x1="262.3" y1="437.8" x2="254.5" y2="436.0" stroke="#0b3d5c" stroke-width="0.8"/>
<line x1="263.1" y1="436.6" x2="255.6" y2="434.3" stroke="#0b3d5c" stroke-width="0.8"/>
<line x1="264.0" y1="435.4" x2="256.8" y2="432.7" stroke="#0b3d5c" stroke-width="0.8"/>
<line x1="265.1" y1="434.3" x2="258.3" y2="431.2" stroke="#0b3d5c" stroke-width="0.8"/>
<line x1="266.4" y1="433.3" x2="260.0" y2="429.8" stroke="#0b3d5c" stroke-width="0.8"/>
<line x1="267.7" y1="432.3" x2="261.8" y2="428.4" stroke="#0b3d5c" stroke-width="0.8"/>
<line x1="269.2" y1="431.4" x2="263.8" y2="427.2" stroke="#0b3d5c" stroke-width="0.8"/>
<line x1="270.8" y1="430.6" x2="266.0" y2="426.1" stroke="#0b3d5c" stroke-width="0.8"/>
<line x1="272.5" y1="429.9" x2="268.3" y2="425.2" stroke="#0b3d5c" stroke-width="0.8"/>
<line x1="274.3" y1="429.3" x2="270.7" y2="424.3" stroke="#0b3d5c" stroke-width="0.8"/>
<line x1="276.1" y1="428.8" x2="273.3" y2="423.7" stroke="#0b3d5c" stroke-width="0.8"/>
<line x1="278.0" y1="428.4" x2="275.9" y2="423.1" stroke="#0b3d5c" stroke-width="0.8"/>
<line x1="280.0" y1="428.1" x2="278.6" y2="422.7" stroke="#0b3d5c" stroke-width="0.8"/>
<line x1="282.0" y1="427.9" x2="281.3" y2="422.5" stroke="#0b3d5c" stroke-width="0.8"/>
<line x1="284.0" y1="427.9" x2="284.0" y2="422.4" stroke="#0b3d5c" stroke-width="0.8"/>
<line x1="286.0" y1="427.9" x2="286.7" y2="422.5" stroke="#0b3d5c" stroke-width="0.8"/>
<line x1="288.0" y1="428.1" x2="289.4" y2="422.7" stroke="#0b3d5c" stroke-width="0.8"/>
<line x1="290.0" y1="428.4" x2="292.1" y2="423.1" stroke="#0b3d5c" stroke-width="0.8"/>
<line x1="291.9" y1="428.8" x2="294.7" y2="423.7" stroke="#0b3d5c" stroke-width="0.8"/>
<line x1="293.7" y1="429.3" x2="297.3" y2="424.3" stroke="#0b3d5c" stroke-width="0.8"/>
<line x1="295.5" y1="429.9" x2="299.7" y2="425.2" stroke="#0b3d5c" stroke-width="0.8"/>
<line x1="297.2" y1="430.6" x2="302.0" y2="426.1" stroke="#0b3d5c" stroke-width="0.8"/>
<line x1="298.8" y1="431.4" x2="304.2" y2="427.2" stroke="#0b3d5c" stroke-width="0.8"/>
<line x1="300.3" y1="432.3" x2="306.2" y2="428.4" stroke="#0b3d5c" stroke-width="0.8"/>
<line x1="301.6" y1="433.3" x2="308.0" y2="429.8" stroke="#0b3d5c" stroke-width="0.8"/>
<line x1="302.9" y1="434.3" x2="309.7" y2="431.2" stroke="#0b3d5c" stroke-width="0.8"/>
<line x1="304.0" y1="435.4" x2="311.2" y2="432.7" stroke="#0b3d5c" stroke-width="0.8"/>
<line x1="304.9" y1="436.6" x2="312.4" y2="434.3" stroke="#0b3d5c" stroke-width="0.8"/>
<line x1="305.7" y1="437.8" x2="313.5" y2="436.0" stroke="#0b3d5c" stroke-width="0.8"/>
<line x1="306.3" y1="439.1" x2="314.3" y2="437.7" stroke="#0b3d5c" stroke-width="0.8"/>
<line x1="306.7" y1="440.4" x2="314.9" y2="439.4" stroke="#0b3d5c" stroke-width="0.8"/>
<line x1="307.0" y1="441.7" x2="315.2" y2="441.2" stroke="#0b3d5c" stroke-width="0.8"/>
<ellipse cx="285.6" cy="440.9" rx="9.6" ry="6.3" fill="#1e9bd7" stroke="#0b3d5c" stroke-width="0.9"/>
<polygon points="293.2,442.8 303.0,455.8 293.9,459.6" fill="#1e9bd7" stroke="#0b3d5c" stroke-width="0.8"/>
<polygon points="287.5,446.8 280.6,460.7 270.3,458.4" fill="#1e9bd7" stroke="#0b3d5c" stroke-width="0.8"/>
<polygon points="279.2,446.4 260.8,452.3 257.1,445.6" fill="#1e9bd7" stroke="#0b3d5c" stroke-width="0.8"/>
<polygon points="274.5,441.8 258.5,436.9 264.1,430.8" fill="#1e9bd7" stroke="#0b3d5c" stroke-width="0.8"/>
<polygon points="277.0,436.6 275.4,426.1 286.1,425.2" fill="#1e9bd7" stroke="#0b3d5c" stroke-width="0.8"/>
<polygon points="284.7,434.6 298.8,428.0 306.5,433.0" fill="#1e9bd7" stroke="#0b3d5c" stroke-width="0.8"/>
<polygon points="291.9,437.4 311.1,441.3 310.0,448.3" fill="#1e9bd7" stroke="#0b3d5c" stroke-width="0.8"/>
<line x1="256.7" y1="434.2" x2="309.1" y2="454.3" stroke="#0b3d5c" stroke-width="1.1"/>
<line x1="266.1" y1="459.1" x2="307.6" y2="430.4" stroke="#0b3d5c" stroke-width="1.1"/>
<polygon points="282.1,207.5 331.8,161.6 332.8,179.1 288.0,221.6" fill="#1e9bd7" stroke="#0b3d5c" stroke-width="1"/>
<line x1="283.6" y1="211.0" x2="332.1" y2="166.0" stroke="#0b3d5c" stroke-width="0.7"/>
<polygon points="292.5,238.0 339.6,191.8 341.3,206.7 294.8,248.5" fill="#1e9bd7" stroke="#0b3d5c" stroke-width="1"/>
<line x1="293.1" y1="240.6" x2="340.0" y2="195.5" stroke="#0b3d5c" stroke-width="0.7"/>
<polygon points="259.0,196.3 272.4,184.3 294.0,193.3 280.6,207.5" fill="#1e9bd7" stroke="#0b3d5c" stroke-width="0.9"/>
<polygon points="292.0,491.0 348.8,433.5 351.5,443.1 295.8,501.0" fill="#1e9bd7" stroke="#0b3d5c" stroke-width="1"/>
<line x1="292.9" y1="493.5" x2="349.5" y2="435.9" stroke="#0b3d5c" stroke-width="0.7"/>
<polygon points="302.5,498.5 359.6,440.5 362.3,449.9 306.5,509.0" fill="#1e9bd7" stroke="#0b3d5c" stroke-width="1"/>
<line x1="303.5" y1="501.1" x2="360.3" y2="442.9" stroke="#0b3d5c" stroke-width="0.7"/>
<polygon points="558.0,273.0 606.0,255.0 607.0,262.0 559.0,280.0" fill="#fff" stroke="#1a1a1a" stroke-width="0.8" stroke-linejoin="round"/>
<ellipse cx="561.0" cy="275.9" rx="1.1" ry="1.8" fill="#222"/>
<ellipse cx="563.9" cy="274.8" rx="1.1" ry="1.8" fill="#222"/>
<ellipse cx="566.8" cy="273.7" rx="1.1" ry="1.8" fill="#222"/>
<ellipse cx="569.8" cy="272.6" rx="1.1" ry="1.8" fill="#222"/>
<ellipse cx="572.7" cy="271.4" rx="1.1" ry="1.8" fill="#222"/>
<ellipse cx="575.7" cy="270.3" rx="1.1" ry="1.8" fill="#222"/>
<ellipse cx="578.6" cy="269.2" rx="1.1" ry="1.8" fill="#222"/>
<ellipse cx="581.5" cy="268.1" rx="1.1" ry="1.8" fill="#222"/>
<ellipse cx="584.5" cy="266.9" rx="1.1" ry="1.8" fill="#222"/>
<ellipse cx="587.4" cy="265.8" rx="1.1" ry="1.8" fill="#222"/>
<ellipse cx="590.3" cy="264.7" rx="1.1" ry="1.8" fill="#222"/>
<ellipse cx="593.3" cy="263.6" rx="1.1" ry="1.8" fill="#222"/>
<ellipse cx="596.2" cy="262.4" rx="1.1" ry="1.8" fill="#222"/>
<ellipse cx="599.2" cy="261.3" rx="1.1" ry="1.8" fill="#222"/>
<ellipse cx="602.1" cy="260.2" rx="1.1" ry="1.8" fill="#222"/>
<ellipse cx="605.0" cy="259.1" rx="1.1" ry="1.8" fill="#222"/>
<polygon points="558.0,282.0 606.0,264.0 607.0,271.0 559.0,289.0" fill="#fff" stroke="#1a1a1a" stroke-width="0.8" stroke-linejoin="round"/>
<ellipse cx="561.0" cy="284.9" rx="1.1" ry="1.8" fill="#222"/>
<ellipse cx="563.9" cy="283.8" rx="1.1" ry="1.8" fill="#222"/>
<ellipse cx="566.8" cy="282.7" rx="1.1" ry="1.8" fill="#222"/>
<ellipse cx="569.8" cy="281.6" rx="1.1" ry="1.8" fill="#222"/>
<ellipse cx="572.7" cy="280.4" rx="1.1" ry="1.8" fill="#222"/>
<ellipse cx="575.7" cy="279.3" rx="1.1" ry="1.8" fill="#222"/>
<ellipse cx="578.6" cy="278.2" rx="1.1" ry="1.8" fill="#222"/>
<ellipse cx="581.5" cy="277.1" rx="1.1" ry="1.8" fill="#222"/>
<ellipse cx="584.5" cy="275.9" rx="1.1" ry="1.8" fill="#222"/>
<ellipse cx="587.4" cy="274.8" rx="1.1" ry="1.8" fill="#222"/>
<ellipse cx="590.3" cy="273.7" rx="1.1" ry="1.8" fill="#222"/>
<ellipse cx="593.3" cy="272.6" rx="1.1" ry="1.8" fill="#222"/>
<ellipse cx="596.2" cy="271.4" rx="1.1" ry="1.8" fill="#222"/>
<ellipse cx="599.2" cy="270.3" rx="1.1" ry="1.8" fill="#222"/>
<ellipse cx="602.1" cy="269.2" rx="1.1" ry="1.8" fill="#222"/>
<ellipse cx="605.0" cy="268.1" rx="1.1" ry="1.8" fill="#222"/>
<polygon points="611.0,250.0 623.0,245.0 624.0,267.0 612.0,272.0" fill="#fff" stroke="#1a1a1a" stroke-width="0.7" stroke-linejoin="round"/>
<line x1="615.0" y1="259.0" x2="621.0" y2="257.0" stroke="#1a1a1a" stroke-width="1.2" />
<polygon points="567.5,296.5 578.0,292.5 582.5,332.5 572.0,337.0" fill="#fff" stroke="#1a1a1a" stroke-width="0.9" stroke-linejoin="round"/>
<line x1="574.5" y1="301.5" x2="578.5" y2="329.5" stroke="#222" stroke-width="5.2" stroke-linecap="round"/>
<line x1="574.5" y1="301.5" x2="578.5" y2="329.5" stroke="#aaa" stroke-width="3.4" stroke-linecap="round"/>
<circle cx="574.5" cy="301.5" r="0.8" fill="#333"/>
<circle cx="575.0" cy="305.0" r="0.8" fill="#333"/>
<circle cx="575.5" cy="308.5" r="0.8" fill="#333"/>
<circle cx="576.0" cy="312.0" r="0.8" fill="#333"/>
<circle cx="576.5" cy="315.5" r="0.8" fill="#333"/>
<circle cx="577.0" cy="319.0" r="0.8" fill="#333"/>
<circle cx="577.5" cy="322.5" r="0.8" fill="#333"/>
<circle cx="578.0" cy="326.0" r="0.8" fill="#333"/>
<circle cx="578.5" cy="329.5" r="0.8" fill="#333"/>
<circle cx="569.5" cy="294.5" r="2.7" fill="#1a1a1a"/>
<line x1="572.5" y1="297.5" x2="575.5" y2="295.5" stroke="#1a1a1a" stroke-width="0.6" />
<polygon points="577.6,292.5 588.1,288.5 592.6,328.5 582.1,333.0" fill="#fff" stroke="#1a1a1a" stroke-width="0.9" stroke-linejoin="round"/>
<line x1="584.6" y1="297.5" x2="588.6" y2="325.5" stroke="#222" stroke-width="5.2" stroke-linecap="round"/>
<line x1="584.6" y1="297.5" x2="588.6" y2="325.5" stroke="#aaa" stroke-width="3.4" stroke-linecap="round"/>
<circle cx="584.6" cy="297.5" r="0.8" fill="#333"/>
<circle cx="585.1" cy="301.0" r="0.8" fill="#333"/>
<circle cx="585.6" cy="304.5" r="0.8" fill="#333"/>
<circle cx="586.1" cy="308.0" r="0.8" fill="#333"/>
<circle cx="586.6" cy="311.5" r="0.8" fill="#333"/>
<circle cx="587.1" cy="315.0" r="0.8" fill="#333"/>
<circle cx="587.6" cy="318.5" r="0.8" fill="#333"/>
<circle cx="588.1" cy="322.0" r="0.8" fill="#333"/>
<circle cx="588.6" cy="325.5" r="0.8" fill="#333"/>
<circle cx="579.6" cy="290.5" r="2.7" fill="#1a1a1a"/>
<line x1="582.6" y1="293.5" x2="585.6" y2="291.5" stroke="#1a1a1a" stroke-width="0.6" />
<polygon points="587.7,288.4 598.2,284.4 602.7,324.4 592.2,328.9" fill="#fff" stroke="#1a1a1a" stroke-width="0.9" stroke-linejoin="round"/>
<line x1="594.7" y1="293.4" x2="598.7" y2="321.4" stroke="#222" stroke-width="5.2" stroke-linecap="round"/>
<line x1="594.7" y1="293.4" x2="598.7" y2="321.4" stroke="#aaa" stroke-width="3.4" stroke-linecap="round"/>
<circle cx="594.7" cy="293.4" r="0.8" fill="#333"/>
<circle cx="595.2" cy="296.9" r="0.8" fill="#333"/>
<circle cx="595.7" cy="300.4" r="0.8" fill="#333"/>
<circle cx="596.2" cy="303.9" r="0.8" fill="#333"/>
<circle cx="596.7" cy="307.4" r="0.8" fill="#333"/>
<circle cx="597.2" cy="310.9" r="0.8" fill="#333"/>
<circle cx="597.7" cy="314.4" r="0.8" fill="#333"/>
<circle cx="598.2" cy="317.9" r="0.8" fill="#333"/>
<circle cx="598.7" cy="321.4" r="0.8" fill="#333"/>
<circle cx="589.7" cy="286.4" r="2.7" fill="#1a1a1a"/>
<line x1="592.7" y1="289.4" x2="595.7" y2="287.4" stroke="#1a1a1a" stroke-width="0.6" />
<polygon points="597.7,284.4 608.2,280.4 612.7,320.4 602.2,324.9" fill="#fff" stroke="#1a1a1a" stroke-width="0.9" stroke-linejoin="round"/>
<line x1="604.7" y1="289.4" x2="608.7" y2="317.4" stroke="#222" stroke-width="5.2" stroke-linecap="round"/>
<line x1="604.7" y1="289.4" x2="608.7" y2="317.4" stroke="#aaa" stroke-width="3.4" stroke-linecap="round"/>
<circle cx="604.7" cy="289.4" r="0.8" fill="#333"/>
<circle cx="605.2" cy="292.9" r="0.8" fill="#333"/>
<circle cx="605.7" cy="296.4" r="0.8" fill="#333"/>
<circle cx="606.2" cy="299.9" r="0.8" fill="#333"/>
<circle cx="606.7" cy="303.4" r="0.8" fill="#333"/>
<circle cx="607.2" cy="306.9" r="0.8" fill="#333"/>
<circle cx="607.7" cy="310.4" r="0.8" fill="#333"/>
<circle cx="608.2" cy="313.9" r="0.8" fill="#333"/>
<circle cx="608.7" cy="317.4" r="0.8" fill="#333"/>
<circle cx="599.7" cy="282.4" r="2.7" fill="#1a1a1a"/>
<line x1="602.7" y1="285.4" x2="605.7" y2="283.4" stroke="#1a1a1a" stroke-width="0.6" />
<polygon points="607.8,280.4 618.3,276.4 622.8,316.4 612.3,320.9" fill="#fff" stroke="#1a1a1a" stroke-width="0.9" stroke-linejoin="round"/>
<line x1="614.8" y1="285.4" x2="618.8" y2="313.4" stroke="#222" stroke-width="5.2" stroke-linecap="round"/>
<line x1="614.8" y1="285.4" x2="618.8" y2="313.4" stroke="#aaa" stroke-width="3.4" stroke-linecap="round"/>
<circle cx="614.8" cy="285.4" r="0.8" fill="#333"/>
<circle cx="615.3" cy="288.9" r="0.8" fill="#333"/>
<circle cx="615.8" cy="292.4" r="0.8" fill="#333"/>
<circle cx="616.3" cy="295.9" r="0.8" fill="#333"/>
<circle cx="616.8" cy="299.4" r="0.8" fill="#333"/>
<circle cx="617.3" cy="302.9" r="0.8" fill="#333"/>
<circle cx="617.8" cy="306.4" r="0.8" fill="#333"/>
<circle cx="618.3" cy="309.9" r="0.8" fill="#333"/>
<circle cx="618.8" cy="313.4" r="0.8" fill="#333"/>
<circle cx="609.8" cy="278.4" r="2.7" fill="#1a1a1a"/>
<line x1="612.8" y1="281.4" x2="615.8" y2="279.4" stroke="#1a1a1a" stroke-width="0.6" />
<polygon points="617.9,276.4 628.4,272.4 632.9,312.4 622.4,316.9" fill="#fff" stroke="#1a1a1a" stroke-width="0.9" stroke-linejoin="round"/>
<line x1="624.9" y1="281.4" x2="628.9" y2="309.4" stroke="#222" stroke-width="5.2" stroke-linecap="round"/>
<line x1="624.9" y1="281.4" x2="628.9" y2="309.4" stroke="#aaa" stroke-width="3.4" stroke-linecap="round"/>
<circle cx="624.9" cy="281.4" r="0.8" fill="#333"/>
<circle cx="625.4" cy="284.9" r="0.8" fill="#333"/>
<circle cx="625.9" cy="288.4" r="0.8" fill="#333"/>
<circle cx="626.4" cy="291.9" r="0.8" fill="#333"/>
<circle cx="626.9" cy="295.4" r="0.8" fill="#333"/>
<circle cx="627.4" cy="298.9" r="0.8" fill="#333"/>
<circle cx="627.9" cy="302.4" r="0.8" fill="#333"/>
<circle cx="628.4" cy="305.9" r="0.8" fill="#333"/>
<circle cx="628.9" cy="309.4" r="0.8" fill="#333"/>
<circle cx="619.9" cy="274.4" r="2.7" fill="#1a1a1a"/>
<line x1="622.9" y1="277.4" x2="625.9" y2="275.4" stroke="#1a1a1a" stroke-width="0.6" />
<polygon points="628.0,272.3 638.5,268.3 643.0,308.3 632.5,312.8" fill="#fff" stroke="#1a1a1a" stroke-width="0.9" stroke-linejoin="round"/>
<line x1="635.0" y1="277.3" x2="639.0" y2="305.3" stroke="#222" stroke-width="5.2" stroke-linecap="round"/>
<line x1="635.0" y1="277.3" x2="639.0" y2="305.3" stroke="#aaa" stroke-width="3.4" stroke-linecap="round"/>
<circle cx="635.0" cy="277.3" r="0.8" fill="#333"/>
<circle cx="635.5" cy="280.8" r="0.8" fill="#333"/>
<circle cx="636.0" cy="284.3" r="0.8" fill="#333"/>
<circle cx="636.5" cy="287.8" r="0.8" fill="#333"/>
<circle cx="637.0" cy="291.3" r="0.8" fill="#333"/>
<circle cx="637.5" cy="294.8" r="0.8" fill="#333"/>
<circle cx="638.0" cy="298.3" r="0.8" fill="#333"/>
<circle cx="638.5" cy="301.8" r="0.8" fill="#333"/>
<circle cx="639.0" cy="305.3" r="0.8" fill="#333"/>
<circle cx="630.0" cy="270.3" r="2.7" fill="#1a1a1a"/>
<line x1="633.0" y1="273.3" x2="636.0" y2="271.3" stroke="#1a1a1a" stroke-width="0.6" />
<polygon points="634.0,240.0 641.0,237.0 642.0,295.0 635.0,298.0" fill="#fff" stroke="#1a1a1a" stroke-width="0.7" stroke-linejoin="round"/>
<line x1="635.0" y1="243.0" x2="641.0" y2="240.0" stroke="#222" stroke-width="1.3" />
<line x1="635.0" y1="245.9" x2="641.0" y2="242.9" stroke="#222" stroke-width="1.3" />
<line x1="635.0" y1="248.8" x2="641.0" y2="245.8" stroke="#222" stroke-width="1.3" />
<line x1="635.0" y1="251.7" x2="641.0" y2="248.7" stroke="#222" stroke-width="1.3" />
<line x1="635.0" y1="254.6" x2="641.0" y2="251.6" stroke="#222" stroke-width="1.3" />
<line x1="635.0" y1="257.5" x2="641.0" y2="254.5" stroke="#222" stroke-width="1.3" />
<line x1="635.0" y1="260.4" x2="641.0" y2="257.4" stroke="#222" stroke-width="1.3" />
<line x1="635.0" y1="263.3" x2="641.0" y2="260.3" stroke="#222" stroke-width="1.3" />
<line x1="635.0" y1="266.2" x2="641.0" y2="263.2" stroke="#222" stroke-width="1.3" />
<line x1="635.0" y1="269.1" x2="641.0" y2="266.1" stroke="#222" stroke-width="1.3" />
<line x1="635.0" y1="272.0" x2="641.0" y2="269.0" stroke="#222" stroke-width="1.3" />
<line x1="635.0" y1="274.9" x2="641.0" y2="271.9" stroke="#222" stroke-width="1.3" />
<line x1="635.0" y1="277.8" x2="641.0" y2="274.8" stroke="#222" stroke-width="1.3" />
<line x1="635.0" y1="280.7" x2="641.0" y2="277.7" stroke="#222" stroke-width="1.3" />
<line x1="635.0" y1="283.6" x2="641.0" y2="280.6" stroke="#222" stroke-width="1.3" />
<line x1="635.0" y1="286.5" x2="641.0" y2="283.5" stroke="#222" stroke-width="1.3" />
<line x1="635.0" y1="289.4" x2="641.0" y2="286.4" stroke="#222" stroke-width="1.3" />
<line x1="635.0" y1="292.3" x2="641.0" y2="289.3" stroke="#222" stroke-width="1.3" />
<line x1="635.0" y1="295.2" x2="641.0" y2="292.2" stroke="#222" stroke-width="1.3" />
<polygon points="643.0,233.0 708.0,208.0 712.0,278.0 647.0,302.0" fill="#fff" stroke="#1a1a1a" stroke-width="0.9" stroke-linejoin="round"/>
<ellipse cx="682.5" cy="256" rx="35" ry="36" fill="#fff" stroke="#1a1a1a" stroke-width="1.1"/>
<ellipse cx="682.5" cy="256" rx="31" ry="32" fill="none" stroke="#1a1a1a" stroke-width="0.7"/>
<path d="M691.5,256.0 Q704.1,260.4 706.2,276.6 L692.3,286.4 Q697.8,268.9 689.9,261.1" fill="#eee" stroke="#1a1a1a" stroke-width="0.7"/>
<path d="M688.1,263.0 Q692.5,275.6 681.7,288.0 L665.6,282.8 Q682.0,276.0 683.2,265.0" fill="#eee" stroke="#1a1a1a" stroke-width="0.7"/>
<path d="M680.5,264.8 Q673.4,276.0 657.8,275.3 L651.6,259.1 Q666.5,268.0 675.9,262.1" fill="#eee" stroke="#1a1a1a" stroke-width="0.7"/>
<path d="M674.4,259.9 Q661.2,261.4 652.5,248.0 L660.9,233.0 Q663.1,251.0 673.6,254.6" fill="#eee" stroke="#1a1a1a" stroke-width="0.7"/>
<path d="M674.4,252.1 Q665.0,242.7 669.8,226.8 L686.5,224.3 Q674.3,237.8 678.0,248.2" fill="#eee" stroke="#1a1a1a" stroke-width="0.7"/>
<path d="M680.5,247.2 Q682.0,234.0 696.7,227.6 L709.0,239.4 Q691.7,238.2 685.8,247.6" fill="#eee" stroke="#1a1a1a" stroke-width="0.7"/>
<path d="M688.1,249.0 Q699.4,241.9 712.9,249.7 L711.6,267.0 Q702.1,252.1 691.1,253.4" fill="#eee" stroke="#1a1a1a" stroke-width="0.7"/>
<ellipse cx="682.5" cy="256" rx="9.5" ry="10" fill="#fff" stroke="#1a1a1a" stroke-width="1.3"/>
<line x1="668.0" y1="234.0" x2="678.0" y2="247.0" stroke="#1a1a1a" stroke-width="2.6" />
<circle cx="651" cy="239" r="2" fill="#222"/>
<circle cx="710" cy="216" r="2" fill="#222"/>
<circle cx="710" cy="268" r="2" fill="#222"/>
<circle cx="653" cy="291" r="2" fill="#222"/>
<polygon points="634.7,299.2 706.7,272.6 707.7,293.5 637.6,319" fill="#1e9bd7" stroke="#0b3d5c" stroke-width="0.8"/>
<circle cx="641" cy="304" r="1.1" fill="#fff"/>
<circle cx="641" cy="309" r="1.1" fill="#fff"/>
<circle cx="641" cy="314" r="1.1" fill="#fff"/>
<circle cx="646" cy="302" r="1.1" fill="#fff"/>
<circle cx="646" cy="307" r="1.1" fill="#fff"/>
<circle cx="646" cy="312" r="1.1" fill="#fff"/>
<line x1="653.0" y1="300.0" x2="658.0" y2="298.1" stroke="#e8f4fb" stroke-width="1.6" />
<line x1="660.0" y1="297.0" x2="665.0" y2="295.1" stroke="#e8f4fb" stroke-width="1.6" />
<line x1="677.0" y1="290.0" x2="690.0" y2="285.2" stroke="#e8f4fb" stroke-width="1.6" />
<line x1="678.0" y1="295.0" x2="691.0" y2="290.2" stroke="#e8f4fb" stroke-width="1.6" />
<line x1="699.0" y1="280.0" x2="702.0" y2="278.9" stroke="#e8f4fb" stroke-width="1.6" />
<line x1="699.0" y1="286.0" x2="702.0" y2="284.9" stroke="#e8f4fb" stroke-width="1.6" />
<polygon points="641.8,322.4 709.5,298.8 765.6,366.5 686.0,378.4" fill="#fff" stroke="#1a1a1a" stroke-width="0.9" stroke-linejoin="round"/>
<polygon points="603.9,338.5 635.9,327.8 676.6,376.3 646.5,385.0" fill="none" stroke="#1a1a1a" stroke-width="0.8" stroke-linejoin="round"/>
<line x1="646.5" y1="385.0" x2="676.0" y2="415.0" stroke="#1a1a1a" stroke-width="0.7" />
<line x1="686.0" y1="378.4" x2="765.6" y2="366.5" stroke="#1a1a1a" stroke-width="0.7" />
<polygon points="680.0,372.0 770.0,343.0 780.0,358.0 690.0,387.0" fill="none" stroke="#1a1a1a" stroke-width="0.7" stroke-linejoin="round"/>
<ellipse cx="744" cy="363" rx="2" ry="1.6" fill="none" stroke="#222" stroke-width="0.7"/>
<ellipse cx="752" cy="360" rx="2" ry="1.6" fill="none" stroke="#222" stroke-width="0.7"/>
<circle cx="608" cy="337" r="1.2" fill="#222"/>
<circle cx="641" cy="355" r="1.2" fill="#222"/>
<circle cx="645" cy="372" r="1.2" fill="#222"/>
<circle cx="650" cy="379" r="1.2" fill="#222"/>
<circle cx="656" cy="350" r="1.2" fill="#222"/>
<circle cx="676" cy="359" r="1.2" fill="#222"/>
<circle cx="720" cy="362" r="1.2" fill="#222"/>
<polygon points="716.0,303.0 733.0,300.0 742.0,319.0 725.0,322.0" fill="#fff" stroke="#1a1a1a" stroke-width="2.8600000000000003" stroke-linejoin="round"/>
<polygon points="716.0,303.0 733.0,300.0 742.0,319.0 725.0,322.0" fill="#fff" stroke="#fff" stroke-width="0.78" stroke-linejoin="round"/>
<polygon points="719.2,305.0 732.0,302.8 738.8,317.0 726.0,319.2" fill="none" stroke="#1a1a1a" stroke-width="0.7" stroke-linejoin="round"/>
<polyline points="722.6,312.1 724.8,307.1 733.1,314.9 735.4,309.9" fill="none" stroke="#1a1a1a" stroke-width="0.6" stroke-linejoin="round"/>
<polygon points="755.0,342.0 770.0,338.0 779.0,360.0 764.0,364.0" fill="#fff" stroke="#1a1a1a" stroke-width="2.8600000000000003" stroke-linejoin="round"/>
<polygon points="755.0,342.0 770.0,338.0 779.0,360.0 764.0,364.0" fill="#fff" stroke="#fff" stroke-width="0.78" stroke-linejoin="round"/>
<polygon points="758.0,344.2 769.2,341.2 776.0,357.8 764.8,360.8" fill="none" stroke="#1a1a1a" stroke-width="0.7" stroke-linejoin="round"/>
<polyline points="761.4,352.5 763.1,346.6 770.8,355.5 772.6,349.5" fill="none" stroke="#1a1a1a" stroke-width="0.6" stroke-linejoin="round"/>
<line x1="647.5" y1="390.7" x2="763.8" y2="352.0" stroke="#1a1a1a" stroke-width="0.8" />
<line x1="655.0" y1="401.4" x2="769.6" y2="365.5" stroke="#1a1a1a" stroke-width="0.7" />
<line x1="666.8" y1="416.0" x2="800.7" y2="375.0" stroke="#1a1a1a" stroke-width="1.0" />
<line x1="682.4" y1="437.3" x2="810.0" y2="388.8" stroke="#1a1a1a" stroke-width="1.0" />
<line x1="684.0" y1="458.6" x2="810.0" y2="406.0" stroke="#1a1a1a" stroke-width="0.8" />
<polygon points="667.0,410.0 712.0,396.0 716.0,404.0 670.0,418.0" fill="none" stroke="#1a1a1a" stroke-width="0.7" stroke-linejoin="round"/>
<polygon points="671.7,414.0 707.6,406.2 711.5,419.8 674.6,427.6" fill="#fff" stroke="#1a1a1a" stroke-width="3.5200000000000005" stroke-linejoin="round"/>
<polygon points="671.7,414.0 707.6,406.2 711.5,419.8 674.6,427.6" fill="#fff" stroke="#fff" stroke-width="0.96" stroke-linejoin="round"/>
<polygon points="676.6,414.7 703.5,408.9 706.5,419.1 678.8,424.9" fill="none" stroke="#1a1a1a" stroke-width="0.7" stroke-linejoin="round"/>
<polyline points="677.7,419.8 686.0,414.8 696.5,419.0 705.0,414.0" fill="none" stroke="#1a1a1a" stroke-width="0.6" stroke-linejoin="round"/>
<polygon points="712.4,394.6 769.6,377.2 775.5,390.7 715.3,412.0" fill="#fff" stroke="#1a1a1a" stroke-width="3.5200000000000005" stroke-linejoin="round"/>
<polygon points="712.4,394.6 769.6,377.2 775.5,390.7 715.3,412.0" fill="#fff" stroke="#fff" stroke-width="0.96" stroke-linejoin="round"/>
<polygon points="720.1,394.4 763.0,381.3 767.4,391.4 722.3,407.4" fill="none" stroke="#1a1a1a" stroke-width="0.7" stroke-linejoin="round"/>
<polyline points="721.2,400.9 734.8,392.5 751.3,394.6 765.2,386.4" fill="none" stroke="#1a1a1a" stroke-width="0.6" stroke-linejoin="round"/>
<line x1="692.0" y1="447.0" x2="738.6" y2="427.6" stroke="#333" stroke-width="1.5" />
<line x1="754.0" y1="418.0" x2="798.7" y2="396.5" stroke="#333" stroke-width="1.5" />
<polygon points="742.5,414.0 749.0,412.0 750.0,423.7 743.5,425.7" fill="none" stroke="#1a1a1a" stroke-width="0.8" stroke-linejoin="round"/>
<line x1="716.0" y1="196.0" x2="720.0" y2="289.0" stroke="#1a1a1a" stroke-width="0.9" />
<line x1="722.0" y1="205.0" x2="726.0" y2="290.0" stroke="#1a1a1a" stroke-width="0.7" />
<line x1="720.0" y1="289.0" x2="860.0" y2="420.0" stroke="#1a1a1a" stroke-width="0.8" />
<line x1="726.0" y1="290.0" x2="866.0" y2="418.0" stroke="#1a1a1a" stroke-width="0.7" />
<line x1="740.0" y1="340.0" x2="788.0" y2="384.0" stroke="#1a1a1a" stroke-width="0.7" />
<polygon points="495.0,281.0 716.0,196.0 716.0,205.0 499.0,291.0" fill="#fff" stroke="#1a1a1a" stroke-width="0.9" stroke-linejoin="round"/>
<line x1="500.0" y1="286.0" x2="716.0" y2="201.0" stroke="#1a1a1a" stroke-width="0.6" />
<line x1="505.0" y1="295.0" x2="640.0" y2="244.0" stroke="#1a1a1a" stroke-width="0.7" />
<polygon points="716.0,196.0 723.0,196.0 903.0,372.0 896.0,374.0" fill="#fff" stroke="#1a1a1a" stroke-width="0.9" stroke-linejoin="round"/>
<line x1="716.0" y1="205.0" x2="896.0" y2="374.0" stroke="#1a1a1a" stroke-width="0.9" />
<line x1="724.0" y1="205.0" x2="889.0" y2="362.0" stroke="#1a1a1a" stroke-width="0.8" />
<line x1="730.0" y1="212.0" x2="880.0" y2="356.0" stroke="#1a1a1a" stroke-width="0.7" />
<circle cx="824.5" cy="313.6" r="2" fill="#fff" stroke="#222" stroke-width="1.2"/>
<circle cx="867" cy="353" r="2" fill="#fff" stroke="#222" stroke-width="1.2"/>
<circle cx="874.5" cy="360.7" r="2" fill="#fff" stroke="#222" stroke-width="1.2"/>
<circle cx="721" cy="201" r="2" fill="#fff" stroke="#222" stroke-width="1.2"/>
<path d="M718,207 Q722,203 727,207 L731,214 Q732,219 728,219 L723,219 Q719,219 718,215 Z" fill="#555" stroke="#111" stroke-width="0.9"/>
<path d="M728,227 L728,288 Q728,298 736,305 L846,408" fill="none" stroke="#1a1a1a" stroke-width="0.7"/>
<path d="M732,226 L845,332 Q862,348 862,364 L862,372" fill="none" stroke="#1a1a1a" stroke-width="0.8"/>
<path d="M736,222 L850,329 Q868,346 867,366" fill="none" stroke="#1a1a1a" stroke-width="0.6"/>
<polygon points="495.0,281.0 503.7,279.5 660.0,481.0 650.0,483.0" fill="#fff" stroke="#1a1a1a" stroke-width="0.9" stroke-linejoin="round"/>
<polygon points="503.7,279.5 532.0,274.7 697.4,460.5 660.0,481.0" fill="#fff" stroke="#1a1a1a" stroke-width="0.8" stroke-linejoin="round"/>
<line x1="512.0" y1="281.6" x2="656.0" y2="470.0" stroke="#222" stroke-width="1.6" />
<line x1="508.0" y1="283.0" x2="652.0" y2="474.0" stroke="#1a1a1a" stroke-width="0.6" />
<polygon points="532.0,274.7 550.0,273.0 697.4,460.5 662.0,478.0" fill="#fff" stroke="#1a1a1a" stroke-width="0.9" stroke-linejoin="round"/>
<line x1="540.0" y1="279.0" x2="688.0" y2="467.0" stroke="#1a1a1a" stroke-width="0.6" />
<path d="M507,286 Q510,283 513,286 L522,298 Q524,302 520,302 L517,302 Q514,302 512,299 Z" fill="#555" stroke="#111" stroke-width="0.9"/>
<ellipse cx="510.5" cy="288.0" rx="1.1" ry="1.3" fill="#ddd"/>
<ellipse cx="513.1" cy="291.4" rx="1.1" ry="1.3" fill="#ddd"/>
<ellipse cx="515.7" cy="294.8" rx="1.1" ry="1.3" fill="#ddd"/>
<ellipse cx="518.3" cy="298.2" rx="1.1" ry="1.3" fill="#ddd"/>
<circle cx="653" cy="472" r="2.4" fill="#fff" stroke="#222" stroke-width="1"/>
<text x="0" y="0" transform="translate(651,411) rotate(53)" font-family="Liberation Sans, sans-serif" font-style="italic" font-size="8" fill="#333">Fractal</text>
<polygon points="652.0,479.0 898.0,365.0 904.0,379.0 664.0,502.0" fill="#fff" stroke="#1a1a1a" stroke-width="1.0" stroke-linejoin="round"/>
<polygon points="653.0,483.0 898.0,368.0 898.0,378.0 653.0,497.0" fill="#fff" stroke="#1a1a1a" stroke-width="0.8" stroke-linejoin="round"/>
<line x1="653.4" y1="484.0" x2="655.2" y2="494.4" stroke="#1a1a1a" stroke-width="3.0" stroke-linecap="round"/>
<line x1="653.5" y1="485.2" x2="655.1" y2="493.6" stroke="#bbb" stroke-width="0.9" stroke-linecap="round"/>
<line x1="657.8" y1="481.9" x2="659.6" y2="492.3" stroke="#1a1a1a" stroke-width="3.0" stroke-linecap="round"/>
<line x1="657.9" y1="483.1" x2="659.5" y2="491.5" stroke="#bbb" stroke-width="0.9" stroke-linecap="round"/>
<line x1="662.1" y1="479.8" x2="663.9" y2="490.2" stroke="#1a1a1a" stroke-width="3.0" stroke-linecap="round"/>
<line x1="662.2" y1="481.0" x2="663.8" y2="489.4" stroke="#bbb" stroke-width="0.9" stroke-linecap="round"/>
<line x1="666.5" y1="477.8" x2="668.3" y2="488.1" stroke="#1a1a1a" stroke-width="3.0" stroke-linecap="round"/>
<line x1="666.6" y1="479.0" x2="668.2" y2="487.3" stroke="#bbb" stroke-width="0.9" stroke-linecap="round"/>
<line x1="670.9" y1="475.7" x2="672.7" y2="486.0" stroke="#1a1a1a" stroke-width="3.0" stroke-linecap="round"/>
<line x1="671.0" y1="476.9" x2="672.6" y2="485.2" stroke="#bbb" stroke-width="0.9" stroke-linecap="round"/>
<line x1="675.3" y1="473.7" x2="677.1" y2="483.9" stroke="#1a1a1a" stroke-width="3.0" stroke-linecap="round"/>
<line x1="675.4" y1="474.9" x2="677.0" y2="483.1" stroke="#bbb" stroke-width="0.9" stroke-linecap="round"/>
<line x1="679.6" y1="471.6" x2="681.4" y2="481.7" stroke="#1a1a1a" stroke-width="3.0" stroke-linecap="round"/>
<line x1="679.7" y1="472.8" x2="681.3" y2="480.9" stroke="#bbb" stroke-width="0.9" stroke-linecap="round"/>
<line x1="684.0" y1="469.5" x2="685.8" y2="479.6" stroke="#1a1a1a" stroke-width="3.0" stroke-linecap="round"/>
<line x1="684.1" y1="470.7" x2="685.7" y2="478.8" stroke="#bbb" stroke-width="0.9" stroke-linecap="round"/>
<line x1="688.4" y1="467.5" x2="690.2" y2="477.5" stroke="#1a1a1a" stroke-width="3.0" stroke-linecap="round"/>
<line x1="688.5" y1="468.7" x2="690.1" y2="476.7" stroke="#bbb" stroke-width="0.9" stroke-linecap="round"/>
<line x1="692.8" y1="465.4" x2="694.6" y2="475.4" stroke="#1a1a1a" stroke-width="3.0" stroke-linecap="round"/>
<line x1="692.9" y1="466.6" x2="694.5" y2="474.6" stroke="#bbb" stroke-width="0.9" stroke-linecap="round"/>
<line x1="697.1" y1="463.3" x2="698.9" y2="473.3" stroke="#1a1a1a" stroke-width="3.0" stroke-linecap="round"/>
<line x1="697.2" y1="464.5" x2="698.8" y2="472.5" stroke="#bbb" stroke-width="0.9" stroke-linecap="round"/>
<line x1="701.5" y1="461.3" x2="703.3" y2="471.2" stroke="#1a1a1a" stroke-width="3.0" stroke-linecap="round"/>
<line x1="701.6" y1="462.5" x2="703.2" y2="470.4" stroke="#bbb" stroke-width="0.9" stroke-linecap="round"/>
<line x1="705.9" y1="459.2" x2="707.7" y2="469.0" stroke="#1a1a1a" stroke-width="3.0" stroke-linecap="round"/>
<line x1="706.0" y1="460.4" x2="707.6" y2="468.2" stroke="#bbb" stroke-width="0.9" stroke-linecap="round"/>
<line x1="710.3" y1="457.2" x2="712.1" y2="466.9" stroke="#1a1a1a" stroke-width="3.0" stroke-linecap="round"/>
<line x1="710.4" y1="458.4" x2="712.0" y2="466.1" stroke="#bbb" stroke-width="0.9" stroke-linecap="round"/>
<line x1="714.6" y1="455.1" x2="716.4" y2="464.8" stroke="#1a1a1a" stroke-width="3.0" stroke-linecap="round"/>
<line x1="714.7" y1="456.3" x2="716.3" y2="464.0" stroke="#bbb" stroke-width="0.9" stroke-linecap="round"/>
<line x1="719.0" y1="453.0" x2="720.8" y2="462.7" stroke="#1a1a1a" stroke-width="3.0" stroke-linecap="round"/>
<line x1="719.1" y1="454.2" x2="720.7" y2="461.9" stroke="#bbb" stroke-width="0.9" stroke-linecap="round"/>
<line x1="723.4" y1="451.0" x2="725.2" y2="460.6" stroke="#1a1a1a" stroke-width="3.0" stroke-linecap="round"/>
<line x1="723.5" y1="452.2" x2="725.1" y2="459.8" stroke="#bbb" stroke-width="0.9" stroke-linecap="round"/>
<line x1="727.8" y1="448.9" x2="729.6" y2="458.5" stroke="#1a1a1a" stroke-width="3.0" stroke-linecap="round"/>
<line x1="727.9" y1="450.1" x2="729.5" y2="457.7" stroke="#bbb" stroke-width="0.9" stroke-linecap="round"/>
<line x1="732.1" y1="446.8" x2="733.9" y2="456.4" stroke="#1a1a1a" stroke-width="3.0" stroke-linecap="round"/>
<line x1="732.2" y1="448.0" x2="733.8" y2="455.6" stroke="#bbb" stroke-width="0.9" stroke-linecap="round"/>
<line x1="736.5" y1="444.8" x2="738.3" y2="454.2" stroke="#1a1a1a" stroke-width="3.0" stroke-linecap="round"/>
<line x1="736.6" y1="446.0" x2="738.2" y2="453.4" stroke="#bbb" stroke-width="0.9" stroke-linecap="round"/>
<line x1="740.9" y1="442.7" x2="742.7" y2="452.1" stroke="#1a1a1a" stroke-width="3.0" stroke-linecap="round"/>
<line x1="741.0" y1="443.9" x2="742.6" y2="451.3" stroke="#bbb" stroke-width="0.9" stroke-linecap="round"/>
<line x1="745.3" y1="440.7" x2="747.1" y2="450.0" stroke="#1a1a1a" stroke-width="3.0" stroke-linecap="round"/>
<line x1="745.4" y1="441.9" x2="747.0" y2="449.2" stroke="#bbb" stroke-width="0.9" stroke-linecap="round"/>
<line x1="749.6" y1="438.6" x2="751.4" y2="447.9" stroke="#1a1a1a" stroke-width="3.0" stroke-linecap="round"/>
<line x1="749.7" y1="439.8" x2="751.3" y2="447.1" stroke="#bbb" stroke-width="0.9" stroke-linecap="round"/>
<line x1="754.0" y1="436.5" x2="755.8" y2="445.8" stroke="#1a1a1a" stroke-width="3.0" stroke-linecap="round"/>
<line x1="754.1" y1="437.7" x2="755.7" y2="445.0" stroke="#bbb" stroke-width="0.9" stroke-linecap="round"/>
<line x1="758.4" y1="434.5" x2="760.2" y2="443.7" stroke="#1a1a1a" stroke-width="3.0" stroke-linecap="round"/>
<line x1="758.5" y1="435.7" x2="760.1" y2="442.9" stroke="#bbb" stroke-width="0.9" stroke-linecap="round"/>
<line x1="762.8" y1="432.4" x2="764.6" y2="441.5" stroke="#1a1a1a" stroke-width="3.0" stroke-linecap="round"/>
<line x1="762.9" y1="433.6" x2="764.5" y2="440.7" stroke="#bbb" stroke-width="0.9" stroke-linecap="round"/>
<line x1="767.1" y1="430.3" x2="768.9" y2="439.4" stroke="#1a1a1a" stroke-width="3.0" stroke-linecap="round"/>
<line x1="767.2" y1="431.5" x2="768.8" y2="438.6" stroke="#bbb" stroke-width="0.9" stroke-linecap="round"/>
<line x1="771.5" y1="428.3" x2="773.3" y2="437.3" stroke="#1a1a1a" stroke-width="3.0" stroke-linecap="round"/>
<line x1="771.6" y1="429.5" x2="773.2" y2="436.5" stroke="#bbb" stroke-width="0.9" stroke-linecap="round"/>
<line x1="775.9" y1="426.2" x2="777.7" y2="435.2" stroke="#1a1a1a" stroke-width="3.0" stroke-linecap="round"/>
<line x1="776.0" y1="427.4" x2="777.6" y2="434.4" stroke="#bbb" stroke-width="0.9" stroke-linecap="round"/>
<line x1="780.3" y1="424.2" x2="782.1" y2="433.1" stroke="#1a1a1a" stroke-width="3.0" stroke-linecap="round"/>
<line x1="780.4" y1="425.4" x2="782.0" y2="432.3" stroke="#bbb" stroke-width="0.9" stroke-linecap="round"/>
<line x1="784.6" y1="422.1" x2="786.4" y2="431.0" stroke="#1a1a1a" stroke-width="3.0" stroke-linecap="round"/>
<line x1="784.7" y1="423.3" x2="786.3" y2="430.2" stroke="#bbb" stroke-width="0.9" stroke-linecap="round"/>
<line x1="789.0" y1="420.0" x2="790.8" y2="428.8" stroke="#1a1a1a" stroke-width="3.0" stroke-linecap="round"/>
<line x1="789.1" y1="421.2" x2="790.7" y2="428.0" stroke="#bbb" stroke-width="0.9" stroke-linecap="round"/>
<line x1="793.4" y1="418.0" x2="795.2" y2="426.7" stroke="#1a1a1a" stroke-width="3.0" stroke-linecap="round"/>
<line x1="793.5" y1="419.2" x2="795.1" y2="425.9" stroke="#bbb" stroke-width="0.9" stroke-linecap="round"/>
<line x1="797.8" y1="415.9" x2="799.6" y2="424.6" stroke="#1a1a1a" stroke-width="3.0" stroke-linecap="round"/>
<line x1="797.9" y1="417.1" x2="799.5" y2="423.8" stroke="#bbb" stroke-width="0.9" stroke-linecap="round"/>
<line x1="802.1" y1="413.8" x2="803.9" y2="422.5" stroke="#1a1a1a" stroke-width="3.0" stroke-linecap="round"/>
<line x1="802.2" y1="415.0" x2="803.8" y2="421.7" stroke="#bbb" stroke-width="0.9" stroke-linecap="round"/>
<line x1="806.5" y1="411.8" x2="808.3" y2="420.4" stroke="#1a1a1a" stroke-width="3.0" stroke-linecap="round"/>
<line x1="806.6" y1="413.0" x2="808.2" y2="419.6" stroke="#bbb" stroke-width="0.9" stroke-linecap="round"/>
<line x1="810.9" y1="409.7" x2="812.7" y2="418.3" stroke="#1a1a1a" stroke-width="3.0" stroke-linecap="round"/>
<line x1="811.0" y1="410.9" x2="812.6" y2="417.5" stroke="#bbb" stroke-width="0.9" stroke-linecap="round"/>
<line x1="815.3" y1="407.7" x2="817.1" y2="416.1" stroke="#1a1a1a" stroke-width="3.0" stroke-linecap="round"/>
<line x1="815.4" y1="408.9" x2="817.0" y2="415.3" stroke="#bbb" stroke-width="0.9" stroke-linecap="round"/>
<line x1="819.6" y1="405.6" x2="821.4" y2="414.0" stroke="#1a1a1a" stroke-width="3.0" stroke-linecap="round"/>
<line x1="819.7" y1="406.8" x2="821.3" y2="413.2" stroke="#bbb" stroke-width="0.9" stroke-linecap="round"/>
<line x1="824.0" y1="403.5" x2="825.8" y2="411.9" stroke="#1a1a1a" stroke-width="3.0" stroke-linecap="round"/>
<line x1="824.1" y1="404.7" x2="825.7" y2="411.1" stroke="#bbb" stroke-width="0.9" stroke-linecap="round"/>
<line x1="828.4" y1="401.5" x2="830.2" y2="409.8" stroke="#1a1a1a" stroke-width="3.0" stroke-linecap="round"/>
<line x1="828.5" y1="402.7" x2="830.1" y2="409.0" stroke="#bbb" stroke-width="0.9" stroke-linecap="round"/>
<line x1="832.8" y1="399.4" x2="834.6" y2="407.7" stroke="#1a1a1a" stroke-width="3.0" stroke-linecap="round"/>
<line x1="832.9" y1="400.6" x2="834.5" y2="406.9" stroke="#bbb" stroke-width="0.9" stroke-linecap="round"/>
<line x1="837.1" y1="397.3" x2="838.9" y2="405.6" stroke="#1a1a1a" stroke-width="3.0" stroke-linecap="round"/>
<line x1="837.2" y1="398.5" x2="838.8" y2="404.8" stroke="#bbb" stroke-width="0.9" stroke-linecap="round"/>
<line x1="841.5" y1="395.3" x2="843.3" y2="403.5" stroke="#1a1a1a" stroke-width="3.0" stroke-linecap="round"/>
<line x1="841.6" y1="396.5" x2="843.2" y2="402.7" stroke="#bbb" stroke-width="0.9" stroke-linecap="round"/>
<line x1="845.9" y1="393.2" x2="847.7" y2="401.3" stroke="#1a1a1a" stroke-width="3.0" stroke-linecap="round"/>
<line x1="846.0" y1="394.4" x2="847.6" y2="400.5" stroke="#bbb" stroke-width="0.9" stroke-linecap="round"/>
<line x1="850.3" y1="391.2" x2="852.1" y2="399.2" stroke="#1a1a1a" stroke-width="3.0" stroke-linecap="round"/>
<line x1="850.4" y1="392.4" x2="852.0" y2="398.4" stroke="#bbb" stroke-width="0.9" stroke-linecap="round"/>
<line x1="854.6" y1="389.1" x2="856.4" y2="397.1" stroke="#1a1a1a" stroke-width="3.0" stroke-linecap="round"/>
<line x1="854.7" y1="390.3" x2="856.3" y2="396.3" stroke="#bbb" stroke-width="0.9" stroke-linecap="round"/>
<line x1="859.0" y1="387.0" x2="860.8" y2="395.0" stroke="#1a1a1a" stroke-width="3.0" stroke-linecap="round"/>
<line x1="859.1" y1="388.2" x2="860.7" y2="394.2" stroke="#bbb" stroke-width="0.9" stroke-linecap="round"/>
<line x1="863.4" y1="385.0" x2="865.2" y2="392.9" stroke="#1a1a1a" stroke-width="3.0" stroke-linecap="round"/>
<line x1="863.5" y1="386.2" x2="865.1" y2="392.1" stroke="#bbb" stroke-width="0.9" stroke-linecap="round"/>
<line x1="867.8" y1="382.9" x2="869.6" y2="390.8" stroke="#1a1a1a" stroke-width="3.0" stroke-linecap="round"/>
<line x1="867.9" y1="384.1" x2="869.5" y2="390.0" stroke="#bbb" stroke-width="0.9" stroke-linecap="round"/>
<line x1="872.1" y1="380.8" x2="873.9" y2="388.6" stroke="#1a1a1a" stroke-width="3.0" stroke-linecap="round"/>
<line x1="872.2" y1="382.0" x2="873.8" y2="387.8" stroke="#bbb" stroke-width="0.9" stroke-linecap="round"/>
<line x1="876.5" y1="378.8" x2="878.3" y2="386.5" stroke="#1a1a1a" stroke-width="3.0" stroke-linecap="round"/>
<line x1="876.6" y1="380.0" x2="878.2" y2="385.7" stroke="#bbb" stroke-width="0.9" stroke-linecap="round"/>
<line x1="880.9" y1="376.7" x2="882.7" y2="384.4" stroke="#1a1a1a" stroke-width="3.0" stroke-linecap="round"/>
<line x1="881.0" y1="377.9" x2="882.6" y2="383.6" stroke="#bbb" stroke-width="0.9" stroke-linecap="round"/>
<line x1="885.3" y1="374.7" x2="887.1" y2="382.3" stroke="#1a1a1a" stroke-width="3.0" stroke-linecap="round"/>
<line x1="885.4" y1="375.9" x2="887.0" y2="381.5" stroke="#bbb" stroke-width="0.9" stroke-linecap="round"/>
<line x1="889.6" y1="372.6" x2="891.4" y2="380.2" stroke="#1a1a1a" stroke-width="3.0" stroke-linecap="round"/>
<line x1="889.7" y1="373.8" x2="891.3" y2="379.4" stroke="#bbb" stroke-width="0.9" stroke-linecap="round"/>
<line x1="894.0" y1="370.5" x2="895.8" y2="378.1" stroke="#1a1a1a" stroke-width="3.0" stroke-linecap="round"/>
<line x1="894.1" y1="371.7" x2="895.7" y2="377.3" stroke="#bbb" stroke-width="0.9" stroke-linecap="round"/>
<line x1="653.0" y1="498.5" x2="898.0" y2="379.0" stroke="#1a1a1a" stroke-width="0.8" />
<line x1="653.0" y1="501.0" x2="898.0" y2="380.5" stroke="#1a1a1a" stroke-width="0.6" />
<polygon points="664.0,502.0 904.0,379.0 888.0,465.0 669.0,586.0" fill="#fff" stroke="#1a1a1a" stroke-width="1.0" stroke-linejoin="round"/>
<polygon points="672.0,512.0 893.0,394.0 880.0,461.0 676.0,575.0" fill="none" stroke="#999" stroke-width="0.5" stroke-linejoin="round"/>
<polygon points="671.0,503.8 888.8,395.7 884.0,463.0 674.0,574.0" fill="none" stroke="#999" stroke-width="0.8" stroke-linejoin="round"/>
<ellipse cx="701.3" cy="520.5" rx="33" ry="31" fill="none" stroke="#c4c4c4" stroke-width="1.0"/>
<ellipse cx="701.3" cy="520.5" rx="29" ry="27" fill="none" stroke="#c4c4c4" stroke-width="0.6"/>
<ellipse cx="691.3" cy="508.5" rx="11" ry="9.5" fill="none" stroke="#c4c4c4" stroke-width="1.0"/>
<path d="M701.3,508.5 Q716.6,527.5 721.5,539.9" fill="none" stroke="#c4c4c4" stroke-width="0.7"/>
<path d="M699.0,514.3 Q708.3,535.1 703.4,547.4" fill="none" stroke="#c4c4c4" stroke-width="0.7"/>
<path d="M693.0,517.4 Q696.7,535.9 684.3,542.4" fill="none" stroke="#c4c4c4" stroke-width="0.7"/>
<path d="M686.3,516.3 Q687.2,529.5 673.2,527.1" fill="none" stroke="#c4c4c4" stroke-width="0.7"/>
<path d="M681.9,511.6 Q684.4,518.9 675.2,508.7" fill="none" stroke="#c4c4c4" stroke-width="0.7"/>
<path d="M681.9,505.4 Q689.4,509.0 689.4,495.9" fill="none" stroke="#c4c4c4" stroke-width="0.7"/>
<path d="M686.3,500.7 Q700.0,504.5 709.2,494.5" fill="none" stroke="#c4c4c4" stroke-width="0.7"/>
<path d="M693.0,499.6 Q711.2,507.5 725.3,505.3" fill="none" stroke="#c4c4c4" stroke-width="0.7"/>
<path d="M699.0,502.7 Q717.8,516.6 730.1,523.2" fill="none" stroke="#c4c4c4" stroke-width="0.7"/>
<ellipse cx="773.4" cy="481.3" rx="33" ry="31" fill="none" stroke="#c4c4c4" stroke-width="1.0"/>
<ellipse cx="773.4" cy="481.3" rx="29" ry="27" fill="none" stroke="#c4c4c4" stroke-width="0.6"/>
<ellipse cx="763.4" cy="469.3" rx="11" ry="9.5" fill="none" stroke="#c4c4c4" stroke-width="1.0"/>
<path d="M773.4,469.3 Q788.7,488.3 793.6,500.7" fill="none" stroke="#c4c4c4" stroke-width="0.7"/>
<path d="M771.1,475.1 Q780.4,495.9 775.5,508.2" fill="none" stroke="#c4c4c4" stroke-width="0.7"/>
<path d="M765.1,478.2 Q768.8,496.7 756.4,503.2" fill="none" stroke="#c4c4c4" stroke-width="0.7"/>
<path d="M758.4,477.1 Q759.3,490.3 745.3,487.9" fill="none" stroke="#c4c4c4" stroke-width="0.7"/>
<path d="M754.0,472.4 Q756.5,479.7 747.3,469.5" fill="none" stroke="#c4c4c4" stroke-width="0.7"/>
<path d="M754.0,466.2 Q761.5,469.8 761.5,456.7" fill="none" stroke="#c4c4c4" stroke-width="0.7"/>
<path d="M758.4,461.5 Q772.1,465.3 781.3,455.3" fill="none" stroke="#c4c4c4" stroke-width="0.7"/>
<path d="M765.1,460.4 Q783.3,468.3 797.4,466.1" fill="none" stroke="#c4c4c4" stroke-width="0.7"/>
<path d="M771.1,463.5 Q789.9,477.4 802.2,484.0" fill="none" stroke="#c4c4c4" stroke-width="0.7"/>
<ellipse cx="840.8" cy="443.7" rx="33" ry="31" fill="none" stroke="#c4c4c4" stroke-width="1.0"/>
<ellipse cx="840.8" cy="443.7" rx="29" ry="27" fill="none" stroke="#c4c4c4" stroke-width="0.6"/>
<ellipse cx="830.8" cy="431.7" rx="11" ry="9.5" fill="none" stroke="#c4c4c4" stroke-width="1.0"/>
<path d="M840.8,431.7 Q856.1,450.7 861.0,463.1" fill="none" stroke="#c4c4c4" stroke-width="0.7"/>
<path d="M838.5,437.5 Q847.8,458.3 842.9,470.6" fill="none" stroke="#c4c4c4" stroke-width="0.7"/>
<path d="M832.5,440.6 Q836.2,459.1 823.8,465.6" fill="none" stroke="#c4c4c4" stroke-width="0.7"/>
<path d="M825.8,439.5 Q826.7,452.7 812.7,450.3" fill="none" stroke="#c4c4c4" stroke-width="0.7"/>
<path d="M821.4,434.8 Q823.9,442.1 814.7,431.9" fill="none" stroke="#c4c4c4" stroke-width="0.7"/>
<path d="M821.4,428.6 Q828.9,432.2 828.9,419.1" fill="none" stroke="#c4c4c4" stroke-width="0.7"/>
<path d="M825.8,423.9 Q839.5,427.7 848.7,417.7" fill="none" stroke="#c4c4c4" stroke-width="0.7"/>
<path d="M832.5,422.8 Q850.7,430.7 864.8,428.5" fill="none" stroke="#c4c4c4" stroke-width="0.7"/>
<path d="M838.5,425.9 Q857.3,439.8 869.6,446.4" fill="none" stroke="#c4c4c4" stroke-width="0.7"/>
<line x1="673.0" y1="545.0" x2="882.0" y2="446.0" stroke="#c4c4c4" stroke-width="0.9" />
<line x1="674.0" y1="556.0" x2="882.0" y2="456.0" stroke="#c4c4c4" stroke-width="0.7" />
<line x1="672.0" y1="530.0" x2="885.0" y2="428.0" stroke="#c4c4c4" stroke-width="0.7" />
<polygon points="720.0,522.0 734.0,515.0 735.0,519.0 721.0,526.0" fill="none" stroke="#c4c4c4" stroke-width="0.8" stroke-linejoin="round"/>
<polygon points="790.0,488.0 804.0,481.0 805.0,485.0 791.0,492.0" fill="none" stroke="#c4c4c4" stroke-width="0.8" stroke-linejoin="round"/>
<polygon points="850.0,458.0 864.0,451.0 865.0,455.0 851.0,462.0" fill="none" stroke="#c4c4c4" stroke-width="0.8" stroke-linejoin="round"/>
<polygon points="650.0,483.0 662.0,503.0 669.0,586.0 657.0,578.0" fill="#fff" stroke="#1a1a1a" stroke-width="0.9" stroke-linejoin="round"/>
<polygon points="495.0,281.0 499.0,313.0 504.0,380.0 516.0,394.0 531.0,400.6 650.0,581.0 667.0,587.0 669.0,586.0 650.0,483.0" fill="#fff" stroke="#1a1a1a" stroke-width="1.0" stroke-linejoin="round"/>
<polygon points="502.4,323.6 515.0,323.0 646.0,502.0 648.5,558.0 520.3,382.0 513.0,373.7" fill="#b0b0b0" stroke="#111" stroke-width="1.0"/>
<clipPath id="meshclip"><polygon points="502.4,323.6 515.0,323.0 646.0,502.0 648.5,558.0 520.3,382.0 513.0,373.7"/></clipPath>
<g clip-path="url(#meshclip)" fill="#fff" stroke="#1a1a1a" stroke-width="1.1"><ellipse cx="498.0" cy="288.0" rx="1.5" ry="4.6" transform="rotate(-12 498.0 288.0)"/><ellipse cx="498.0" cy="298.0" rx="1.5" ry="4.6" transform="rotate(-12 498.0 298.0)"/><ellipse cx="498.0" cy="308.0" rx="1.5" ry="4.6" transform="rotate(-12 498.0 308.0)"/><ellipse cx="498.0" cy="318.0" rx="1.5" ry="4.6" transform="rotate(-12 498.0 318.0)"/><ellipse cx="498.0" cy="328.0" rx="1.5" ry="4.6" transform="rotate(-12 498.0 328.0)"/><ellipse cx="498.0" cy="338.0" rx="1.5" ry="4.6" transform="rotate(-12 498.0 338.0)"/><ellipse cx="498.0" cy="348.0" rx="1.5" ry="4.6" transform="rotate(-12 498.0 348.0)"/><ellipse cx="498.0" cy="358.0" rx="1.5" ry="4.6" transform="rotate(-12 498.0 358.0)"/><ellipse cx="498.0" cy="368.0" rx="1.5" ry="4.6" transform="rotate(-12 498.0 368.0)"/><ellipse cx="498.0" cy="378.0" rx="1.5" ry="4.6" transform="rotate(-12 498.0 378.0)"/><ellipse cx="498.0" cy="388.0" rx="1.5" ry="4.6" transform="rotate(-12 498.0 388.0)"/><ellipse cx="498.0" cy="398.0" rx="1.5" ry="4.6" transform="rotate(-12 498.0 398.0)"/><ellipse cx="498.0" cy="408.0" rx="1.5" ry="4.6" transform="rotate(-12 498.0 408.0)"/><ellipse cx="498.0" cy="418.0" rx="1.5" ry="4.6" transform="rotate(-12 498.0 418.0)"/><ellipse cx="498.0" cy="428.0" rx="1.5" ry="4.6" transform="rotate(-12 498.0 428.0)"/><ellipse cx="498.0" cy="438.0" rx="1.5" ry="4.6" transform="rotate(-12 498.0 438.0)"/><ellipse cx="498.0" cy="448.0" rx="1.5" ry="4.6" transform="rotate(-12 498.0 448.0)"/><ellipse cx="498.0" cy="458.0" rx="1.5" ry="4.6" transform="rotate(-12 498.0 458.0)"/><ellipse cx="498.0" cy="468.0" rx="1.5" ry="4.6" transform="rotate(-12 498.0 468.0)"/><ellipse cx="498.0" cy="478.0" rx="1.5" ry="4.6" transform="rotate(-12 498.0 478.0)"/><ellipse cx="498.0" cy="488.0" rx="1.5" ry="4.6" transform="rotate(-12 498.0 488.0)"/><ellipse cx="498.0" cy="498.0" rx="1.5" ry="4.6" transform="rotate(-12 498.0 498.0)"/><ellipse cx="498.0" cy="508.0" rx="1.5" ry="4.6" transform="rotate(-12 498.0 508.0)"/><ellipse cx="498.0" cy="518.0" rx="1.5" ry="4.6" transform="rotate(-12 498.0 518.0)"/><ellipse cx="498.0" cy="528.0" rx="1.5" ry="4.6" transform="rotate(-12 498.0 528.0)"/><ellipse cx="498.0" cy="538.0" rx="1.5" ry="4.6" transform="rotate(-12 498.0 538.0)"/><ellipse cx="498.0" cy="548.0" rx="1.5" ry="4.6" transform="rotate(-12 498.0 548.0)"/><ellipse cx="498.0" cy="558.0" rx="1.5" ry="4.6" transform="rotate(-12 498.0 558.0)"/><ellipse cx="498.0" cy="568.0" rx="1.5" ry="4.6" transform="rotate(-12 498.0 568.0)"/><ellipse cx="498.0" cy="578.0" rx="1.5" ry="4.6" transform="rotate(-12 498.0 578.0)"/><ellipse cx="498.0" cy="588.0" rx="1.5" ry="4.6" transform="rotate(-12 498.0 588.0)"/><ellipse cx="498.0" cy="598.0" rx="1.5" ry="4.6" transform="rotate(-12 498.0 598.0)"/><ellipse cx="498.0" cy="608.0" rx="1.5" ry="4.6" transform="rotate(-12 498.0 608.0)"/><ellipse cx="503.0" cy="293.0" rx="1.5" ry="4.6" transform="rotate(-12 503.0 293.0)"/><ellipse cx="503.0" cy="303.0" rx="1.5" ry="4.6" transform="rotate(-12 503.0 303.0)"/><ellipse cx="503.0" cy="313.0" rx="1.5" ry="4.6" transform="rotate(-12 503.0 313.0)"/><ellipse cx="503.0" cy="323.0" rx="1.5" ry="4.6" transform="rotate(-12 503.0 323.0)"/><ellipse cx="503.0" cy="333.0" rx="1.5" ry="4.6" transform="rotate(-12 503.0 333.0)"/><ellipse cx="503.0" cy="343.0" rx="1.5" ry="4.6" transform="rotate(-12 503.0 343.0)"/><ellipse cx="503.0" cy="353.0" rx="1.5" ry="4.6" transform="rotate(-12 503.0 353.0)"/><ellipse cx="503.0" cy="363.0" rx="1.5" ry="4.6" transform="rotate(-12 503.0 363.0)"/><ellipse cx="503.0" cy="373.0" rx="1.5" ry="4.6" transform="rotate(-12 503.0 373.0)"/><ellipse cx="503.0" cy="383.0" rx="1.5" ry="4.6" transform="rotate(-12 503.0 383.0)"/><ellipse cx="503.0" cy="393.0" rx="1.5" ry="4.6" transform="rotate(-12 503.0 393.0)"/><ellipse cx="503.0" cy="403.0" rx="1.5" ry="4.6" transform="rotate(-12 503.0 403.0)"/><ellipse cx="503.0" cy="413.0" rx="1.5" ry="4.6" transform="rotate(-12 503.0 413.0)"/><ellipse cx="503.0" cy="423.0" rx="1.5" ry="4.6" transform="rotate(-12 503.0 423.0)"/><ellipse cx="503.0" cy="433.0" rx="1.5" ry="4.6" transform="rotate(-12 503.0 433.0)"/><ellipse cx="503.0" cy="443.0" rx="1.5" ry="4.6" transform="rotate(-12 503.0 443.0)"/><ellipse cx="503.0" cy="453.0" rx="1.5" ry="4.6" transform="rotate(-12 503.0 453.0)"/><ellipse cx="503.0" cy="463.0" rx="1.5" ry="4.6" transform="rotate(-12 503.0 463.0)"/><ellipse cx="503.0" cy="473.0" rx="1.5" ry="4.6" transform="rotate(-12 503.0 473.0)"/><ellipse cx="503.0" cy="483.0" rx="1.5" ry="4.6" transform="rotate(-12 503.0 483.0)"/><ellipse cx="503.0" cy="493.0" rx="1.5" ry="4.6" transform="rotate(-12 503.0 493.0)"/><ellipse cx="503.0" cy="503.0" rx="1.5" ry="4.6" transform="rotate(-12 503.0 503.0)"/><ellipse cx="503.0" cy="513.0" rx="1.5" ry="4.6" transform="rotate(-12 503.0 513.0)"/><ellipse cx="503.0" cy="523.0" rx="1.5" ry="4.6" transform="rotate(-12 503.0 523.0)"/><ellipse cx="503.0" cy="533.0" rx="1.5" ry="4.6" transform="rotate(-12 503.0 533.0)"/><ellipse cx="503.0" cy="543.0" rx="1.5" ry="4.6" transform="rotate(-12 503.0 543.0)"/><ellipse cx="503.0" cy="553.0" rx="1.5" ry="4.6" transform="rotate(-12 503.0 553.0)"/><ellipse cx="503.0" cy="563.0" rx="1.5" ry="4.6" transform="rotate(-12 503.0 563.0)"/><ellipse cx="503.0" cy="573.0" rx="1.5" ry="4.6" transform="rotate(-12 503.0 573.0)"/><ellipse cx="503.0" cy="583.0" rx="1.5" ry="4.6" transform="rotate(-12 503.0 583.0)"/><ellipse cx="503.0" cy="593.0" rx="1.5" ry="4.6" transform="rotate(-12 503.0 593.0)"/><ellipse cx="503.0" cy="603.0" rx="1.5" ry="4.6" transform="rotate(-12 503.0 603.0)"/><ellipse cx="503.0" cy="613.0" rx="1.5" ry="4.6" transform="rotate(-12 503.0 613.0)"/><ellipse cx="508.0" cy="288.0" rx="1.5" ry="4.6" transform="rotate(-12 508.0 288.0)"/><ellipse cx="508.0" cy="298.0" rx="1.5" ry="4.6" transform="rotate(-12 508.0 298.0)"/><ellipse cx="508.0" cy="308.0" rx="1.5" ry="4.6" transform="rotate(-12 508.0 308.0)"/><ellipse cx="508.0" cy="318.0" rx="1.5" ry="4.6" transform="rotate(-12 508.0 318.0)"/><ellipse cx="508.0" cy="328.0" rx="1.5" ry="4.6" transform="rotate(-12 508.0 328.0)"/><ellipse cx="508.0" cy="338.0" rx="1.5" ry="4.6" transform="rotate(-12 508.0 338.0)"/><ellipse cx="508.0" cy="348.0" rx="1.5" ry="4.6" transform="rotate(-12 508.0 348.0)"/><ellipse cx="508.0" cy="358.0" rx="1.5" ry="4.6" transform="rotate(-12 508.0 358.0)"/><ellipse cx="508.0" cy="368.0" rx="1.5" ry="4.6" transform="rotate(-12 508.0 368.0)"/><ellipse cx="508.0" cy="378.0" rx="1.5" ry="4.6" transform="rotate(-12 508.0 378.0)"/><ellipse cx="508.0" cy="388.0" rx="1.5" ry="4.6" transform="rotate(-12 508.0 388.0)"/><ellipse cx="508.0" cy="398.0" rx="1.5" ry="4.6" transform="rotate(-12 508.0 398.0)"/><ellipse cx="508.0" cy="408.0" rx="1.5" ry="4.6" transform="rotate(-12 508.0 408.0)"/><ellipse cx="508.0" cy="418.0" rx="1.5" ry="4.6" transform="rotate(-12 508.0 418.0)"/><ellipse cx="508.0" cy="428.0" rx="1.5" ry="4.6" transform="rotate(-12 508.0 428.0)"/><ellipse cx="508.0" cy="438.0" rx="1.5" ry="4.6" transform="rotate(-12 508.0 438.0)"/><ellipse cx="508.0" cy="448.0" rx="1.5" ry="4.6" transform="rotate(-12 508.0 448.0)"/><ellipse cx="508.0" cy="458.0" rx="1.5" ry="4.6" transform="rotate(-12 508.0 458.0)"/><ellipse cx="508.0" cy="468.0" rx="1.5" ry="4.6" transform="rotate(-12 508.0 468.0)"/><ellipse cx="508.0" cy="478.0" rx="1.5" ry="4.6" transform="rotate(-12 508.0 478.0)"/><ellipse cx="508.0" cy="488.0" rx="1.5" ry="4.6" transform="rotate(-12 508.0 488.0)"/><ellipse cx="508.0" cy="498.0" rx="1.5" ry="4.6" transform="rotate(-12 508.0 498.0)"/><ellipse cx="508.0" cy="508.0" rx="1.5" ry="4.6" transform="rotate(-12 508.0 508.0)"/><ellipse cx="508.0" cy="518.0" rx="1.5" ry="4.6" transform="rotate(-12 508.0 518.0)"/><ellipse cx="508.0" cy="528.0" rx="1.5" ry="4.6" transform="rotate(-12 508.0 528.0)"/><ellipse cx="508.0" cy="538.0" rx="1.5" ry="4.6" transform="rotate(-12 508.0 538.0)"/><ellipse cx="508.0" cy="548.0" rx="1.5" ry="4.6" transform="rotate(-12 508.0 548.0)"/><ellipse cx="508.0" cy="558.0" rx="1.5" ry="4.6" transform="rotate(-12 508.0 558.0)"/><ellipse cx="508.0" cy="568.0" rx="1.5" ry="4.6" transform="rotate(-12 508.0 568.0)"/><ellipse cx="508.0" cy="578.0" rx="1.5" ry="4.6" transform="rotate(-12 508.0 578.0)"/><ellipse cx="508.0" cy="588.0" rx="1.5" ry="4.6" transform="rotate(-12 508.0 588.0)"/><ellipse cx="508.0" cy="598.0" rx="1.5" ry="4.6" transform="rotate(-12 508.0 598.0)"/><ellipse cx="508.0" cy="608.0" rx="1.5" ry="4.6" transform="rotate(-12 508.0 608.0)"/><ellipse cx="513.0" cy="293.0" rx="1.5" ry="4.6" transform="rotate(-12 513.0 293.0)"/><ellipse cx="513.0" cy="303.0" rx="1.5" ry="4.6" transform="rotate(-12 513.0 303.0)"/><ellipse cx="513.0" cy="313.0" rx="1.5" ry="4.6" transform="rotate(-12 513.0 313.0)"/><ellipse cx="513.0" cy="323.0" rx="1.5" ry="4.6" transform="rotate(-12 513.0 323.0)"/><ellipse cx="513.0" cy="333.0" rx="1.5" ry="4.6" transform="rotate(-12 513.0 333.0)"/><ellipse cx="513.0" cy="343.0" rx="1.5" ry="4.6" transform="rotate(-12 513.0 343.0)"/><ellipse cx="513.0" cy="353.0" rx="1.5" ry="4.6" transform="rotate(-12 513.0 353.0)"/><ellipse cx="513.0" cy="363.0" rx="1.5" ry="4.6" transform="rotate(-12 513.0 363.0)"/><ellipse cx="513.0" cy="373.0" rx="1.5" ry="4.6" transform="rotate(-12 513.0 373.0)"/><ellipse cx="513.0" cy="383.0" rx="1.5" ry="4.6" transform="rotate(-12 513.0 383.0)"/><ellipse cx="513.0" cy="393.0" rx="1.5" ry="4.6" transform="rotate(-12 513.0 393.0)"/><ellipse cx="513.0" cy="403.0" rx="1.5" ry="4.6" transform="rotate(-12 513.0 403.0)"/><ellipse cx="513.0" cy="413.0" rx="1.5" ry="4.6" transform="rotate(-12 513.0 413.0)"/><ellipse cx="513.0" cy="423.0" rx="1.5" ry="4.6" transform="rotate(-12 513.0 423.0)"/><ellipse cx="513.0" cy="433.0" rx="1.5" ry="4.6" transform="rotate(-12 513.0 433.0)"/><ellipse cx="513.0" cy="443.0" rx="1.5" ry="4.6" transform="rotate(-12 513.0 443.0)"/><ellipse cx="513.0" cy="453.0" rx="1.5" ry="4.6" transform="rotate(-12 513.0 453.0)"/><ellipse cx="513.0" cy="463.0" rx="1.5" ry="4.6" transform="rotate(-12 513.0 463.0)"/><ellipse cx="513.0" cy="473.0" rx="1.5" ry="4.6" transform="rotate(-12 513.0 473.0)"/><ellipse cx="513.0" cy="483.0" rx="1.5" ry="4.6" transform="rotate(-12 513.0 483.0)"/><ellipse cx="513.0" cy="493.0" rx="1.5" ry="4.6" transform="rotate(-12 513.0 493.0)"/><ellipse cx="513.0" cy="503.0" rx="1.5" ry="4.6" transform="rotate(-12 513.0 503.0)"/><ellipse cx="513.0" cy="513.0" rx="1.5" ry="4.6" transform="rotate(-12 513.0 513.0)"/><ellipse cx="513.0" cy="523.0" rx="1.5" ry="4.6" transform="rotate(-12 513.0 523.0)"/><ellipse cx="513.0" cy="533.0" rx="1.5" ry="4.6" transform="rotate(-12 513.0 533.0)"/><ellipse cx="513.0" cy="543.0" rx="1.5" ry="4.6" transform="rotate(-12 513.0 543.0)"/><ellipse cx="513.0" cy="553.0" rx="1.5" ry="4.6" transform="rotate(-12 513.0 553.0)"/><ellipse cx="513.0" cy="563.0" rx="1.5" ry="4.6" transform="rotate(-12 513.0 563.0)"/><ellipse cx="513.0" cy="573.0" rx="1.5" ry="4.6" transform="rotate(-12 513.0 573.0)"/><ellipse cx="513.0" cy="583.0" rx="1.5" ry="4.6" transform="rotate(-12 513.0 583.0)"/><ellipse cx="513.0" cy="593.0" rx="1.5" ry="4.6" transform="rotate(-12 513.0 593.0)"/><ellipse cx="513.0" cy="603.0" rx="1.5" ry="4.6" transform="rotate(-12 513.0 603.0)"/><ellipse cx="513.0" cy="613.0" rx="1.5" ry="4.6" transform="rotate(-12 513.0 613.0)"/><ellipse cx="518.0" cy="288.0" rx="1.5" ry="4.6" transform="rotate(-12 518.0 288.0)"/><ellipse cx="518.0" cy="298.0" rx="1.5" ry="4.6" transform="rotate(-12 518.0 298.0)"/><ellipse cx="518.0" cy="308.0" rx="1.5" ry="4.6" transform="rotate(-12 518.0 308.0)"/><ellipse cx="518.0" cy="318.0" rx="1.5" ry="4.6" transform="rotate(-12 518.0 318.0)"/><ellipse cx="518.0" cy="328.0" rx="1.5" ry="4.6" transform="rotate(-12 518.0 328.0)"/><ellipse cx="518.0" cy="338.0" rx="1.5" ry="4.6" transform="rotate(-12 518.0 338.0)"/><ellipse cx="518.0" cy="348.0" rx="1.5" ry="4.6" transform="rotate(-12 518.0 348.0)"/><ellipse cx="518.0" cy="358.0" rx="1.5" ry="4.6" transform="rotate(-12 518.0 358.0)"/><ellipse cx="518.0" cy="368.0" rx="1.5" ry="4.6" transform="rotate(-12 518.0 368.0)"/><ellipse cx="518.0" cy="378.0" rx="1.5" ry="4.6" transform="rotate(-12 518.0 378.0)"/><ellipse cx="518.0" cy="388.0" rx="1.5" ry="4.6" transform="rotate(-12 518.0 388.0)"/><ellipse cx="518.0" cy="398.0" rx="1.5" ry="4.6" transform="rotate(-12 518.0 398.0)"/><ellipse cx="518.0" cy="408.0" rx="1.5" ry="4.6" transform="rotate(-12 518.0 408.0)"/><ellipse cx="518.0" cy="418.0" rx="1.5" ry="4.6" transform="rotate(-12 518.0 418.0)"/><ellipse cx="518.0" cy="428.0" rx="1.5" ry="4.6" transform="rotate(-12 518.0 428.0)"/><ellipse cx="518.0" cy="438.0" rx="1.5" ry="4.6" transform="rotate(-12 518.0 438.0)"/><ellipse cx="518.0" cy="448.0" rx="1.5" ry="4.6" transform="rotate(-12 518.0 448.0)"/><ellipse cx="518.0" cy="458.0" rx="1.5" ry="4.6" transform="rotate(-12 518.0 458.0)"/><ellipse cx="518.0" cy="468.0" rx="1.5" ry="4.6" transform="rotate(-12 518.0 468.0)"/><ellipse cx="518.0" cy="478.0" rx="1.5" ry="4.6" transform="rotate(-12 518.0 478.0)"/><ellipse cx="518.0" cy="488.0" rx="1.5" ry="4.6" transform="rotate(-12 518.0 488.0)"/><ellipse cx="518.0" cy="498.0" rx="1.5" ry="4.6" transform="rotate(-12 518.0 498.0)"/><ellipse cx="518.0" cy="508.0" rx="1.5" ry="4.6" transform="rotate(-12 518.0 508.0)"/><ellipse cx="518.0" cy="518.0" rx="1.5" ry="4.6" transform="rotate(-12 518.0 518.0)"/><ellipse cx="518.0" cy="528.0" rx="1.5" ry="4.6" transform="rotate(-12 518.0 528.0)"/><ellipse cx="518.0" cy="538.0" rx="1.5" ry="4.6" transform="rotate(-12 518.0 538.0)"/><ellipse cx="518.0" cy="548.0" rx="1.5" ry="4.6" transform="rotate(-12 518.0 548.0)"/><ellipse cx="518.0" cy="558.0" rx="1.5" ry="4.6" transform="rotate(-12 518.0 558.0)"/><ellipse cx="518.0" cy="568.0" rx="1.5" ry="4.6" transform="rotate(-12 518.0 568.0)"/><ellipse cx="518.0" cy="578.0" rx="1.5" ry="4.6" transform="rotate(-12 518.0 578.0)"/><ellipse cx="518.0" cy="588.0" rx="1.5" ry="4.6" transform="rotate(-12 518.0 588.0)"/><ellipse cx="518.0" cy="598.0" rx="1.5" ry="4.6" transform="rotate(-12 518.0 598.0)"/><ellipse cx="518.0" cy="608.0" rx="1.5" ry="4.6" transform="rotate(-12 518.0 608.0)"/><ellipse cx="523.0" cy="293.0" rx="1.5" ry="4.6" transform="rotate(-12 523.0 293.0)"/><ellipse cx="523.0" cy="303.0" rx="1.5" ry="4.6" transform="rotate(-12 523.0 303.0)"/><ellipse cx="523.0" cy="313.0" rx="1.5" ry="4.6" transform="rotate(-12 523.0 313.0)"/><ellipse cx="523.0" cy="323.0" rx="1.5" ry="4.6" transform="rotate(-12 523.0 323.0)"/><ellipse cx="523.0" cy="333.0" rx="1.5" ry="4.6" transform="rotate(-12 523.0 333.0)"/><ellipse cx="523.0" cy="343.0" rx="1.5" ry="4.6" transform="rotate(-12 523.0 343.0)"/><ellipse cx="523.0" cy="353.0" rx="1.5" ry="4.6" transform="rotate(-12 523.0 353.0)"/><ellipse cx="523.0" cy="363.0" rx="1.5" ry="4.6" transform="rotate(-12 523.0 363.0)"/><ellipse cx="523.0" cy="373.0" rx="1.5" ry="4.6" transform="rotate(-12 523.0 373.0)"/><ellipse cx="523.0" cy="383.0" rx="1.5" ry="4.6" transform="rotate(-12 523.0 383.0)"/><ellipse cx="523.0" cy="393.0" rx="1.5" ry="4.6" transform="rotate(-12 523.0 393.0)"/><ellipse cx="523.0" cy="403.0" rx="1.5" ry="4.6" transform="rotate(-12 523.0 403.0)"/><ellipse cx="523.0" cy="413.0" rx="1.5" ry="4.6" transform="rotate(-12 523.0 413.0)"/><ellipse cx="523.0" cy="423.0" rx="1.5" ry="4.6" transform="rotate(-12 523.0 423.0)"/><ellipse cx="523.0" cy="433.0" rx="1.5" ry="4.6" transform="rotate(-12 523.0 433.0)"/><ellipse cx="523.0" cy="443.0" rx="1.5" ry="4.6" transform="rotate(-12 523.0 443.0)"/><ellipse cx="523.0" cy="453.0" rx="1.5" ry="4.6" transform="rotate(-12 523.0 453.0)"/><ellipse cx="523.0" cy="463.0" rx="1.5" ry="4.6" transform="rotate(-12 523.0 463.0)"/><ellipse cx="523.0" cy="473.0" rx="1.5" ry="4.6" transform="rotate(-12 523.0 473.0)"/><ellipse cx="523.0" cy="483.0" rx="1.5" ry="4.6" transform="rotate(-12 523.0 483.0)"/><ellipse cx="523.0" cy="493.0" rx="1.5" ry="4.6" transform="rotate(-12 523.0 493.0)"/><ellipse cx="523.0" cy="503.0" rx="1.5" ry="4.6" transform="rotate(-12 523.0 503.0)"/><ellipse cx="523.0" cy="513.0" rx="1.5" ry="4.6" transform="rotate(-12 523.0 513.0)"/><ellipse cx="523.0" cy="523.0" rx="1.5" ry="4.6" transform="rotate(-12 523.0 523.0)"/><ellipse cx="523.0" cy="533.0" rx="1.5" ry="4.6" transform="rotate(-12 523.0 533.0)"/><ellipse cx="523.0" cy="543.0" rx="1.5" ry="4.6" transform="rotate(-12 523.0 543.0)"/><ellipse cx="523.0" cy="553.0" rx="1.5" ry="4.6" transform="rotate(-12 523.0 553.0)"/><ellipse cx="523.0" cy="563.0" rx="1.5" ry="4.6" transform="rotate(-12 523.0 563.0)"/><ellipse cx="523.0" cy="573.0" rx="1.5" ry="4.6" transform="rotate(-12 523.0 573.0)"/><ellipse cx="523.0" cy="583.0" rx="1.5" ry="4.6" transform="rotate(-12 523.0 583.0)"/><ellipse cx="523.0" cy="593.0" rx="1.5" ry="4.6" transform="rotate(-12 523.0 593.0)"/><ellipse cx="523.0" cy="603.0" rx="1.5" ry="4.6" transform="rotate(-12 523.0 603.0)"/><ellipse cx="523.0" cy="613.0" rx="1.5" ry="4.6" transform="rotate(-12 523.0 613.0)"/><ellipse cx="528.0" cy="288.0" rx="1.5" ry="4.6" transform="rotate(-12 528.0 288.0)"/><ellipse cx="528.0" cy="298.0" rx="1.5" ry="4.6" transform="rotate(-12 528.0 298.0)"/><ellipse cx="528.0" cy="308.0" rx="1.5" ry="4.6" transform="rotate(-12 528.0 308.0)"/><ellipse cx="528.0" cy="318.0" rx="1.5" ry="4.6" transform="rotate(-12 528.0 318.0)"/><ellipse cx="528.0" cy="328.0" rx="1.5" ry="4.6" transform="rotate(-12 528.0 328.0)"/><ellipse cx="528.0" cy="338.0" rx="1.5" ry="4.6" transform="rotate(-12 528.0 338.0)"/><ellipse cx="528.0" cy="348.0" rx="1.5" ry="4.6" transform="rotate(-12 528.0 348.0)"/><ellipse cx="528.0" cy="358.0" rx="1.5" ry="4.6" transform="rotate(-12 528.0 358.0)"/><ellipse cx="528.0" cy="368.0" rx="1.5" ry="4.6" transform="rotate(-12 528.0 368.0)"/><ellipse cx="528.0" cy="378.0" rx="1.5" ry="4.6" transform="rotate(-12 528.0 378.0)"/><ellipse cx="528.0" cy="388.0" rx="1.5" ry="4.6" transform="rotate(-12 528.0 388.0)"/><ellipse cx="528.0" cy="398.0" rx="1.5" ry="4.6" transform="rotate(-12 528.0 398.0)"/><ellipse cx="528.0" cy="408.0" rx="1.5" ry="4.6" transform="rotate(-12 528.0 408.0)"/><ellipse cx="528.0" cy="418.0" rx="1.5" ry="4.6" transform="rotate(-12 528.0 418.0)"/><ellipse cx="528.0" cy="428.0" rx="1.5" ry="4.6" transform="rotate(-12 528.0 428.0)"/><ellipse cx="528.0" cy="438.0" rx="1.5" ry="4.6" transform="rotate(-12 528.0 438.0)"/><ellipse cx="528.0" cy="448.0" rx="1.5" ry="4.6" transform="rotate(-12 528.0 448.0)"/><ellipse cx="528.0" cy="458.0" rx="1.5" ry="4.6" transform="rotate(-12 528.0 458.0)"/><ellipse cx="528.0" cy="468.0" rx="1.5" ry="4.6" transform="rotate(-12 528.0 468.0)"/><ellipse cx="528.0" cy="478.0" rx="1.5" ry="4.6" transform="rotate(-12 528.0 478.0)"/><ellipse cx="528.0" cy="488.0" rx="1.5" ry="4.6" transform="rotate(-12 528.0 488.0)"/><ellipse cx="528.0" cy="498.0" rx="1.5" ry="4.6" transform="rotate(-12 528.0 498.0)"/><ellipse cx="528.0" cy="508.0" rx="1.5" ry="4.6" transform="rotate(-12 528.0 508.0)"/><ellipse cx="528.0" cy="518.0" rx="1.5" ry="4.6" transform="rotate(-12 528.0 518.0)"/><ellipse cx="528.0" cy="528.0" rx="1.5" ry="4.6" transform="rotate(-12 528.0 528.0)"/><ellipse cx="528.0" cy="538.0" rx="1.5" ry="4.6" transform="rotate(-12 528.0 538.0)"/><ellipse cx="528.0" cy="548.0" rx="1.5" ry="4.6" transform="rotate(-12 528.0 548.0)"/><ellipse cx="528.0" cy="558.0" rx="1.5" ry="4.6" transform="rotate(-12 528.0 558.0)"/><ellipse cx="528.0" cy="568.0" rx="1.5" ry="4.6" transform="rotate(-12 528.0 568.0)"/><ellipse cx="528.0" cy="578.0" rx="1.5" ry="4.6" transform="rotate(-12 528.0 578.0)"/><ellipse cx="528.0" cy="588.0" rx="1.5" ry="4.6" transform="rotate(-12 528.0 588.0)"/><ellipse cx="528.0" cy="598.0" rx="1.5" ry="4.6" transform="rotate(-12 528.0 598.0)"/><ellipse cx="528.0" cy="608.0" rx="1.5" ry="4.6" transform="rotate(-12 528.0 608.0)"/><ellipse cx="533.0" cy="293.0" rx="1.5" ry="4.6" transform="rotate(-12 533.0 293.0)"/><ellipse cx="533.0" cy="303.0" rx="1.5" ry="4.6" transform="rotate(-12 533.0 303.0)"/><ellipse cx="533.0" cy="313.0" rx="1.5" ry="4.6" transform="rotate(-12 533.0 313.0)"/><ellipse cx="533.0" cy="323.0" rx="1.5" ry="4.6" transform="rotate(-12 533.0 323.0)"/><ellipse cx="533.0" cy="333.0" rx="1.5" ry="4.6" transform="rotate(-12 533.0 333.0)"/><ellipse cx="533.0" cy="343.0" rx="1.5" ry="4.6" transform="rotate(-12 533.0 343.0)"/><ellipse cx="533.0" cy="353.0" rx="1.5" ry="4.6" transform="rotate(-12 533.0 353.0)"/><ellipse cx="533.0" cy="363.0" rx="1.5" ry="4.6" transform="rotate(-12 533.0 363.0)"/><ellipse cx="533.0" cy="373.0" rx="1.5" ry="4.6" transform="rotate(-12 533.0 373.0)"/><ellipse cx="533.0" cy="383.0" rx="1.5" ry="4.6" transform="rotate(-12 533.0 383.0)"/><ellipse cx="533.0" cy="393.0" rx="1.5" ry="4.6" transform="rotate(-12 533.0 393.0)"/><ellipse cx="533.0" cy="403.0" rx="1.5" ry="4.6" transform="rotate(-12 533.0 403.0)"/><ellipse cx="533.0" cy="413.0" rx="1.5" ry="4.6" transform="rotate(-12 533.0 413.0)"/><ellipse cx="533.0" cy="423.0" rx="1.5" ry="4.6" transform="rotate(-12 533.0 423.0)"/><ellipse cx="533.0" cy="433.0" rx="1.5" ry="4.6" transform="rotate(-12 533.0 433.0)"/><ellipse cx="533.0" cy="443.0" rx="1.5" ry="4.6" transform="rotate(-12 533.0 443.0)"/><ellipse cx="533.0" cy="453.0" rx="1.5" ry="4.6" transform="rotate(-12 533.0 453.0)"/><ellipse cx="533.0" cy="463.0" rx="1.5" ry="4.6" transform="rotate(-12 533.0 463.0)"/><ellipse cx="533.0" cy="473.0" rx="1.5" ry="4.6" transform="rotate(-12 533.0 473.0)"/><ellipse cx="533.0" cy="483.0" rx="1.5" ry="4.6" transform="rotate(-12 533.0 483.0)"/><ellipse cx="533.0" cy="493.0" rx="1.5" ry="4.6" transform="rotate(-12 533.0 493.0)"/><ellipse cx="533.0" cy="503.0" rx="1.5" ry="4.6" transform="rotate(-12 533.0 503.0)"/><ellipse cx="533.0" cy="513.0" rx="1.5" ry="4.6" transform="rotate(-12 533.0 513.0)"/><ellipse cx="533.0" cy="523.0" rx="1.5" ry="4.6" transform="rotate(-12 533.0 523.0)"/><ellipse cx="533.0" cy="533.0" rx="1.5" ry="4.6" transform="rotate(-12 533.0 533.0)"/><ellipse cx="533.0" cy="543.0" rx="1.5" ry="4.6" transform="rotate(-12 533.0 543.0)"/><ellipse cx="533.0" cy="553.0" rx="1.5" ry="4.6" transform="rotate(-12 533.0 553.0)"/><ellipse cx="533.0" cy="563.0" rx="1.5" ry="4.6" transform="rotate(-12 533.0 563.0)"/><ellipse cx="533.0" cy="573.0" rx="1.5" ry="4.6" transform="rotate(-12 533.0 573.0)"/><ellipse cx="533.0" cy="583.0" rx="1.5" ry="4.6" transform="rotate(-12 533.0 583.0)"/><ellipse cx="533.0" cy="593.0" rx="1.5" ry="4.6" transform="rotate(-12 533.0 593.0)"/><ellipse cx="533.0" cy="603.0" rx="1.5" ry="4.6" transform="rotate(-12 533.0 603.0)"/><ellipse cx="533.0" cy="613.0" rx="1.5" ry="4.6" transform="rotate(-12 533.0 613.0)"/><ellipse cx="538.0" cy="288.0" rx="1.5" ry="4.6" transform="rotate(-12 538.0 288.0)"/><ellipse cx="538.0" cy="298.0" rx="1.5" ry="4.6" transform="rotate(-12 538.0 298.0)"/><ellipse cx="538.0" cy="308.0" rx="1.5" ry="4.6" transform="rotate(-12 538.0 308.0)"/><ellipse cx="538.0" cy="318.0" rx="1.5" ry="4.6" transform="rotate(-12 538.0 318.0)"/><ellipse cx="538.0" cy="328.0" rx="1.5" ry="4.6" transform="rotate(-12 538.0 328.0)"/><ellipse cx="538.0" cy="338.0" rx="1.5" ry="4.6" transform="rotate(-12 538.0 338.0)"/><ellipse cx="538.0" cy="348.0" rx="1.5" ry="4.6" transform="rotate(-12 538.0 348.0)"/><ellipse cx="538.0" cy="358.0" rx="1.5" ry="4.6" transform="rotate(-12 538.0 358.0)"/><ellipse cx="538.0" cy="368.0" rx="1.5" ry="4.6" transform="rotate(-12 538.0 368.0)"/><ellipse cx="538.0" cy="378.0" rx="1.5" ry="4.6" transform="rotate(-12 538.0 378.0)"/><ellipse cx="538.0" cy="388.0" rx="1.5" ry="4.6" transform="rotate(-12 538.0 388.0)"/><ellipse cx="538.0" cy="398.0" rx="1.5" ry="4.6" transform="rotate(-12 538.0 398.0)"/><ellipse cx="538.0" cy="408.0" rx="1.5" ry="4.6" transform="rotate(-12 538.0 408.0)"/><ellipse cx="538.0" cy="418.0" rx="1.5" ry="4.6" transform="rotate(-12 538.0 418.0)"/><ellipse cx="538.0" cy="428.0" rx="1.5" ry="4.6" transform="rotate(-12 538.0 428.0)"/><ellipse cx="538.0" cy="438.0" rx="1.5" ry="4.6" transform="rotate(-12 538.0 438.0)"/><ellipse cx="538.0" cy="448.0" rx="1.5" ry="4.6" transform="rotate(-12 538.0 448.0)"/><ellipse cx="538.0" cy="458.0" rx="1.5" ry="4.6" transform="rotate(-12 538.0 458.0)"/><ellipse cx="538.0" cy="468.0" rx="1.5" ry="4.6" transform="rotate(-12 538.0 468.0)"/><ellipse cx="538.0" cy="478.0" rx="1.5" ry="4.6" transform="rotate(-12 538.0 478.0)"/><ellipse cx="538.0" cy="488.0" rx="1.5" ry="4.6" transform="rotate(-12 538.0 488.0)"/><ellipse cx="538.0" cy="498.0" rx="1.5" ry="4.6" transform="rotate(-12 538.0 498.0)"/><ellipse cx="538.0" cy="508.0" rx="1.5" ry="4.6" transform="rotate(-12 538.0 508.0)"/><ellipse cx="538.0" cy="518.0" rx="1.5" ry="4.6" transform="rotate(-12 538.0 518.0)"/><ellipse cx="538.0" cy="528.0" rx="1.5" ry="4.6" transform="rotate(-12 538.0 528.0)"/><ellipse cx="538.0" cy="538.0" rx="1.5" ry="4.6" transform="rotate(-12 538.0 538.0)"/><ellipse cx="538.0" cy="548.0" rx="1.5" ry="4.6" transform="rotate(-12 538.0 548.0)"/><ellipse cx="538.0" cy="558.0" rx="1.5" ry="4.6" transform="rotate(-12 538.0 558.0)"/><ellipse cx="538.0" cy="568.0" rx="1.5" ry="4.6" transform="rotate(-12 538.0 568.0)"/><ellipse cx="538.0" cy="578.0" rx="1.5" ry="4.6" transform="rotate(-12 538.0 578.0)"/><ellipse cx="538.0" cy="588.0" rx="1.5" ry="4.6" transform="rotate(-12 538.0 588.0)"/><ellipse cx="538.0" cy="598.0" rx="1.5" ry="4.6" transform="rotate(-12 538.0 598.0)"/><ellipse cx="538.0" cy="608.0" rx="1.5" ry="4.6" transform="rotate(-12 538.0 608.0)"/><ellipse cx="543.0" cy="293.0" rx="1.5" ry="4.6" transform="rotate(-12 543.0 293.0)"/><ellipse cx="543.0" cy="303.0" rx="1.5" ry="4.6" transform="rotate(-12 543.0 303.0)"/><ellipse cx="543.0" cy="313.0" rx="1.5" ry="4.6" transform="rotate(-12 543.0 313.0)"/><ellipse cx="543.0" cy="323.0" rx="1.5" ry="4.6" transform="rotate(-12 543.0 323.0)"/><ellipse cx="543.0" cy="333.0" rx="1.5" ry="4.6" transform="rotate(-12 543.0 333.0)"/><ellipse cx="543.0" cy="343.0" rx="1.5" ry="4.6" transform="rotate(-12 543.0 343.0)"/><ellipse cx="543.0" cy="353.0" rx="1.5" ry="4.6" transform="rotate(-12 543.0 353.0)"/><ellipse cx="543.0" cy="363.0" rx="1.5" ry="4.6" transform="rotate(-12 543.0 363.0)"/><ellipse cx="543.0" cy="373.0" rx="1.5" ry="4.6" transform="rotate(-12 543.0 373.0)"/><ellipse cx="543.0" cy="383.0" rx="1.5" ry="4.6" transform="rotate(-12 543.0 383.0)"/><ellipse cx="543.0" cy="393.0" rx="1.5" ry="4.6" transform="rotate(-12 543.0 393.0)"/><ellipse cx="543.0" cy="403.0" rx="1.5" ry="4.6" transform="rotate(-12 543.0 403.0)"/><ellipse cx="543.0" cy="413.0" rx="1.5" ry="4.6" transform="rotate(-12 543.0 413.0)"/><ellipse cx="543.0" cy="423.0" rx="1.5" ry="4.6" transform="rotate(-12 543.0 423.0)"/><ellipse cx="543.0" cy="433.0" rx="1.5" ry="4.6" transform="rotate(-12 543.0 433.0)"/><ellipse cx="543.0" cy="443.0" rx="1.5" ry="4.6" transform="rotate(-12 543.0 443.0)"/><ellipse cx="543.0" cy="453.0" rx="1.5" ry="4.6" transform="rotate(-12 543.0 453.0)"/><ellipse cx="543.0" cy="463.0" rx="1.5" ry="4.6" transform="rotate(-12 543.0 463.0)"/><ellipse cx="543.0" cy="473.0" rx="1.5" ry="4.6" transform="rotate(-12 543.0 473.0)"/><ellipse cx="543.0" cy="483.0" rx="1.5" ry="4.6" transform="rotate(-12 543.0 483.0)"/><ellipse cx="543.0" cy="493.0" rx="1.5" ry="4.6" transform="rotate(-12 543.0 493.0)"/><ellipse cx="543.0" cy="503.0" rx="1.5" ry="4.6" transform="rotate(-12 543.0 503.0)"/><ellipse cx="543.0" cy="513.0" rx="1.5" ry="4.6" transform="rotate(-12 543.0 513.0)"/><ellipse cx="543.0" cy="523.0" rx="1.5" ry="4.6" transform="rotate(-12 543.0 523.0)"/><ellipse cx="543.0" cy="533.0" rx="1.5" ry="4.6" transform="rotate(-12 543.0 533.0)"/><ellipse cx="543.0" cy="543.0" rx="1.5" ry="4.6" transform="rotate(-12 543.0 543.0)"/><ellipse cx="543.0" cy="553.0" rx="1.5" ry="4.6" transform="rotate(-12 543.0 553.0)"/><ellipse cx="543.0" cy="563.0" rx="1.5" ry="4.6" transform="rotate(-12 543.0 563.0)"/><ellipse cx="543.0" cy="573.0" rx="1.5" ry="4.6" transform="rotate(-12 543.0 573.0)"/><ellipse cx="543.0" cy="583.0" rx="1.5" ry="4.6" transform="rotate(-12 543.0 583.0)"/><ellipse cx="543.0" cy="593.0" rx="1.5" ry="4.6" transform="rotate(-12 543.0 593.0)"/><ellipse cx="543.0" cy="603.0" rx="1.5" ry="4.6" transform="rotate(-12 543.0 603.0)"/><ellipse cx="543.0" cy="613.0" rx="1.5" ry="4.6" transform="rotate(-12 543.0 613.0)"/><ellipse cx="548.0" cy="288.0" rx="1.5" ry="4.6" transform="rotate(-12 548.0 288.0)"/><ellipse cx="548.0" cy="298.0" rx="1.5" ry="4.6" transform="rotate(-12 548.0 298.0)"/><ellipse cx="548.0" cy="308.0" rx="1.5" ry="4.6" transform="rotate(-12 548.0 308.0)"/><ellipse cx="548.0" cy="318.0" rx="1.5" ry="4.6" transform="rotate(-12 548.0 318.0)"/><ellipse cx="548.0" cy="328.0" rx="1.5" ry="4.6" transform="rotate(-12 548.0 328.0)"/><ellipse cx="548.0" cy="338.0" rx="1.5" ry="4.6" transform="rotate(-12 548.0 338.0)"/><ellipse cx="548.0" cy="348.0" rx="1.5" ry="4.6" transform="rotate(-12 548.0 348.0)"/><ellipse cx="548.0" cy="358.0" rx="1.5" ry="4.6" transform="rotate(-12 548.0 358.0)"/><ellipse cx="548.0" cy="368.0" rx="1.5" ry="4.6" transform="rotate(-12 548.0 368.0)"/><ellipse cx="548.0" cy="378.0" rx="1.5" ry="4.6" transform="rotate(-12 548.0 378.0)"/><ellipse cx="548.0" cy="388.0" rx="1.5" ry="4.6" transform="rotate(-12 548.0 388.0)"/><ellipse cx="548.0" cy="398.0" rx="1.5" ry="4.6" transform="rotate(-12 548.0 398.0)"/><ellipse cx="548.0" cy="408.0" rx="1.5" ry="4.6" transform="rotate(-12 548.0 408.0)"/><ellipse cx="548.0" cy="418.0" rx="1.5" ry="4.6" transform="rotate(-12 548.0 418.0)"/><ellipse cx="548.0" cy="428.0" rx="1.5" ry="4.6" transform="rotate(-12 548.0 428.0)"/><ellipse cx="548.0" cy="438.0" rx="1.5" ry="4.6" transform="rotate(-12 548.0 438.0)"/><ellipse cx="548.0" cy="448.0" rx="1.5" ry="4.6" transform="rotate(-12 548.0 448.0)"/><ellipse cx="548.0" cy="458.0" rx="1.5" ry="4.6" transform="rotate(-12 548.0 458.0)"/><ellipse cx="548.0" cy="468.0" rx="1.5" ry="4.6" transform="rotate(-12 548.0 468.0)"/><ellipse cx="548.0" cy="478.0" rx="1.5" ry="4.6" transform="rotate(-12 548.0 478.0)"/><ellipse cx="548.0" cy="488.0" rx="1.5" ry="4.6" transform="rotate(-12 548.0 488.0)"/><ellipse cx="548.0" cy="498.0" rx="1.5" ry="4.6" transform="rotate(-12 548.0 498.0)"/><ellipse cx="548.0" cy="508.0" rx="1.5" ry="4.6" transform="rotate(-12 548.0 508.0)"/><ellipse cx="548.0" cy="518.0" rx="1.5" ry="4.6" transform="rotate(-12 548.0 518.0)"/><ellipse cx="548.0" cy="528.0" rx="1.5" ry="4.6" transform="rotate(-12 548.0 528.0)"/><ellipse cx="548.0" cy="538.0" rx="1.5" ry="4.6" transform="rotate(-12 548.0 538.0)"/><ellipse cx="548.0" cy="548.0" rx="1.5" ry="4.6" transform="rotate(-12 548.0 548.0)"/><ellipse cx="548.0" cy="558.0" rx="1.5" ry="4.6" transform="rotate(-12 548.0 558.0)"/><ellipse cx="548.0" cy="568.0" rx="1.5" ry="4.6" transform="rotate(-12 548.0 568.0)"/><ellipse cx="548.0" cy="578.0" rx="1.5" ry="4.6" transform="rotate(-12 548.0 578.0)"/><ellipse cx="548.0" cy="588.0" rx="1.5" ry="4.6" transform="rotate(-12 548.0 588.0)"/><ellipse cx="548.0" cy="598.0" rx="1.5" ry="4.6" transform="rotate(-12 548.0 598.0)"/><ellipse cx="548.0" cy="608.0" rx="1.5" ry="4.6" transform="rotate(-12 548.0 608.0)"/><ellipse cx="553.0" cy="293.0" rx="1.5" ry="4.6" transform="rotate(-12 553.0 293.0)"/><ellipse cx="553.0" cy="303.0" rx="1.5" ry="4.6" transform="rotate(-12 553.0 303.0)"/><ellipse cx="553.0" cy="313.0" rx="1.5" ry="4.6" transform="rotate(-12 553.0 313.0)"/><ellipse cx="553.0" cy="323.0" rx="1.5" ry="4.6" transform="rotate(-12 553.0 323.0)"/><ellipse cx="553.0" cy="333.0" rx="1.5" ry="4.6" transform="rotate(-12 553.0 333.0)"/><ellipse cx="553.0" cy="343.0" rx="1.5" ry="4.6" transform="rotate(-12 553.0 343.0)"/><ellipse cx="553.0" cy="353.0" rx="1.5" ry="4.6" transform="rotate(-12 553.0 353.0)"/><ellipse cx="553.0" cy="363.0" rx="1.5" ry="4.6" transform="rotate(-12 553.0 363.0)"/><ellipse cx="553.0" cy="373.0" rx="1.5" ry="4.6" transform="rotate(-12 553.0 373.0)"/><ellipse cx="553.0" cy="383.0" rx="1.5" ry="4.6" transform="rotate(-12 553.0 383.0)"/><ellipse cx="553.0" cy="393.0" rx="1.5" ry="4.6" transform="rotate(-12 553.0 393.0)"/><ellipse cx="553.0" cy="403.0" rx="1.5" ry="4.6" transform="rotate(-12 553.0 403.0)"/><ellipse cx="553.0" cy="413.0" rx="1.5" ry="4.6" transform="rotate(-12 553.0 413.0)"/><ellipse cx="553.0" cy="423.0" rx="1.5" ry="4.6" transform="rotate(-12 553.0 423.0)"/><ellipse cx="553.0" cy="433.0" rx="1.5" ry="4.6" transform="rotate(-12 553.0 433.0)"/><ellipse cx="553.0" cy="443.0" rx="1.5" ry="4.6" transform="rotate(-12 553.0 443.0)"/><ellipse cx="553.0" cy="453.0" rx="1.5" ry="4.6" transform="rotate(-12 553.0 453.0)"/><ellipse cx="553.0" cy="463.0" rx="1.5" ry="4.6" transform="rotate(-12 553.0 463.0)"/><ellipse cx="553.0" cy="473.0" rx="1.5" ry="4.6" transform="rotate(-12 553.0 473.0)"/><ellipse cx="553.0" cy="483.0" rx="1.5" ry="4.6" transform="rotate(-12 553.0 483.0)"/><ellipse cx="553.0" cy="493.0" rx="1.5" ry="4.6" transform="rotate(-12 553.0 493.0)"/><ellipse cx="553.0" cy="503.0" rx="1.5" ry="4.6" transform="rotate(-12 553.0 503.0)"/><ellipse cx="553.0" cy="513.0" rx="1.5" ry="4.6" transform="rotate(-12 553.0 513.0)"/><ellipse cx="553.0" cy="523.0" rx="1.5" ry="4.6" transform="rotate(-12 553.0 523.0)"/><ellipse cx="553.0" cy="533.0" rx="1.5" ry="4.6" transform="rotate(-12 553.0 533.0)"/><ellipse cx="553.0" cy="543.0" rx="1.5" ry="4.6" transform="rotate(-12 553.0 543.0)"/><ellipse cx="553.0" cy="553.0" rx="1.5" ry="4.6" transform="rotate(-12 553.0 553.0)"/><ellipse cx="553.0" cy="563.0" rx="1.5" ry="4.6" transform="rotate(-12 553.0 563.0)"/><ellipse cx="553.0" cy="573.0" rx="1.5" ry="4.6" transform="rotate(-12 553.0 573.0)"/><ellipse cx="553.0" cy="583.0" rx="1.5" ry="4.6" transform="rotate(-12 553.0 583.0)"/><ellipse cx="553.0" cy="593.0" rx="1.5" ry="4.6" transform="rotate(-12 553.0 593.0)"/><ellipse cx="553.0" cy="603.0" rx="1.5" ry="4.6" transform="rotate(-12 553.0 603.0)"/><ellipse cx="553.0" cy="613.0" rx="1.5" ry="4.6" transform="rotate(-12 553.0 613.0)"/><ellipse cx="558.0" cy="288.0" rx="1.5" ry="4.6" transform="rotate(-12 558.0 288.0)"/><ellipse cx="558.0" cy="298.0" rx="1.5" ry="4.6" transform="rotate(-12 558.0 298.0)"/><ellipse cx="558.0" cy="308.0" rx="1.5" ry="4.6" transform="rotate(-12 558.0 308.0)"/><ellipse cx="558.0" cy="318.0" rx="1.5" ry="4.6" transform="rotate(-12 558.0 318.0)"/><ellipse cx="558.0" cy="328.0" rx="1.5" ry="4.6" transform="rotate(-12 558.0 328.0)"/><ellipse cx="558.0" cy="338.0" rx="1.5" ry="4.6" transform="rotate(-12 558.0 338.0)"/><ellipse cx="558.0" cy="348.0" rx="1.5" ry="4.6" transform="rotate(-12 558.0 348.0)"/><ellipse cx="558.0" cy="358.0" rx="1.5" ry="4.6" transform="rotate(-12 558.0 358.0)"/><ellipse cx="558.0" cy="368.0" rx="1.5" ry="4.6" transform="rotate(-12 558.0 368.0)"/><ellipse cx="558.0" cy="378.0" rx="1.5" ry="4.6" transform="rotate(-12 558.0 378.0)"/><ellipse cx="558.0" cy="388.0" rx="1.5" ry="4.6" transform="rotate(-12 558.0 388.0)"/><ellipse cx="558.0" cy="398.0" rx="1.5" ry="4.6" transform="rotate(-12 558.0 398.0)"/><ellipse cx="558.0" cy="408.0" rx="1.5" ry="4.6" transform="rotate(-12 558.0 408.0)"/><ellipse cx="558.0" cy="418.0" rx="1.5" ry="4.6" transform="rotate(-12 558.0 418.0)"/><ellipse cx="558.0" cy="428.0" rx="1.5" ry="4.6" transform="rotate(-12 558.0 428.0)"/><ellipse cx="558.0" cy="438.0" rx="1.5" ry="4.6" transform="rotate(-12 558.0 438.0)"/><ellipse cx="558.0" cy="448.0" rx="1.5" ry="4.6" transform="rotate(-12 558.0 448.0)"/><ellipse cx="558.0" cy="458.0" rx="1.5" ry="4.6" transform="rotate(-12 558.0 458.0)"/><ellipse cx="558.0" cy="468.0" rx="1.5" ry="4.6" transform="rotate(-12 558.0 468.0)"/><ellipse cx="558.0" cy="478.0" rx="1.5" ry="4.6" transform="rotate(-12 558.0 478.0)"/><ellipse cx="558.0" cy="488.0" rx="1.5" ry="4.6" transform="rotate(-12 558.0 488.0)"/><ellipse cx="558.0" cy="498.0" rx="1.5" ry="4.6" transform="rotate(-12 558.0 498.0)"/><ellipse cx="558.0" cy="508.0" rx="1.5" ry="4.6" transform="rotate(-12 558.0 508.0)"/><ellipse cx="558.0" cy="518.0" rx="1.5" ry="4.6" transform="rotate(-12 558.0 518.0)"/><ellipse cx="558.0" cy="528.0" rx="1.5" ry="4.6" transform="rotate(-12 558.0 528.0)"/><ellipse cx="558.0" cy="538.0" rx="1.5" ry="4.6" transform="rotate(-12 558.0 538.0)"/><ellipse cx="558.0" cy="548.0" rx="1.5" ry="4.6" transform="rotate(-12 558.0 548.0)"/><ellipse cx="558.0" cy="558.0" rx="1.5" ry="4.6" transform="rotate(-12 558.0 558.0)"/><ellipse cx="558.0" cy="568.0" rx="1.5" ry="4.6" transform="rotate(-12 558.0 568.0)"/><ellipse cx="558.0" cy="578.0" rx="1.5" ry="4.6" transform="rotate(-12 558.0 578.0)"/><ellipse cx="558.0" cy="588.0" rx="1.5" ry="4.6" transform="rotate(-12 558.0 588.0)"/><ellipse cx="558.0" cy="598.0" rx="1.5" ry="4.6" transform="rotate(-12 558.0 598.0)"/><ellipse cx="558.0" cy="608.0" rx="1.5" ry="4.6" transform="rotate(-12 558.0 608.0)"/><ellipse cx="563.0" cy="293.0" rx="1.5" ry="4.6" transform="rotate(-12 563.0 293.0)"/><ellipse cx="563.0" cy="303.0" rx="1.5" ry="4.6" transform="rotate(-12 563.0 303.0)"/><ellipse cx="563.0" cy="313.0" rx="1.5" ry="4.6" transform="rotate(-12 563.0 313.0)"/><ellipse cx="563.0" cy="323.0" rx="1.5" ry="4.6" transform="rotate(-12 563.0 323.0)"/><ellipse cx="563.0" cy="333.0" rx="1.5" ry="4.6" transform="rotate(-12 563.0 333.0)"/><ellipse cx="563.0" cy="343.0" rx="1.5" ry="4.6" transform="rotate(-12 563.0 343.0)"/><ellipse cx="563.0" cy="353.0" rx="1.5" ry="4.6" transform="rotate(-12 563.0 353.0)"/><ellipse cx="563.0" cy="363.0" rx="1.5" ry="4.6" transform="rotate(-12 563.0 363.0)"/><ellipse cx="563.0" cy="373.0" rx="1.5" ry="4.6" transform="rotate(-12 563.0 373.0)"/><ellipse cx="563.0" cy="383.0" rx="1.5" ry="4.6" transform="rotate(-12 563.0 383.0)"/><ellipse cx="563.0" cy="393.0" rx="1.5" ry="4.6" transform="rotate(-12 563.0 393.0)"/><ellipse cx="563.0" cy="403.0" rx="1.5" ry="4.6" transform="rotate(-12 563.0 403.0)"/><ellipse cx="563.0" cy="413.0" rx="1.5" ry="4.6" transform="rotate(-12 563.0 413.0)"/><ellipse cx="563.0" cy="423.0" rx="1.5" ry="4.6" transform="rotate(-12 563.0 423.0)"/><ellipse cx="563.0" cy="433.0" rx="1.5" ry="4.6" transform="rotate(-12 563.0 433.0)"/><ellipse cx="563.0" cy="443.0" rx="1.5" ry="4.6" transform="rotate(-12 563.0 443.0)"/><ellipse cx="563.0" cy="453.0" rx="1.5" ry="4.6" transform="rotate(-12 563.0 453.0)"/><ellipse cx="563.0" cy="463.0" rx="1.5" ry="4.6" transform="rotate(-12 563.0 463.0)"/><ellipse cx="563.0" cy="473.0" rx="1.5" ry="4.6" transform="rotate(-12 563.0 473.0)"/><ellipse cx="563.0" cy="483.0" rx="1.5" ry="4.6" transform="rotate(-12 563.0 483.0)"/><ellipse cx="563.0" cy="493.0" rx="1.5" ry="4.6" transform="rotate(-12 563.0 493.0)"/><ellipse cx="563.0" cy="503.0" rx="1.5" ry="4.6" transform="rotate(-12 563.0 503.0)"/><ellipse cx="563.0" cy="513.0" rx="1.5" ry="4.6" transform="rotate(-12 563.0 513.0)"/><ellipse cx="563.0" cy="523.0" rx="1.5" ry="4.6" transform="rotate(-12 563.0 523.0)"/><ellipse cx="563.0" cy="533.0" rx="1.5" ry="4.6" transform="rotate(-12 563.0 533.0)"/><ellipse cx="563.0" cy="543.0" rx="1.5" ry="4.6" transform="rotate(-12 563.0 543.0)"/><ellipse cx="563.0" cy="553.0" rx="1.5" ry="4.6" transform="rotate(-12 563.0 553.0)"/><ellipse cx="563.0" cy="563.0" rx="1.5" ry="4.6" transform="rotate(-12 563.0 563.0)"/><ellipse cx="563.0" cy="573.0" rx="1.5" ry="4.6" transform="rotate(-12 563.0 573.0)"/><ellipse cx="563.0" cy="583.0" rx="1.5" ry="4.6" transform="rotate(-12 563.0 583.0)"/><ellipse cx="563.0" cy="593.0" rx="1.5" ry="4.6" transform="rotate(-12 563.0 593.0)"/><ellipse cx="563.0" cy="603.0" rx="1.5" ry="4.6" transform="rotate(-12 563.0 603.0)"/><ellipse cx="563.0" cy="613.0" rx="1.5" ry="4.6" transform="rotate(-12 563.0 613.0)"/><ellipse cx="568.0" cy="288.0" rx="1.5" ry="4.6" transform="rotate(-12 568.0 288.0)"/><ellipse cx="568.0" cy="298.0" rx="1.5" ry="4.6" transform="rotate(-12 568.0 298.0)"/><ellipse cx="568.0" cy="308.0" rx="1.5" ry="4.6" transform="rotate(-12 568.0 308.0)"/><ellipse cx="568.0" cy="318.0" rx="1.5" ry="4.6" transform="rotate(-12 568.0 318.0)"/><ellipse cx="568.0" cy="328.0" rx="1.5" ry="4.6" transform="rotate(-12 568.0 328.0)"/><ellipse cx="568.0" cy="338.0" rx="1.5" ry="4.6" transform="rotate(-12 568.0 338.0)"/><ellipse cx="568.0" cy="348.0" rx="1.5" ry="4.6" transform="rotate(-12 568.0 348.0)"/><ellipse cx="568.0" cy="358.0" rx="1.5" ry="4.6" transform="rotate(-12 568.0 358.0)"/><ellipse cx="568.0" cy="368.0" rx="1.5" ry="4.6" transform="rotate(-12 568.0 368.0)"/><ellipse cx="568.0" cy="378.0" rx="1.5" ry="4.6" transform="rotate(-12 568.0 378.0)"/><ellipse cx="568.0" cy="388.0" rx="1.5" ry="4.6" transform="rotate(-12 568.0 388.0)"/><ellipse cx="568.0" cy="398.0" rx="1.5" ry="4.6" transform="rotate(-12 568.0 398.0)"/><ellipse cx="568.0" cy="408.0" rx="1.5" ry="4.6" transform="rotate(-12 568.0 408.0)"/><ellipse cx="568.0" cy="418.0" rx="1.5" ry="4.6" transform="rotate(-12 568.0 418.0)"/><ellipse cx="568.0" cy="428.0" rx="1.5" ry="4.6" transform="rotate(-12 568.0 428.0)"/><ellipse cx="568.0" cy="438.0" rx="1.5" ry="4.6" transform="rotate(-12 568.0 438.0)"/><ellipse cx="568.0" cy="448.0" rx="1.5" ry="4.6" transform="rotate(-12 568.0 448.0)"/><ellipse cx="568.0" cy="458.0" rx="1.5" ry="4.6" transform="rotate(-12 568.0 458.0)"/><ellipse cx="568.0" cy="468.0" rx="1.5" ry="4.6" transform="rotate(-12 568.0 468.0)"/><ellipse cx="568.0" cy="478.0" rx="1.5" ry="4.6" transform="rotate(-12 568.0 478.0)"/><ellipse cx="568.0" cy="488.0" rx="1.5" ry="4.6" transform="rotate(-12 568.0 488.0)"/><ellipse cx="568.0" cy="498.0" rx="1.5" ry="4.6" transform="rotate(-12 568.0 498.0)"/><ellipse cx="568.0" cy="508.0" rx="1.5" ry="4.6" transform="rotate(-12 568.0 508.0)"/><ellipse cx="568.0" cy="518.0" rx="1.5" ry="4.6" transform="rotate(-12 568.0 518.0)"/><ellipse cx="568.0" cy="528.0" rx="1.5" ry="4.6" transform="rotate(-12 568.0 528.0)"/><ellipse cx="568.0" cy="538.0" rx="1.5" ry="4.6" transform="rotate(-12 568.0 538.0)"/><ellipse cx="568.0" cy="548.0" rx="1.5" ry="4.6" transform="rotate(-12 568.0 548.0)"/><ellipse cx="568.0" cy="558.0" rx="1.5" ry="4.6" transform="rotate(-12 568.0 558.0)"/><ellipse cx="568.0" cy="568.0" rx="1.5" ry="4.6" transform="rotate(-12 568.0 568.0)"/><ellipse cx="568.0" cy="578.0" rx="1.5" ry="4.6" transform="rotate(-12 568.0 578.0)"/><ellipse cx="568.0" cy="588.0" rx="1.5" ry="4.6" transform="rotate(-12 568.0 588.0)"/><ellipse cx="568.0" cy="598.0" rx="1.5" ry="4.6" transform="rotate(-12 568.0 598.0)"/><ellipse cx="568.0" cy="608.0" rx="1.5" ry="4.6" transform="rotate(-12 568.0 608.0)"/><ellipse cx="573.0" cy="293.0" rx="1.5" ry="4.6" transform="rotate(-12 573.0 293.0)"/><ellipse cx="573.0" cy="303.0" rx="1.5" ry="4.6" transform="rotate(-12 573.0 303.0)"/><ellipse cx="573.0" cy="313.0" rx="1.5" ry="4.6" transform="rotate(-12 573.0 313.0)"/><ellipse cx="573.0" cy="323.0" rx="1.5" ry="4.6" transform="rotate(-12 573.0 323.0)"/><ellipse cx="573.0" cy="333.0" rx="1.5" ry="4.6" transform="rotate(-12 573.0 333.0)"/><ellipse cx="573.0" cy="343.0" rx="1.5" ry="4.6" transform="rotate(-12 573.0 343.0)"/><ellipse cx="573.0" cy="353.0" rx="1.5" ry="4.6" transform="rotate(-12 573.0 353.0)"/><ellipse cx="573.0" cy="363.0" rx="1.5" ry="4.6" transform="rotate(-12 573.0 363.0)"/><ellipse cx="573.0" cy="373.0" rx="1.5" ry="4.6" transform="rotate(-12 573.0 373.0)"/><ellipse cx="573.0" cy="383.0" rx="1.5" ry="4.6" transform="rotate(-12 573.0 383.0)"/><ellipse cx="573.0" cy="393.0" rx="1.5" ry="4.6" transform="rotate(-12 573.0 393.0)"/><ellipse cx="573.0" cy="403.0" rx="1.5" ry="4.6" transform="rotate(-12 573.0 403.0)"/><ellipse cx="573.0" cy="413.0" rx="1.5" ry="4.6" transform="rotate(-12 573.0 413.0)"/><ellipse cx="573.0" cy="423.0" rx="1.5" ry="4.6" transform="rotate(-12 573.0 423.0)"/><ellipse cx="573.0" cy="433.0" rx="1.5" ry="4.6" transform="rotate(-12 573.0 433.0)"/><ellipse cx="573.0" cy="443.0" rx="1.5" ry="4.6" transform="rotate(-12 573.0 443.0)"/><ellipse cx="573.0" cy="453.0" rx="1.5" ry="4.6" transform="rotate(-12 573.0 453.0)"/><ellipse cx="573.0" cy="463.0" rx="1.5" ry="4.6" transform="rotate(-12 573.0 463.0)"/><ellipse cx="573.0" cy="473.0" rx="1.5" ry="4.6" transform="rotate(-12 573.0 473.0)"/><ellipse cx="573.0" cy="483.0" rx="1.5" ry="4.6" transform="rotate(-12 573.0 483.0)"/><ellipse cx="573.0" cy="493.0" rx="1.5" ry="4.6" transform="rotate(-12 573.0 493.0)"/><ellipse cx="573.0" cy="503.0" rx="1.5" ry="4.6" transform="rotate(-12 573.0 503.0)"/><ellipse cx="573.0" cy="513.0" rx="1.5" ry="4.6" transform="rotate(-12 573.0 513.0)"/><ellipse cx="573.0" cy="523.0" rx="1.5" ry="4.6" transform="rotate(-12 573.0 523.0)"/><ellipse cx="573.0" cy="533.0" rx="1.5" ry="4.6" transform="rotate(-12 573.0 533.0)"/><ellipse cx="573.0" cy="543.0" rx="1.5" ry="4.6" transform="rotate(-12 573.0 543.0)"/><ellipse cx="573.0" cy="553.0" rx="1.5" ry="4.6" transform="rotate(-12 573.0 553.0)"/><ellipse cx="573.0" cy="563.0" rx="1.5" ry="4.6" transform="rotate(-12 573.0 563.0)"/><ellipse cx="573.0" cy="573.0" rx="1.5" ry="4.6" transform="rotate(-12 573.0 573.0)"/><ellipse cx="573.0" cy="583.0" rx="1.5" ry="4.6" transform="rotate(-12 573.0 583.0)"/><ellipse cx="573.0" cy="593.0" rx="1.5" ry="4.6" transform="rotate(-12 573.0 593.0)"/><ellipse cx="573.0" cy="603.0" rx="1.5" ry="4.6" transform="rotate(-12 573.0 603.0)"/><ellipse cx="573.0" cy="613.0" rx="1.5" ry="4.6" transform="rotate(-12 573.0 613.0)"/><ellipse cx="578.0" cy="288.0" rx="1.5" ry="4.6" transform="rotate(-12 578.0 288.0)"/><ellipse cx="578.0" cy="298.0" rx="1.5" ry="4.6" transform="rotate(-12 578.0 298.0)"/><ellipse cx="578.0" cy="308.0" rx="1.5" ry="4.6" transform="rotate(-12 578.0 308.0)"/><ellipse cx="578.0" cy="318.0" rx="1.5" ry="4.6" transform="rotate(-12 578.0 318.0)"/><ellipse cx="578.0" cy="328.0" rx="1.5" ry="4.6" transform="rotate(-12 578.0 328.0)"/><ellipse cx="578.0" cy="338.0" rx="1.5" ry="4.6" transform="rotate(-12 578.0 338.0)"/><ellipse cx="578.0" cy="348.0" rx="1.5" ry="4.6" transform="rotate(-12 578.0 348.0)"/><ellipse cx="578.0" cy="358.0" rx="1.5" ry="4.6" transform="rotate(-12 578.0 358.0)"/><ellipse cx="578.0" cy="368.0" rx="1.5" ry="4.6" transform="rotate(-12 578.0 368.0)"/><ellipse cx="578.0" cy="378.0" rx="1.5" ry="4.6" transform="rotate(-12 578.0 378.0)"/><ellipse cx="578.0" cy="388.0" rx="1.5" ry="4.6" transform="rotate(-12 578.0 388.0)"/><ellipse cx="578.0" cy="398.0" rx="1.5" ry="4.6" transform="rotate(-12 578.0 398.0)"/><ellipse cx="578.0" cy="408.0" rx="1.5" ry="4.6" transform="rotate(-12 578.0 408.0)"/><ellipse cx="578.0" cy="418.0" rx="1.5" ry="4.6" transform="rotate(-12 578.0 418.0)"/><ellipse cx="578.0" cy="428.0" rx="1.5" ry="4.6" transform="rotate(-12 578.0 428.0)"/><ellipse cx="578.0" cy="438.0" rx="1.5" ry="4.6" transform="rotate(-12 578.0 438.0)"/><ellipse cx="578.0" cy="448.0" rx="1.5" ry="4.6" transform="rotate(-12 578.0 448.0)"/><ellipse cx="578.0" cy="458.0" rx="1.5" ry="4.6" transform="rotate(-12 578.0 458.0)"/><ellipse cx="578.0" cy="468.0" rx="1.5" ry="4.6" transform="rotate(-12 578.0 468.0)"/><ellipse cx="578.0" cy="478.0" rx="1.5" ry="4.6" transform="rotate(-12 578.0 478.0)"/><ellipse cx="578.0" cy="488.0" rx="1.5" ry="4.6" transform="rotate(-12 578.0 488.0)"/><ellipse cx="578.0" cy="498.0" rx="1.5" ry="4.6" transform="rotate(-12 578.0 498.0)"/><ellipse cx="578.0" cy="508.0" rx="1.5" ry="4.6" transform="rotate(-12 578.0 508.0)"/><ellipse cx="578.0" cy="518.0" rx="1.5" ry="4.6" transform="rotate(-12 578.0 518.0)"/><ellipse cx="578.0" cy="528.0" rx="1.5" ry="4.6" transform="rotate(-12 578.0 528.0)"/><ellipse cx="578.0" cy="538.0" rx="1.5" ry="4.6" transform="rotate(-12 578.0 538.0)"/><ellipse cx="578.0" cy="548.0" rx="1.5" ry="4.6" transform="rotate(-12 578.0 548.0)"/><ellipse cx="578.0" cy="558.0" rx="1.5" ry="4.6" transform="rotate(-12 578.0 558.0)"/><ellipse cx="578.0" cy="568.0" rx="1.5" ry="4.6" transform="rotate(-12 578.0 568.0)"/><ellipse cx="578.0" cy="578.0" rx="1.5" ry="4.6" transform="rotate(-12 578.0 578.0)"/><ellipse cx="578.0" cy="588.0" rx="1.5" ry="4.6" transform="rotate(-12 578.0 588.0)"/><ellipse cx="578.0" cy="598.0" rx="1.5" ry="4.6" transform="rotate(-12 578.0 598.0)"/><ellipse cx="578.0" cy="608.0" rx="1.5" ry="4.6" transform="rotate(-12 578.0 608.0)"/><ellipse cx="583.0" cy="293.0" rx="1.5" ry="4.6" transform="rotate(-12 583.0 293.0)"/><ellipse cx="583.0" cy="303.0" rx="1.5" ry="4.6" transform="rotate(-12 583.0 303.0)"/><ellipse cx="583.0" cy="313.0" rx="1.5" ry="4.6" transform="rotate(-12 583.0 313.0)"/><ellipse cx="583.0" cy="323.0" rx="1.5" ry="4.6" transform="rotate(-12 583.0 323.0)"/><ellipse cx="583.0" cy="333.0" rx="1.5" ry="4.6" transform="rotate(-12 583.0 333.0)"/><ellipse cx="583.0" cy="343.0" rx="1.5" ry="4.6" transform="rotate(-12 583.0 343.0)"/><ellipse cx="583.0" cy="353.0" rx="1.5" ry="4.6" transform="rotate(-12 583.0 353.0)"/><ellipse cx="583.0" cy="363.0" rx="1.5" ry="4.6" transform="rotate(-12 583.0 363.0)"/><ellipse cx="583.0" cy="373.0" rx="1.5" ry="4.6" transform="rotate(-12 583.0 373.0)"/><ellipse cx="583.0" cy="383.0" rx="1.5" ry="4.6" transform="rotate(-12 583.0 383.0)"/><ellipse cx="583.0" cy="393.0" rx="1.5" ry="4.6" transform="rotate(-12 583.0 393.0)"/><ellipse cx="583.0" cy="403.0" rx="1.5" ry="4.6" transform="rotate(-12 583.0 403.0)"/><ellipse cx="583.0" cy="413.0" rx="1.5" ry="4.6" transform="rotate(-12 583.0 413.0)"/><ellipse cx="583.0" cy="423.0" rx="1.5" ry="4.6" transform="rotate(-12 583.0 423.0)"/><ellipse cx="583.0" cy="433.0" rx="1.5" ry="4.6" transform="rotate(-12 583.0 433.0)"/><ellipse cx="583.0" cy="443.0" rx="1.5" ry="4.6" transform="rotate(-12 583.0 443.0)"/><ellipse cx="583.0" cy="453.0" rx="1.5" ry="4.6" transform="rotate(-12 583.0 453.0)"/><ellipse cx="583.0" cy="463.0" rx="1.5" ry="4.6" transform="rotate(-12 583.0 463.0)"/><ellipse cx="583.0" cy="473.0" rx="1.5" ry="4.6" transform="rotate(-12 583.0 473.0)"/><ellipse cx="583.0" cy="483.0" rx="1.5" ry="4.6" transform="rotate(-12 583.0 483.0)"/><ellipse cx="583.0" cy="493.0" rx="1.5" ry="4.6" transform="rotate(-12 583.0 493.0)"/><ellipse cx="583.0" cy="503.0" rx="1.5" ry="4.6" transform="rotate(-12 583.0 503.0)"/><ellipse cx="583.0" cy="513.0" rx="1.5" ry="4.6" transform="rotate(-12 583.0 513.0)"/><ellipse cx="583.0" cy="523.0" rx="1.5" ry="4.6" transform="rotate(-12 583.0 523.0)"/><ellipse cx="583.0" cy="533.0" rx="1.5" ry="4.6" transform="rotate(-12 583.0 533.0)"/><ellipse cx="583.0" cy="543.0" rx="1.5" ry="4.6" transform="rotate(-12 583.0 543.0)"/><ellipse cx="583.0" cy="553.0" rx="1.5" ry="4.6" transform="rotate(-12 583.0 553.0)"/><ellipse cx="583.0" cy="563.0" rx="1.5" ry="4.6" transform="rotate(-12 583.0 563.0)"/><ellipse cx="583.0" cy="573.0" rx="1.5" ry="4.6" transform="rotate(-12 583.0 573.0)"/><ellipse cx="583.0" cy="583.0" rx="1.5" ry="4.6" transform="rotate(-12 583.0 583.0)"/><ellipse cx="583.0" cy="593.0" rx="1.5" ry="4.6" transform="rotate(-12 583.0 593.0)"/><ellipse cx="583.0" cy="603.0" rx="1.5" ry="4.6" transform="rotate(-12 583.0 603.0)"/><ellipse cx="583.0" cy="613.0" rx="1.5" ry="4.6" transform="rotate(-12 583.0 613.0)"/><ellipse cx="588.0" cy="288.0" rx="1.5" ry="4.6" transform="rotate(-12 588.0 288.0)"/><ellipse cx="588.0" cy="298.0" rx="1.5" ry="4.6" transform="rotate(-12 588.0 298.0)"/><ellipse cx="588.0" cy="308.0" rx="1.5" ry="4.6" transform="rotate(-12 588.0 308.0)"/><ellipse cx="588.0" cy="318.0" rx="1.5" ry="4.6" transform="rotate(-12 588.0 318.0)"/><ellipse cx="588.0" cy="328.0" rx="1.5" ry="4.6" transform="rotate(-12 588.0 328.0)"/><ellipse cx="588.0" cy="338.0" rx="1.5" ry="4.6" transform="rotate(-12 588.0 338.0)"/><ellipse cx="588.0" cy="348.0" rx="1.5" ry="4.6" transform="rotate(-12 588.0 348.0)"/><ellipse cx="588.0" cy="358.0" rx="1.5" ry="4.6" transform="rotate(-12 588.0 358.0)"/><ellipse cx="588.0" cy="368.0" rx="1.5" ry="4.6" transform="rotate(-12 588.0 368.0)"/><ellipse cx="588.0" cy="378.0" rx="1.5" ry="4.6" transform="rotate(-12 588.0 378.0)"/><ellipse cx="588.0" cy="388.0" rx="1.5" ry="4.6" transform="rotate(-12 588.0 388.0)"/><ellipse cx="588.0" cy="398.0" rx="1.5" ry="4.6" transform="rotate(-12 588.0 398.0)"/><ellipse cx="588.0" cy="408.0" rx="1.5" ry="4.6" transform="rotate(-12 588.0 408.0)"/><ellipse cx="588.0" cy="418.0" rx="1.5" ry="4.6" transform="rotate(-12 588.0 418.0)"/><ellipse cx="588.0" cy="428.0" rx="1.5" ry="4.6" transform="rotate(-12 588.0 428.0)"/><ellipse cx="588.0" cy="438.0" rx="1.5" ry="4.6" transform="rotate(-12 588.0 438.0)"/><ellipse cx="588.0" cy="448.0" rx="1.5" ry="4.6" transform="rotate(-12 588.0 448.0)"/><ellipse cx="588.0" cy="458.0" rx="1.5" ry="4.6" transform="rotate(-12 588.0 458.0)"/><ellipse cx="588.0" cy="468.0" rx="1.5" ry="4.6" transform="rotate(-12 588.0 468.0)"/><ellipse cx="588.0" cy="478.0" rx="1.5" ry="4.6" transform="rotate(-12 588.0 478.0)"/><ellipse cx="588.0" cy="488.0" rx="1.5" ry="4.6" transform="rotate(-12 588.0 488.0)"/><ellipse cx="588.0" cy="498.0" rx="1.5" ry="4.6" transform="rotate(-12 588.0 498.0)"/><ellipse cx="588.0" cy="508.0" rx="1.5" ry="4.6" transform="rotate(-12 588.0 508.0)"/><ellipse cx="588.0" cy="518.0" rx="1.5" ry="4.6" transform="rotate(-12 588.0 518.0)"/><ellipse cx="588.0" cy="528.0" rx="1.5" ry="4.6" transform="rotate(-12 588.0 528.0)"/><ellipse cx="588.0" cy="538.0" rx="1.5" ry="4.6" transform="rotate(-12 588.0 538.0)"/><ellipse cx="588.0" cy="548.0" rx="1.5" ry="4.6" transform="rotate(-12 588.0 548.0)"/><ellipse cx="588.0" cy="558.0" rx="1.5" ry="4.6" transform="rotate(-12 588.0 558.0)"/><ellipse cx="588.0" cy="568.0" rx="1.5" ry="4.6" transform="rotate(-12 588.0 568.0)"/><ellipse cx="588.0" cy="578.0" rx="1.5" ry="4.6" transform="rotate(-12 588.0 578.0)"/><ellipse cx="588.0" cy="588.0" rx="1.5" ry="4.6" transform="rotate(-12 588.0 588.0)"/><ellipse cx="588.0" cy="598.0" rx="1.5" ry="4.6" transform="rotate(-12 588.0 598.0)"/><ellipse cx="588.0" cy="608.0" rx="1.5" ry="4.6" transform="rotate(-12 588.0 608.0)"/><ellipse cx="593.0" cy="293.0" rx="1.5" ry="4.6" transform="rotate(-12 593.0 293.0)"/><ellipse cx="593.0" cy="303.0" rx="1.5" ry="4.6" transform="rotate(-12 593.0 303.0)"/><ellipse cx="593.0" cy="313.0" rx="1.5" ry="4.6" transform="rotate(-12 593.0 313.0)"/><ellipse cx="593.0" cy="323.0" rx="1.5" ry="4.6" transform="rotate(-12 593.0 323.0)"/><ellipse cx="593.0" cy="333.0" rx="1.5" ry="4.6" transform="rotate(-12 593.0 333.0)"/><ellipse cx="593.0" cy="343.0" rx="1.5" ry="4.6" transform="rotate(-12 593.0 343.0)"/><ellipse cx="593.0" cy="353.0" rx="1.5" ry="4.6" transform="rotate(-12 593.0 353.0)"/><ellipse cx="593.0" cy="363.0" rx="1.5" ry="4.6" transform="rotate(-12 593.0 363.0)"/><ellipse cx="593.0" cy="373.0" rx="1.5" ry="4.6" transform="rotate(-12 593.0 373.0)"/><ellipse cx="593.0" cy="383.0" rx="1.5" ry="4.6" transform="rotate(-12 593.0 383.0)"/><ellipse cx="593.0" cy="393.0" rx="1.5" ry="4.6" transform="rotate(-12 593.0 393.0)"/><ellipse cx="593.0" cy="403.0" rx="1.5" ry="4.6" transform="rotate(-12 593.0 403.0)"/><ellipse cx="593.0" cy="413.0" rx="1.5" ry="4.6" transform="rotate(-12 593.0 413.0)"/><ellipse cx="593.0" cy="423.0" rx="1.5" ry="4.6" transform="rotate(-12 593.0 423.0)"/><ellipse cx="593.0" cy="433.0" rx="1.5" ry="4.6" transform="rotate(-12 593.0 433.0)"/><ellipse cx="593.0" cy="443.0" rx="1.5" ry="4.6" transform="rotate(-12 593.0 443.0)"/><ellipse cx="593.0" cy="453.0" rx="1.5" ry="4.6" transform="rotate(-12 593.0 453.0)"/><ellipse cx="593.0" cy="463.0" rx="1.5" ry="4.6" transform="rotate(-12 593.0 463.0)"/><ellipse cx="593.0" cy="473.0" rx="1.5" ry="4.6" transform="rotate(-12 593.0 473.0)"/><ellipse cx="593.0" cy="483.0" rx="1.5" ry="4.6" transform="rotate(-12 593.0 483.0)"/><ellipse cx="593.0" cy="493.0" rx="1.5" ry="4.6" transform="rotate(-12 593.0 493.0)"/><ellipse cx="593.0" cy="503.0" rx="1.5" ry="4.6" transform="rotate(-12 593.0 503.0)"/><ellipse cx="593.0" cy="513.0" rx="1.5" ry="4.6" transform="rotate(-12 593.0 513.0)"/><ellipse cx="593.0" cy="523.0" rx="1.5" ry="4.6" transform="rotate(-12 593.0 523.0)"/><ellipse cx="593.0" cy="533.0" rx="1.5" ry="4.6" transform="rotate(-12 593.0 533.0)"/><ellipse cx="593.0" cy="543.0" rx="1.5" ry="4.6" transform="rotate(-12 593.0 543.0)"/><ellipse cx="593.0" cy="553.0" rx="1.5" ry="4.6" transform="rotate(-12 593.0 553.0)"/><ellipse cx="593.0" cy="563.0" rx="1.5" ry="4.6" transform="rotate(-12 593.0 563.0)"/><ellipse cx="593.0" cy="573.0" rx="1.5" ry="4.6" transform="rotate(-12 593.0 573.0)"/><ellipse cx="593.0" cy="583.0" rx="1.5" ry="4.6" transform="rotate(-12 593.0 583.0)"/><ellipse cx="593.0" cy="593.0" rx="1.5" ry="4.6" transform="rotate(-12 593.0 593.0)"/><ellipse cx="593.0" cy="603.0" rx="1.5" ry="4.6" transform="rotate(-12 593.0 603.0)"/><ellipse cx="593.0" cy="613.0" rx="1.5" ry="4.6" transform="rotate(-12 593.0 613.0)"/><ellipse cx="598.0" cy="288.0" rx="1.5" ry="4.6" transform="rotate(-12 598.0 288.0)"/><ellipse cx="598.0" cy="298.0" rx="1.5" ry="4.6" transform="rotate(-12 598.0 298.0)"/><ellipse cx="598.0" cy="308.0" rx="1.5" ry="4.6" transform="rotate(-12 598.0 308.0)"/><ellipse cx="598.0" cy="318.0" rx="1.5" ry="4.6" transform="rotate(-12 598.0 318.0)"/><ellipse cx="598.0" cy="328.0" rx="1.5" ry="4.6" transform="rotate(-12 598.0 328.0)"/><ellipse cx="598.0" cy="338.0" rx="1.5" ry="4.6" transform="rotate(-12 598.0 338.0)"/><ellipse cx="598.0" cy="348.0" rx="1.5" ry="4.6" transform="rotate(-12 598.0 348.0)"/><ellipse cx="598.0" cy="358.0" rx="1.5" ry="4.6" transform="rotate(-12 598.0 358.0)"/><ellipse cx="598.0" cy="368.0" rx="1.5" ry="4.6" transform="rotate(-12 598.0 368.0)"/><ellipse cx="598.0" cy="378.0" rx="1.5" ry="4.6" transform="rotate(-12 598.0 378.0)"/><ellipse cx="598.0" cy="388.0" rx="1.5" ry="4.6" transform="rotate(-12 598.0 388.0)"/><ellipse cx="598.0" cy="398.0" rx="1.5" ry="4.6" transform="rotate(-12 598.0 398.0)"/><ellipse cx="598.0" cy="408.0" rx="1.5" ry="4.6" transform="rotate(-12 598.0 408.0)"/><ellipse cx="598.0" cy="418.0" rx="1.5" ry="4.6" transform="rotate(-12 598.0 418.0)"/><ellipse cx="598.0" cy="428.0" rx="1.5" ry="4.6" transform="rotate(-12 598.0 428.0)"/><ellipse cx="598.0" cy="438.0" rx="1.5" ry="4.6" transform="rotate(-12 598.0 438.0)"/><ellipse cx="598.0" cy="448.0" rx="1.5" ry="4.6" transform="rotate(-12 598.0 448.0)"/><ellipse cx="598.0" cy="458.0" rx="1.5" ry="4.6" transform="rotate(-12 598.0 458.0)"/><ellipse cx="598.0" cy="468.0" rx="1.5" ry="4.6" transform="rotate(-12 598.0 468.0)"/><ellipse cx="598.0" cy="478.0" rx="1.5" ry="4.6" transform="rotate(-12 598.0 478.0)"/><ellipse cx="598.0" cy="488.0" rx="1.5" ry="4.6" transform="rotate(-12 598.0 488.0)"/><ellipse cx="598.0" cy="498.0" rx="1.5" ry="4.6" transform="rotate(-12 598.0 498.0)"/><ellipse cx="598.0" cy="508.0" rx="1.5" ry="4.6" transform="rotate(-12 598.0 508.0)"/><ellipse cx="598.0" cy="518.0" rx="1.5" ry="4.6" transform="rotate(-12 598.0 518.0)"/><ellipse cx="598.0" cy="528.0" rx="1.5" ry="4.6" transform="rotate(-12 598.0 528.0)"/><ellipse cx="598.0" cy="538.0" rx="1.5" ry="4.6" transform="rotate(-12 598.0 538.0)"/><ellipse cx="598.0" cy="548.0" rx="1.5" ry="4.6" transform="rotate(-12 598.0 548.0)"/><ellipse cx="598.0" cy="558.0" rx="1.5" ry="4.6" transform="rotate(-12 598.0 558.0)"/><ellipse cx="598.0" cy="568.0" rx="1.5" ry="4.6" transform="rotate(-12 598.0 568.0)"/><ellipse cx="598.0" cy="578.0" rx="1.5" ry="4.6" transform="rotate(-12 598.0 578.0)"/><ellipse cx="598.0" cy="588.0" rx="1.5" ry="4.6" transform="rotate(-12 598.0 588.0)"/><ellipse cx="598.0" cy="598.0" rx="1.5" ry="4.6" transform="rotate(-12 598.0 598.0)"/><ellipse cx="598.0" cy="608.0" rx="1.5" ry="4.6" transform="rotate(-12 598.0 608.0)"/><ellipse cx="603.0" cy="293.0" rx="1.5" ry="4.6" transform="rotate(-12 603.0 293.0)"/><ellipse cx="603.0" cy="303.0" rx="1.5" ry="4.6" transform="rotate(-12 603.0 303.0)"/><ellipse cx="603.0" cy="313.0" rx="1.5" ry="4.6" transform="rotate(-12 603.0 313.0)"/><ellipse cx="603.0" cy="323.0" rx="1.5" ry="4.6" transform="rotate(-12 603.0 323.0)"/><ellipse cx="603.0" cy="333.0" rx="1.5" ry="4.6" transform="rotate(-12 603.0 333.0)"/><ellipse cx="603.0" cy="343.0" rx="1.5" ry="4.6" transform="rotate(-12 603.0 343.0)"/><ellipse cx="603.0" cy="353.0" rx="1.5" ry="4.6" transform="rotate(-12 603.0 353.0)"/><ellipse cx="603.0" cy="363.0" rx="1.5" ry="4.6" transform="rotate(-12 603.0 363.0)"/><ellipse cx="603.0" cy="373.0" rx="1.5" ry="4.6" transform="rotate(-12 603.0 373.0)"/><ellipse cx="603.0" cy="383.0" rx="1.5" ry="4.6" transform="rotate(-12 603.0 383.0)"/><ellipse cx="603.0" cy="393.0" rx="1.5" ry="4.6" transform="rotate(-12 603.0 393.0)"/><ellipse cx="603.0" cy="403.0" rx="1.5" ry="4.6" transform="rotate(-12 603.0 403.0)"/><ellipse cx="603.0" cy="413.0" rx="1.5" ry="4.6" transform="rotate(-12 603.0 413.0)"/><ellipse cx="603.0" cy="423.0" rx="1.5" ry="4.6" transform="rotate(-12 603.0 423.0)"/><ellipse cx="603.0" cy="433.0" rx="1.5" ry="4.6" transform="rotate(-12 603.0 433.0)"/><ellipse cx="603.0" cy="443.0" rx="1.5" ry="4.6" transform="rotate(-12 603.0 443.0)"/><ellipse cx="603.0" cy="453.0" rx="1.5" ry="4.6" transform="rotate(-12 603.0 453.0)"/><ellipse cx="603.0" cy="463.0" rx="1.5" ry="4.6" transform="rotate(-12 603.0 463.0)"/><ellipse cx="603.0" cy="473.0" rx="1.5" ry="4.6" transform="rotate(-12 603.0 473.0)"/><ellipse cx="603.0" cy="483.0" rx="1.5" ry="4.6" transform="rotate(-12 603.0 483.0)"/><ellipse cx="603.0" cy="493.0" rx="1.5" ry="4.6" transform="rotate(-12 603.0 493.0)"/><ellipse cx="603.0" cy="503.0" rx="1.5" ry="4.6" transform="rotate(-12 603.0 503.0)"/><ellipse cx="603.0" cy="513.0" rx="1.5" ry="4.6" transform="rotate(-12 603.0 513.0)"/><ellipse cx="603.0" cy="523.0" rx="1.5" ry="4.6" transform="rotate(-12 603.0 523.0)"/><ellipse cx="603.0" cy="533.0" rx="1.5" ry="4.6" transform="rotate(-12 603.0 533.0)"/><ellipse cx="603.0" cy="543.0" rx="1.5" ry="4.6" transform="rotate(-12 603.0 543.0)"/><ellipse cx="603.0" cy="553.0" rx="1.5" ry="4.6" transform="rotate(-12 603.0 553.0)"/><ellipse cx="603.0" cy="563.0" rx="1.5" ry="4.6" transform="rotate(-12 603.0 563.0)"/><ellipse cx="603.0" cy="573.0" rx="1.5" ry="4.6" transform="rotate(-12 603.0 573.0)"/><ellipse cx="603.0" cy="583.0" rx="1.5" ry="4.6" transform="rotate(-12 603.0 583.0)"/><ellipse cx="603.0" cy="593.0" rx="1.5" ry="4.6" transform="rotate(-12 603.0 593.0)"/><ellipse cx="603.0" cy="603.0" rx="1.5" ry="4.6" transform="rotate(-12 603.0 603.0)"/><ellipse cx="603.0" cy="613.0" rx="1.5" ry="4.6" transform="rotate(-12 603.0 613.0)"/><ellipse cx="608.0" cy="288.0" rx="1.5" ry="4.6" transform="rotate(-12 608.0 288.0)"/><ellipse cx="608.0" cy="298.0" rx="1.5" ry="4.6" transform="rotate(-12 608.0 298.0)"/><ellipse cx="608.0" cy="308.0" rx="1.5" ry="4.6" transform="rotate(-12 608.0 308.0)"/><ellipse cx="608.0" cy="318.0" rx="1.5" ry="4.6" transform="rotate(-12 608.0 318.0)"/><ellipse cx="608.0" cy="328.0" rx="1.5" ry="4.6" transform="rotate(-12 608.0 328.0)"/><ellipse cx="608.0" cy="338.0" rx="1.5" ry="4.6" transform="rotate(-12 608.0 338.0)"/><ellipse cx="608.0" cy="348.0" rx="1.5" ry="4.6" transform="rotate(-12 608.0 348.0)"/><ellipse cx="608.0" cy="358.0" rx="1.5" ry="4.6" transform="rotate(-12 608.0 358.0)"/><ellipse cx="608.0" cy="368.0" rx="1.5" ry="4.6" transform="rotate(-12 608.0 368.0)"/><ellipse cx="608.0" cy="378.0" rx="1.5" ry="4.6" transform="rotate(-12 608.0 378.0)"/><ellipse cx="608.0" cy="388.0" rx="1.5" ry="4.6" transform="rotate(-12 608.0 388.0)"/><ellipse cx="608.0" cy="398.0" rx="1.5" ry="4.6" transform="rotate(-12 608.0 398.0)"/><ellipse cx="608.0" cy="408.0" rx="1.5" ry="4.6" transform="rotate(-12 608.0 408.0)"/><ellipse cx="608.0" cy="418.0" rx="1.5" ry="4.6" transform="rotate(-12 608.0 418.0)"/><ellipse cx="608.0" cy="428.0" rx="1.5" ry="4.6" transform="rotate(-12 608.0 428.0)"/><ellipse cx="608.0" cy="438.0" rx="1.5" ry="4.6" transform="rotate(-12 608.0 438.0)"/><ellipse cx="608.0" cy="448.0" rx="1.5" ry="4.6" transform="rotate(-12 608.0 448.0)"/><ellipse cx="608.0" cy="458.0" rx="1.5" ry="4.6" transform="rotate(-12 608.0 458.0)"/><ellipse cx="608.0" cy="468.0" rx="1.5" ry="4.6" transform="rotate(-12 608.0 468.0)"/><ellipse cx="608.0" cy="478.0" rx="1.5" ry="4.6" transform="rotate(-12 608.0 478.0)"/><ellipse cx="608.0" cy="488.0" rx="1.5" ry="4.6" transform="rotate(-12 608.0 488.0)"/><ellipse cx="608.0" cy="498.0" rx="1.5" ry="4.6" transform="rotate(-12 608.0 498.0)"/><ellipse cx="608.0" cy="508.0" rx="1.5" ry="4.6" transform="rotate(-12 608.0 508.0)"/><ellipse cx="608.0" cy="518.0" rx="1.5" ry="4.6" transform="rotate(-12 608.0 518.0)"/><ellipse cx="608.0" cy="528.0" rx="1.5" ry="4.6" transform="rotate(-12 608.0 528.0)"/><ellipse cx="608.0" cy="538.0" rx="1.5" ry="4.6" transform="rotate(-12 608.0 538.0)"/><ellipse cx="608.0" cy="548.0" rx="1.5" ry="4.6" transform="rotate(-12 608.0 548.0)"/><ellipse cx="608.0" cy="558.0" rx="1.5" ry="4.6" transform="rotate(-12 608.0 558.0)"/><ellipse cx="608.0" cy="568.0" rx="1.5" ry="4.6" transform="rotate(-12 608.0 568.0)"/><ellipse cx="608.0" cy="578.0" rx="1.5" ry="4.6" transform="rotate(-12 608.0 578.0)"/><ellipse cx="608.0" cy="588.0" rx="1.5" ry="4.6" transform="rotate(-12 608.0 588.0)"/><ellipse cx="608.0" cy="598.0" rx="1.5" ry="4.6" transform="rotate(-12 608.0 598.0)"/><ellipse cx="608.0" cy="608.0" rx="1.5" ry="4.6" transform="rotate(-12 608.0 608.0)"/><ellipse cx="613.0" cy="293.0" rx="1.5" ry="4.6" transform="rotate(-12 613.0 293.0)"/><ellipse cx="613.0" cy="303.0" rx="1.5" ry="4.6" transform="rotate(-12 613.0 303.0)"/><ellipse cx="613.0" cy="313.0" rx="1.5" ry="4.6" transform="rotate(-12 613.0 313.0)"/><ellipse cx="613.0" cy="323.0" rx="1.5" ry="4.6" transform="rotate(-12 613.0 323.0)"/><ellipse cx="613.0" cy="333.0" rx="1.5" ry="4.6" transform="rotate(-12 613.0 333.0)"/><ellipse cx="613.0" cy="343.0" rx="1.5" ry="4.6" transform="rotate(-12 613.0 343.0)"/><ellipse cx="613.0" cy="353.0" rx="1.5" ry="4.6" transform="rotate(-12 613.0 353.0)"/><ellipse cx="613.0" cy="363.0" rx="1.5" ry="4.6" transform="rotate(-12 613.0 363.0)"/><ellipse cx="613.0" cy="373.0" rx="1.5" ry="4.6" transform="rotate(-12 613.0 373.0)"/><ellipse cx="613.0" cy="383.0" rx="1.5" ry="4.6" transform="rotate(-12 613.0 383.0)"/><ellipse cx="613.0" cy="393.0" rx="1.5" ry="4.6" transform="rotate(-12 613.0 393.0)"/><ellipse cx="613.0" cy="403.0" rx="1.5" ry="4.6" transform="rotate(-12 613.0 403.0)"/><ellipse cx="613.0" cy="413.0" rx="1.5" ry="4.6" transform="rotate(-12 613.0 413.0)"/><ellipse cx="613.0" cy="423.0" rx="1.5" ry="4.6" transform="rotate(-12 613.0 423.0)"/><ellipse cx="613.0" cy="433.0" rx="1.5" ry="4.6" transform="rotate(-12 613.0 433.0)"/><ellipse cx="613.0" cy="443.0" rx="1.5" ry="4.6" transform="rotate(-12 613.0 443.0)"/><ellipse cx="613.0" cy="453.0" rx="1.5" ry="4.6" transform="rotate(-12 613.0 453.0)"/><ellipse cx="613.0" cy="463.0" rx="1.5" ry="4.6" transform="rotate(-12 613.0 463.0)"/><ellipse cx="613.0" cy="473.0" rx="1.5" ry="4.6" transform="rotate(-12 613.0 473.0)"/><ellipse cx="613.0" cy="483.0" rx="1.5" ry="4.6" transform="rotate(-12 613.0 483.0)"/><ellipse cx="613.0" cy="493.0" rx="1.5" ry="4.6" transform="rotate(-12 613.0 493.0)"/><ellipse cx="613.0" cy="503.0" rx="1.5" ry="4.6" transform="rotate(-12 613.0 503.0)"/><ellipse cx="613.0" cy="513.0" rx="1.5" ry="4.6" transform="rotate(-12 613.0 513.0)"/><ellipse cx="613.0" cy="523.0" rx="1.5" ry="4.6" transform="rotate(-12 613.0 523.0)"/><ellipse cx="613.0" cy="533.0" rx="1.5" ry="4.6" transform="rotate(-12 613.0 533.0)"/><ellipse cx="613.0" cy="543.0" rx="1.5" ry="4.6" transform="rotate(-12 613.0 543.0)"/><ellipse cx="613.0" cy="553.0" rx="1.5" ry="4.6" transform="rotate(-12 613.0 553.0)"/><ellipse cx="613.0" cy="563.0" rx="1.5" ry="4.6" transform="rotate(-12 613.0 563.0)"/><ellipse cx="613.0" cy="573.0" rx="1.5" ry="4.6" transform="rotate(-12 613.0 573.0)"/><ellipse cx="613.0" cy="583.0" rx="1.5" ry="4.6" transform="rotate(-12 613.0 583.0)"/><ellipse cx="613.0" cy="593.0" rx="1.5" ry="4.6" transform="rotate(-12 613.0 593.0)"/><ellipse cx="613.0" cy="603.0" rx="1.5" ry="4.6" transform="rotate(-12 613.0 603.0)"/><ellipse cx="613.0" cy="613.0" rx="1.5" ry="4.6" transform="rotate(-12 613.0 613.0)"/><ellipse cx="618.0" cy="288.0" rx="1.5" ry="4.6" transform="rotate(-12 618.0 288.0)"/><ellipse cx="618.0" cy="298.0" rx="1.5" ry="4.6" transform="rotate(-12 618.0 298.0)"/><ellipse cx="618.0" cy="308.0" rx="1.5" ry="4.6" transform="rotate(-12 618.0 308.0)"/><ellipse cx="618.0" cy="318.0" rx="1.5" ry="4.6" transform="rotate(-12 618.0 318.0)"/><ellipse cx="618.0" cy="328.0" rx="1.5" ry="4.6" transform="rotate(-12 618.0 328.0)"/><ellipse cx="618.0" cy="338.0" rx="1.5" ry="4.6" transform="rotate(-12 618.0 338.0)"/><ellipse cx="618.0" cy="348.0" rx="1.5" ry="4.6" transform="rotate(-12 618.0 348.0)"/><ellipse cx="618.0" cy="358.0" rx="1.5" ry="4.6" transform="rotate(-12 618.0 358.0)"/><ellipse cx="618.0" cy="368.0" rx="1.5" ry="4.6" transform="rotate(-12 618.0 368.0)"/><ellipse cx="618.0" cy="378.0" rx="1.5" ry="4.6" transform="rotate(-12 618.0 378.0)"/><ellipse cx="618.0" cy="388.0" rx="1.5" ry="4.6" transform="rotate(-12 618.0 388.0)"/><ellipse cx="618.0" cy="398.0" rx="1.5" ry="4.6" transform="rotate(-12 618.0 398.0)"/><ellipse cx="618.0" cy="408.0" rx="1.5" ry="4.6" transform="rotate(-12 618.0 408.0)"/><ellipse cx="618.0" cy="418.0" rx="1.5" ry="4.6" transform="rotate(-12 618.0 418.0)"/><ellipse cx="618.0" cy="428.0" rx="1.5" ry="4.6" transform="rotate(-12 618.0 428.0)"/><ellipse cx="618.0" cy="438.0" rx="1.5" ry="4.6" transform="rotate(-12 618.0 438.0)"/><ellipse cx="618.0" cy="448.0" rx="1.5" ry="4.6" transform="rotate(-12 618.0 448.0)"/><ellipse cx="618.0" cy="458.0" rx="1.5" ry="4.6" transform="rotate(-12 618.0 458.0)"/><ellipse cx="618.0" cy="468.0" rx="1.5" ry="4.6" transform="rotate(-12 618.0 468.0)"/><ellipse cx="618.0" cy="478.0" rx="1.5" ry="4.6" transform="rotate(-12 618.0 478.0)"/><ellipse cx="618.0" cy="488.0" rx="1.5" ry="4.6" transform="rotate(-12 618.0 488.0)"/><ellipse cx="618.0" cy="498.0" rx="1.5" ry="4.6" transform="rotate(-12 618.0 498.0)"/><ellipse cx="618.0" cy="508.0" rx="1.5" ry="4.6" transform="rotate(-12 618.0 508.0)"/><ellipse cx="618.0" cy="518.0" rx="1.5" ry="4.6" transform="rotate(-12 618.0 518.0)"/><ellipse cx="618.0" cy="528.0" rx="1.5" ry="4.6" transform="rotate(-12 618.0 528.0)"/><ellipse cx="618.0" cy="538.0" rx="1.5" ry="4.6" transform="rotate(-12 618.0 538.0)"/><ellipse cx="618.0" cy="548.0" rx="1.5" ry="4.6" transform="rotate(-12 618.0 548.0)"/><ellipse cx="618.0" cy="558.0" rx="1.5" ry="4.6" transform="rotate(-12 618.0 558.0)"/><ellipse cx="618.0" cy="568.0" rx="1.5" ry="4.6" transform="rotate(-12 618.0 568.0)"/><ellipse cx="618.0" cy="578.0" rx="1.5" ry="4.6" transform="rotate(-12 618.0 578.0)"/><ellipse cx="618.0" cy="588.0" rx="1.5" ry="4.6" transform="rotate(-12 618.0 588.0)"/><ellipse cx="618.0" cy="598.0" rx="1.5" ry="4.6" transform="rotate(-12 618.0 598.0)"/><ellipse cx="618.0" cy="608.0" rx="1.5" ry="4.6" transform="rotate(-12 618.0 608.0)"/><ellipse cx="623.0" cy="293.0" rx="1.5" ry="4.6" transform="rotate(-12 623.0 293.0)"/><ellipse cx="623.0" cy="303.0" rx="1.5" ry="4.6" transform="rotate(-12 623.0 303.0)"/><ellipse cx="623.0" cy="313.0" rx="1.5" ry="4.6" transform="rotate(-12 623.0 313.0)"/><ellipse cx="623.0" cy="323.0" rx="1.5" ry="4.6" transform="rotate(-12 623.0 323.0)"/><ellipse cx="623.0" cy="333.0" rx="1.5" ry="4.6" transform="rotate(-12 623.0 333.0)"/><ellipse cx="623.0" cy="343.0" rx="1.5" ry="4.6" transform="rotate(-12 623.0 343.0)"/><ellipse cx="623.0" cy="353.0" rx="1.5" ry="4.6" transform="rotate(-12 623.0 353.0)"/><ellipse cx="623.0" cy="363.0" rx="1.5" ry="4.6" transform="rotate(-12 623.0 363.0)"/><ellipse cx="623.0" cy="373.0" rx="1.5" ry="4.6" transform="rotate(-12 623.0 373.0)"/><ellipse cx="623.0" cy="383.0" rx="1.5" ry="4.6" transform="rotate(-12 623.0 383.0)"/><ellipse cx="623.0" cy="393.0" rx="1.5" ry="4.6" transform="rotate(-12 623.0 393.0)"/><ellipse cx="623.0" cy="403.0" rx="1.5" ry="4.6" transform="rotate(-12 623.0 403.0)"/><ellipse cx="623.0" cy="413.0" rx="1.5" ry="4.6" transform="rotate(-12 623.0 413.0)"/><ellipse cx="623.0" cy="423.0" rx="1.5" ry="4.6" transform="rotate(-12 623.0 423.0)"/><ellipse cx="623.0" cy="433.0" rx="1.5" ry="4.6" transform="rotate(-12 623.0 433.0)"/><ellipse cx="623.0" cy="443.0" rx="1.5" ry="4.6" transform="rotate(-12 623.0 443.0)"/><ellipse cx="623.0" cy="453.0" rx="1.5" ry="4.6" transform="rotate(-12 623.0 453.0)"/><ellipse cx="623.0" cy="463.0" rx="1.5" ry="4.6" transform="rotate(-12 623.0 463.0)"/><ellipse cx="623.0" cy="473.0" rx="1.5" ry="4.6" transform="rotate(-12 623.0 473.0)"/><ellipse cx="623.0" cy="483.0" rx="1.5" ry="4.6" transform="rotate(-12 623.0 483.0)"/><ellipse cx="623.0" cy="493.0" rx="1.5" ry="4.6" transform="rotate(-12 623.0 493.0)"/><ellipse cx="623.0" cy="503.0" rx="1.5" ry="4.6" transform="rotate(-12 623.0 503.0)"/><ellipse cx="623.0" cy="513.0" rx="1.5" ry="4.6" transform="rotate(-12 623.0 513.0)"/><ellipse cx="623.0" cy="523.0" rx="1.5" ry="4.6" transform="rotate(-12 623.0 523.0)"/><ellipse cx="623.0" cy="533.0" rx="1.5" ry="4.6" transform="rotate(-12 623.0 533.0)"/><ellipse cx="623.0" cy="543.0" rx="1.5" ry="4.6" transform="rotate(-12 623.0 543.0)"/><ellipse cx="623.0" cy="553.0" rx="1.5" ry="4.6" transform="rotate(-12 623.0 553.0)"/><ellipse cx="623.0" cy="563.0" rx="1.5" ry="4.6" transform="rotate(-12 623.0 563.0)"/><ellipse cx="623.0" cy="573.0" rx="1.5" ry="4.6" transform="rotate(-12 623.0 573.0)"/><ellipse cx="623.0" cy="583.0" rx="1.5" ry="4.6" transform="rotate(-12 623.0 583.0)"/><ellipse cx="623.0" cy="593.0" rx="1.5" ry="4.6" transform="rotate(-12 623.0 593.0)"/><ellipse cx="623.0" cy="603.0" rx="1.5" ry="4.6" transform="rotate(-12 623.0 603.0)"/><ellipse cx="623.0" cy="613.0" rx="1.5" ry="4.6" transform="rotate(-12 623.0 613.0)"/><ellipse cx="628.0" cy="288.0" rx="1.5" ry="4.6" transform="rotate(-12 628.0 288.0)"/><ellipse cx="628.0" cy="298.0" rx="1.5" ry="4.6" transform="rotate(-12 628.0 298.0)"/><ellipse cx="628.0" cy="308.0" rx="1.5" ry="4.6" transform="rotate(-12 628.0 308.0)"/><ellipse cx="628.0" cy="318.0" rx="1.5" ry="4.6" transform="rotate(-12 628.0 318.0)"/><ellipse cx="628.0" cy="328.0" rx="1.5" ry="4.6" transform="rotate(-12 628.0 328.0)"/><ellipse cx="628.0" cy="338.0" rx="1.5" ry="4.6" transform="rotate(-12 628.0 338.0)"/><ellipse cx="628.0" cy="348.0" rx="1.5" ry="4.6" transform="rotate(-12 628.0 348.0)"/><ellipse cx="628.0" cy="358.0" rx="1.5" ry="4.6" transform="rotate(-12 628.0 358.0)"/><ellipse cx="628.0" cy="368.0" rx="1.5" ry="4.6" transform="rotate(-12 628.0 368.0)"/><ellipse cx="628.0" cy="378.0" rx="1.5" ry="4.6" transform="rotate(-12 628.0 378.0)"/><ellipse cx="628.0" cy="388.0" rx="1.5" ry="4.6" transform="rotate(-12 628.0 388.0)"/><ellipse cx="628.0" cy="398.0" rx="1.5" ry="4.6" transform="rotate(-12 628.0 398.0)"/><ellipse cx="628.0" cy="408.0" rx="1.5" ry="4.6" transform="rotate(-12 628.0 408.0)"/><ellipse cx="628.0" cy="418.0" rx="1.5" ry="4.6" transform="rotate(-12 628.0 418.0)"/><ellipse cx="628.0" cy="428.0" rx="1.5" ry="4.6" transform="rotate(-12 628.0 428.0)"/><ellipse cx="628.0" cy="438.0" rx="1.5" ry="4.6" transform="rotate(-12 628.0 438.0)"/><ellipse cx="628.0" cy="448.0" rx="1.5" ry="4.6" transform="rotate(-12 628.0 448.0)"/><ellipse cx="628.0" cy="458.0" rx="1.5" ry="4.6" transform="rotate(-12 628.0 458.0)"/><ellipse cx="628.0" cy="468.0" rx="1.5" ry="4.6" transform="rotate(-12 628.0 468.0)"/><ellipse cx="628.0" cy="478.0" rx="1.5" ry="4.6" transform="rotate(-12 628.0 478.0)"/><ellipse cx="628.0" cy="488.0" rx="1.5" ry="4.6" transform="rotate(-12 628.0 488.0)"/><ellipse cx="628.0" cy="498.0" rx="1.5" ry="4.6" transform="rotate(-12 628.0 498.0)"/><ellipse cx="628.0" cy="508.0" rx="1.5" ry="4.6" transform="rotate(-12 628.0 508.0)"/><ellipse cx="628.0" cy="518.0" rx="1.5" ry="4.6" transform="rotate(-12 628.0 518.0)"/><ellipse cx="628.0" cy="528.0" rx="1.5" ry="4.6" transform="rotate(-12 628.0 528.0)"/><ellipse cx="628.0" cy="538.0" rx="1.5" ry="4.6" transform="rotate(-12 628.0 538.0)"/><ellipse cx="628.0" cy="548.0" rx="1.5" ry="4.6" transform="rotate(-12 628.0 548.0)"/><ellipse cx="628.0" cy="558.0" rx="1.5" ry="4.6" transform="rotate(-12 628.0 558.0)"/><ellipse cx="628.0" cy="568.0" rx="1.5" ry="4.6" transform="rotate(-12 628.0 568.0)"/><ellipse cx="628.0" cy="578.0" rx="1.5" ry="4.6" transform="rotate(-12 628.0 578.0)"/><ellipse cx="628.0" cy="588.0" rx="1.5" ry="4.6" transform="rotate(-12 628.0 588.0)"/><ellipse cx="628.0" cy="598.0" rx="1.5" ry="4.6" transform="rotate(-12 628.0 598.0)"/><ellipse cx="628.0" cy="608.0" rx="1.5" ry="4.6" transform="rotate(-12 628.0 608.0)"/><ellipse cx="633.0" cy="293.0" rx="1.5" ry="4.6" transform="rotate(-12 633.0 293.0)"/><ellipse cx="633.0" cy="303.0" rx="1.5" ry="4.6" transform="rotate(-12 633.0 303.0)"/><ellipse cx="633.0" cy="313.0" rx="1.5" ry="4.6" transform="rotate(-12 633.0 313.0)"/><ellipse cx="633.0" cy="323.0" rx="1.5" ry="4.6" transform="rotate(-12 633.0 323.0)"/><ellipse cx="633.0" cy="333.0" rx="1.5" ry="4.6" transform="rotate(-12 633.0 333.0)"/><ellipse cx="633.0" cy="343.0" rx="1.5" ry="4.6" transform="rotate(-12 633.0 343.0)"/><ellipse cx="633.0" cy="353.0" rx="1.5" ry="4.6" transform="rotate(-12 633.0 353.0)"/><ellipse cx="633.0" cy="363.0" rx="1.5" ry="4.6" transform="rotate(-12 633.0 363.0)"/><ellipse cx="633.0" cy="373.0" rx="1.5" ry="4.6" transform="rotate(-12 633.0 373.0)"/><ellipse cx="633.0" cy="383.0" rx="1.5" ry="4.6" transform="rotate(-12 633.0 383.0)"/><ellipse cx="633.0" cy="393.0" rx="1.5" ry="4.6" transform="rotate(-12 633.0 393.0)"/><ellipse cx="633.0" cy="403.0" rx="1.5" ry="4.6" transform="rotate(-12 633.0 403.0)"/><ellipse cx="633.0" cy="413.0" rx="1.5" ry="4.6" transform="rotate(-12 633.0 413.0)"/><ellipse cx="633.0" cy="423.0" rx="1.5" ry="4.6" transform="rotate(-12 633.0 423.0)"/><ellipse cx="633.0" cy="433.0" rx="1.5" ry="4.6" transform="rotate(-12 633.0 433.0)"/><ellipse cx="633.0" cy="443.0" rx="1.5" ry="4.6" transform="rotate(-12 633.0 443.0)"/><ellipse cx="633.0" cy="453.0" rx="1.5" ry="4.6" transform="rotate(-12 633.0 453.0)"/><ellipse cx="633.0" cy="463.0" rx="1.5" ry="4.6" transform="rotate(-12 633.0 463.0)"/><ellipse cx="633.0" cy="473.0" rx="1.5" ry="4.6" transform="rotate(-12 633.0 473.0)"/><ellipse cx="633.0" cy="483.0" rx="1.5" ry="4.6" transform="rotate(-12 633.0 483.0)"/><ellipse cx="633.0" cy="493.0" rx="1.5" ry="4.6" transform="rotate(-12 633.0 493.0)"/><ellipse cx="633.0" cy="503.0" rx="1.5" ry="4.6" transform="rotate(-12 633.0 503.0)"/><ellipse cx="633.0" cy="513.0" rx="1.5" ry="4.6" transform="rotate(-12 633.0 513.0)"/><ellipse cx="633.0" cy="523.0" rx="1.5" ry="4.6" transform="rotate(-12 633.0 523.0)"/><ellipse cx="633.0" cy="533.0" rx="1.5" ry="4.6" transform="rotate(-12 633.0 533.0)"/><ellipse cx="633.0" cy="543.0" rx="1.5" ry="4.6" transform="rotate(-12 633.0 543.0)"/><ellipse cx="633.0" cy="553.0" rx="1.5" ry="4.6" transform="rotate(-12 633.0 553.0)"/><ellipse cx="633.0" cy="563.0" rx="1.5" ry="4.6" transform="rotate(-12 633.0 563.0)"/><ellipse cx="633.0" cy="573.0" rx="1.5" ry="4.6" transform="rotate(-12 633.0 573.0)"/><ellipse cx="633.0" cy="583.0" rx="1.5" ry="4.6" transform="rotate(-12 633.0 583.0)"/><ellipse cx="633.0" cy="593.0" rx="1.5" ry="4.6" transform="rotate(-12 633.0 593.0)"/><ellipse cx="633.0" cy="603.0" rx="1.5" ry="4.6" transform="rotate(-12 633.0 603.0)"/><ellipse cx="633.0" cy="613.0" rx="1.5" ry="4.6" transform="rotate(-12 633.0 613.0)"/><ellipse cx="638.0" cy="288.0" rx="1.5" ry="4.6" transform="rotate(-12 638.0 288.0)"/><ellipse cx="638.0" cy="298.0" rx="1.5" ry="4.6" transform="rotate(-12 638.0 298.0)"/><ellipse cx="638.0" cy="308.0" rx="1.5" ry="4.6" transform="rotate(-12 638.0 308.0)"/><ellipse cx="638.0" cy="318.0" rx="1.5" ry="4.6" transform="rotate(-12 638.0 318.0)"/><ellipse cx="638.0" cy="328.0" rx="1.5" ry="4.6" transform="rotate(-12 638.0 328.0)"/><ellipse cx="638.0" cy="338.0" rx="1.5" ry="4.6" transform="rotate(-12 638.0 338.0)"/><ellipse cx="638.0" cy="348.0" rx="1.5" ry="4.6" transform="rotate(-12 638.0 348.0)"/><ellipse cx="638.0" cy="358.0" rx="1.5" ry="4.6" transform="rotate(-12 638.0 358.0)"/><ellipse cx="638.0" cy="368.0" rx="1.5" ry="4.6" transform="rotate(-12 638.0 368.0)"/><ellipse cx="638.0" cy="378.0" rx="1.5" ry="4.6" transform="rotate(-12 638.0 378.0)"/><ellipse cx="638.0" cy="388.0" rx="1.5" ry="4.6" transform="rotate(-12 638.0 388.0)"/><ellipse cx="638.0" cy="398.0" rx="1.5" ry="4.6" transform="rotate(-12 638.0 398.0)"/><ellipse cx="638.0" cy="408.0" rx="1.5" ry="4.6" transform="rotate(-12 638.0 408.0)"/><ellipse cx="638.0" cy="418.0" rx="1.5" ry="4.6" transform="rotate(-12 638.0 418.0)"/><ellipse cx="638.0" cy="428.0" rx="1.5" ry="4.6" transform="rotate(-12 638.0 428.0)"/><ellipse cx="638.0" cy="438.0" rx="1.5" ry="4.6" transform="rotate(-12 638.0 438.0)"/><ellipse cx="638.0" cy="448.0" rx="1.5" ry="4.6" transform="rotate(-12 638.0 448.0)"/><ellipse cx="638.0" cy="458.0" rx="1.5" ry="4.6" transform="rotate(-12 638.0 458.0)"/><ellipse cx="638.0" cy="468.0" rx="1.5" ry="4.6" transform="rotate(-12 638.0 468.0)"/><ellipse cx="638.0" cy="478.0" rx="1.5" ry="4.6" transform="rotate(-12 638.0 478.0)"/><ellipse cx="638.0" cy="488.0" rx="1.5" ry="4.6" transform="rotate(-12 638.0 488.0)"/><ellipse cx="638.0" cy="498.0" rx="1.5" ry="4.6" transform="rotate(-12 638.0 498.0)"/><ellipse cx="638.0" cy="508.0" rx="1.5" ry="4.6" transform="rotate(-12 638.0 508.0)"/><ellipse cx="638.0" cy="518.0" rx="1.5" ry="4.6" transform="rotate(-12 638.0 518.0)"/><ellipse cx="638.0" cy="528.0" rx="1.5" ry="4.6" transform="rotate(-12 638.0 528.0)"/><ellipse cx="638.0" cy="538.0" rx="1.5" ry="4.6" transform="rotate(-12 638.0 538.0)"/><ellipse cx="638.0" cy="548.0" rx="1.5" ry="4.6" transform="rotate(-12 638.0 548.0)"/><ellipse cx="638.0" cy="558.0" rx="1.5" ry="4.6" transform="rotate(-12 638.0 558.0)"/><ellipse cx="638.0" cy="568.0" rx="1.5" ry="4.6" transform="rotate(-12 638.0 568.0)"/><ellipse cx="638.0" cy="578.0" rx="1.5" ry="4.6" transform="rotate(-12 638.0 578.0)"/><ellipse cx="638.0" cy="588.0" rx="1.5" ry="4.6" transform="rotate(-12 638.0 588.0)"/><ellipse cx="638.0" cy="598.0" rx="1.5" ry="4.6" transform="rotate(-12 638.0 598.0)"/><ellipse cx="638.0" cy="608.0" rx="1.5" ry="4.6" transform="rotate(-12 638.0 608.0)"/><ellipse cx="643.0" cy="293.0" rx="1.5" ry="4.6" transform="rotate(-12 643.0 293.0)"/><ellipse cx="643.0" cy="303.0" rx="1.5" ry="4.6" transform="rotate(-12 643.0 303.0)"/><ellipse cx="643.0" cy="313.0" rx="1.5" ry="4.6" transform="rotate(-12 643.0 313.0)"/><ellipse cx="643.0" cy="323.0" rx="1.5" ry="4.6" transform="rotate(-12 643.0 323.0)"/><ellipse cx="643.0" cy="333.0" rx="1.5" ry="4.6" transform="rotate(-12 643.0 333.0)"/><ellipse cx="643.0" cy="343.0" rx="1.5" ry="4.6" transform="rotate(-12 643.0 343.0)"/><ellipse cx="643.0" cy="353.0" rx="1.5" ry="4.6" transform="rotate(-12 643.0 353.0)"/><ellipse cx="643.0" cy="363.0" rx="1.5" ry="4.6" transform="rotate(-12 643.0 363.0)"/><ellipse cx="643.0" cy="373.0" rx="1.5" ry="4.6" transform="rotate(-12 643.0 373.0)"/><ellipse cx="643.0" cy="383.0" rx="1.5" ry="4.6" transform="rotate(-12 643.0 383.0)"/><ellipse cx="643.0" cy="393.0" rx="1.5" ry="4.6" transform="rotate(-12 643.0 393.0)"/><ellipse cx="643.0" cy="403.0" rx="1.5" ry="4.6" transform="rotate(-12 643.0 403.0)"/><ellipse cx="643.0" cy="413.0" rx="1.5" ry="4.6" transform="rotate(-12 643.0 413.0)"/><ellipse cx="643.0" cy="423.0" rx="1.5" ry="4.6" transform="rotate(-12 643.0 423.0)"/><ellipse cx="643.0" cy="433.0" rx="1.5" ry="4.6" transform="rotate(-12 643.0 433.0)"/><ellipse cx="643.0" cy="443.0" rx="1.5" ry="4.6" transform="rotate(-12 643.0 443.0)"/><ellipse cx="643.0" cy="453.0" rx="1.5" ry="4.6" transform="rotate(-12 643.0 453.0)"/><ellipse cx="643.0" cy="463.0" rx="1.5" ry="4.6" transform="rotate(-12 643.0 463.0)"/><ellipse cx="643.0" cy="473.0" rx="1.5" ry="4.6" transform="rotate(-12 643.0 473.0)"/><ellipse cx="643.0" cy="483.0" rx="1.5" ry="4.6" transform="rotate(-12 643.0 483.0)"/><ellipse cx="643.0" cy="493.0" rx="1.5" ry="4.6" transform="rotate(-12 643.0 493.0)"/><ellipse cx="643.0" cy="503.0" rx="1.5" ry="4.6" transform="rotate(-12 643.0 503.0)"/><ellipse cx="643.0" cy="513.0" rx="1.5" ry="4.6" transform="rotate(-12 643.0 513.0)"/><ellipse cx="643.0" cy="523.0" rx="1.5" ry="4.6" transform="rotate(-12 643.0 523.0)"/><ellipse cx="643.0" cy="533.0" rx="1.5" ry="4.6" transform="rotate(-12 643.0 533.0)"/><ellipse cx="643.0" cy="543.0" rx="1.5" ry="4.6" transform="rotate(-12 643.0 543.0)"/><ellipse cx="643.0" cy="553.0" rx="1.5" ry="4.6" transform="rotate(-12 643.0 553.0)"/><ellipse cx="643.0" cy="563.0" rx="1.5" ry="4.6" transform="rotate(-12 643.0 563.0)"/><ellipse cx="643.0" cy="573.0" rx="1.5" ry="4.6" transform="rotate(-12 643.0 573.0)"/><ellipse cx="643.0" cy="583.0" rx="1.5" ry="4.6" transform="rotate(-12 643.0 583.0)"/><ellipse cx="643.0" cy="593.0" rx="1.5" ry="4.6" transform="rotate(-12 643.0 593.0)"/><ellipse cx="643.0" cy="603.0" rx="1.5" ry="4.6" transform="rotate(-12 643.0 603.0)"/><ellipse cx="643.0" cy="613.0" rx="1.5" ry="4.6" transform="rotate(-12 643.0 613.0)"/><ellipse cx="648.0" cy="288.0" rx="1.5" ry="4.6" transform="rotate(-12 648.0 288.0)"/><ellipse cx="648.0" cy="298.0" rx="1.5" ry="4.6" transform="rotate(-12 648.0 298.0)"/><ellipse cx="648.0" cy="308.0" rx="1.5" ry="4.6" transform="rotate(-12 648.0 308.0)"/><ellipse cx="648.0" cy="318.0" rx="1.5" ry="4.6" transform="rotate(-12 648.0 318.0)"/><ellipse cx="648.0" cy="328.0" rx="1.5" ry="4.6" transform="rotate(-12 648.0 328.0)"/><ellipse cx="648.0" cy="338.0" rx="1.5" ry="4.6" transform="rotate(-12 648.0 338.0)"/><ellipse cx="648.0" cy="348.0" rx="1.5" ry="4.6" transform="rotate(-12 648.0 348.0)"/><ellipse cx="648.0" cy="358.0" rx="1.5" ry="4.6" transform="rotate(-12 648.0 358.0)"/><ellipse cx="648.0" cy="368.0" rx="1.5" ry="4.6" transform="rotate(-12 648.0 368.0)"/><ellipse cx="648.0" cy="378.0" rx="1.5" ry="4.6" transform="rotate(-12 648.0 378.0)"/><ellipse cx="648.0" cy="388.0" rx="1.5" ry="4.6" transform="rotate(-12 648.0 388.0)"/><ellipse cx="648.0" cy="398.0" rx="1.5" ry="4.6" transform="rotate(-12 648.0 398.0)"/><ellipse cx="648.0" cy="408.0" rx="1.5" ry="4.6" transform="rotate(-12 648.0 408.0)"/><ellipse cx="648.0" cy="418.0" rx="1.5" ry="4.6" transform="rotate(-12 648.0 418.0)"/><ellipse cx="648.0" cy="428.0" rx="1.5" ry="4.6" transform="rotate(-12 648.0 428.0)"/><ellipse cx="648.0" cy="438.0" rx="1.5" ry="4.6" transform="rotate(-12 648.0 438.0)"/><ellipse cx="648.0" cy="448.0" rx="1.5" ry="4.6" transform="rotate(-12 648.0 448.0)"/><ellipse cx="648.0" cy="458.0" rx="1.5" ry="4.6" transform="rotate(-12 648.0 458.0)"/><ellipse cx="648.0" cy="468.0" rx="1.5" ry="4.6" transform="rotate(-12 648.0 468.0)"/><ellipse cx="648.0" cy="478.0" rx="1.5" ry="4.6" transform="rotate(-12 648.0 478.0)"/><ellipse cx="648.0" cy="488.0" rx="1.5" ry="4.6" transform="rotate(-12 648.0 488.0)"/><ellipse cx="648.0" cy="498.0" rx="1.5" ry="4.6" transform="rotate(-12 648.0 498.0)"/><ellipse cx="648.0" cy="508.0" rx="1.5" ry="4.6" transform="rotate(-12 648.0 508.0)"/><ellipse cx="648.0" cy="518.0" rx="1.5" ry="4.6" transform="rotate(-12 648.0 518.0)"/><ellipse cx="648.0" cy="528.0" rx="1.5" ry="4.6" transform="rotate(-12 648.0 528.0)"/><ellipse cx="648.0" cy="538.0" rx="1.5" ry="4.6" transform="rotate(-12 648.0 538.0)"/><ellipse cx="648.0" cy="548.0" rx="1.5" ry="4.6" transform="rotate(-12 648.0 548.0)"/><ellipse cx="648.0" cy="558.0" rx="1.5" ry="4.6" transform="rotate(-12 648.0 558.0)"/><ellipse cx="648.0" cy="568.0" rx="1.5" ry="4.6" transform="rotate(-12 648.0 568.0)"/><ellipse cx="648.0" cy="578.0" rx="1.5" ry="4.6" transform="rotate(-12 648.0 578.0)"/><ellipse cx="648.0" cy="588.0" rx="1.5" ry="4.6" transform="rotate(-12 648.0 588.0)"/><ellipse cx="648.0" cy="598.0" rx="1.5" ry="4.6" transform="rotate(-12 648.0 598.0)"/><ellipse cx="648.0" cy="608.0" rx="1.5" ry="4.6" transform="rotate(-12 648.0 608.0)"/><ellipse cx="653.0" cy="293.0" rx="1.5" ry="4.6" transform="rotate(-12 653.0 293.0)"/><ellipse cx="653.0" cy="303.0" rx="1.5" ry="4.6" transform="rotate(-12 653.0 303.0)"/><ellipse cx="653.0" cy="313.0" rx="1.5" ry="4.6" transform="rotate(-12 653.0 313.0)"/><ellipse cx="653.0" cy="323.0" rx="1.5" ry="4.6" transform="rotate(-12 653.0 323.0)"/><ellipse cx="653.0" cy="333.0" rx="1.5" ry="4.6" transform="rotate(-12 653.0 333.0)"/><ellipse cx="653.0" cy="343.0" rx="1.5" ry="4.6" transform="rotate(-12 653.0 343.0)"/><ellipse cx="653.0" cy="353.0" rx="1.5" ry="4.6" transform="rotate(-12 653.0 353.0)"/><ellipse cx="653.0" cy="363.0" rx="1.5" ry="4.6" transform="rotate(-12 653.0 363.0)"/><ellipse cx="653.0" cy="373.0" rx="1.5" ry="4.6" transform="rotate(-12 653.0 373.0)"/><ellipse cx="653.0" cy="383.0" rx="1.5" ry="4.6" transform="rotate(-12 653.0 383.0)"/><ellipse cx="653.0" cy="393.0" rx="1.5" ry="4.6" transform="rotate(-12 653.0 393.0)"/><ellipse cx="653.0" cy="403.0" rx="1.5" ry="4.6" transform="rotate(-12 653.0 403.0)"/><ellipse cx="653.0" cy="413.0" rx="1.5" ry="4.6" transform="rotate(-12 653.0 413.0)"/><ellipse cx="653.0" cy="423.0" rx="1.5" ry="4.6" transform="rotate(-12 653.0 423.0)"/><ellipse cx="653.0" cy="433.0" rx="1.5" ry="4.6" transform="rotate(-12 653.0 433.0)"/><ellipse cx="653.0" cy="443.0" rx="1.5" ry="4.6" transform="rotate(-12 653.0 443.0)"/><ellipse cx="653.0" cy="453.0" rx="1.5" ry="4.6" transform="rotate(-12 653.0 453.0)"/><ellipse cx="653.0" cy="463.0" rx="1.5" ry="4.6" transform="rotate(-12 653.0 463.0)"/><ellipse cx="653.0" cy="473.0" rx="1.5" ry="4.6" transform="rotate(-12 653.0 473.0)"/><ellipse cx="653.0" cy="483.0" rx="1.5" ry="4.6" transform="rotate(-12 653.0 483.0)"/><ellipse cx="653.0" cy="493.0" rx="1.5" ry="4.6" transform="rotate(-12 653.0 493.0)"/><ellipse cx="653.0" cy="503.0" rx="1.5" ry="4.6" transform="rotate(-12 653.0 503.0)"/><ellipse cx="653.0" cy="513.0" rx="1.5" ry="4.6" transform="rotate(-12 653.0 513.0)"/><ellipse cx="653.0" cy="523.0" rx="1.5" ry="4.6" transform="rotate(-12 653.0 523.0)"/><ellipse cx="653.0" cy="533.0" rx="1.5" ry="4.6" transform="rotate(-12 653.0 533.0)"/><ellipse cx="653.0" cy="543.0" rx="1.5" ry="4.6" transform="rotate(-12 653.0 543.0)"/><ellipse cx="653.0" cy="553.0" rx="1.5" ry="4.6" transform="rotate(-12 653.0 553.0)"/><ellipse cx="653.0" cy="563.0" rx="1.5" ry="4.6" transform="rotate(-12 653.0 563.0)"/><ellipse cx="653.0" cy="573.0" rx="1.5" ry="4.6" transform="rotate(-12 653.0 573.0)"/><ellipse cx="653.0" cy="583.0" rx="1.5" ry="4.6" transform="rotate(-12 653.0 583.0)"/><ellipse cx="653.0" cy="593.0" rx="1.5" ry="4.6" transform="rotate(-12 653.0 593.0)"/><ellipse cx="653.0" cy="603.0" rx="1.5" ry="4.6" transform="rotate(-12 653.0 603.0)"/><ellipse cx="653.0" cy="613.0" rx="1.5" ry="4.6" transform="rotate(-12 653.0 613.0)"/><ellipse cx="658.0" cy="288.0" rx="1.5" ry="4.6" transform="rotate(-12 658.0 288.0)"/><ellipse cx="658.0" cy="298.0" rx="1.5" ry="4.6" transform="rotate(-12 658.0 298.0)"/><ellipse cx="658.0" cy="308.0" rx="1.5" ry="4.6" transform="rotate(-12 658.0 308.0)"/><ellipse cx="658.0" cy="318.0" rx="1.5" ry="4.6" transform="rotate(-12 658.0 318.0)"/><ellipse cx="658.0" cy="328.0" rx="1.5" ry="4.6" transform="rotate(-12 658.0 328.0)"/><ellipse cx="658.0" cy="338.0" rx="1.5" ry="4.6" transform="rotate(-12 658.0 338.0)"/><ellipse cx="658.0" cy="348.0" rx="1.5" ry="4.6" transform="rotate(-12 658.0 348.0)"/><ellipse cx="658.0" cy="358.0" rx="1.5" ry="4.6" transform="rotate(-12 658.0 358.0)"/><ellipse cx="658.0" cy="368.0" rx="1.5" ry="4.6" transform="rotate(-12 658.0 368.0)"/><ellipse cx="658.0" cy="378.0" rx="1.5" ry="4.6" transform="rotate(-12 658.0 378.0)"/><ellipse cx="658.0" cy="388.0" rx="1.5" ry="4.6" transform="rotate(-12 658.0 388.0)"/><ellipse cx="658.0" cy="398.0" rx="1.5" ry="4.6" transform="rotate(-12 658.0 398.0)"/><ellipse cx="658.0" cy="408.0" rx="1.5" ry="4.6" transform="rotate(-12 658.0 408.0)"/><ellipse cx="658.0" cy="418.0" rx="1.5" ry="4.6" transform="rotate(-12 658.0 418.0)"/><ellipse cx="658.0" cy="428.0" rx="1.5" ry="4.6" transform="rotate(-12 658.0 428.0)"/><ellipse cx="658.0" cy="438.0" rx="1.5" ry="4.6" transform="rotate(-12 658.0 438.0)"/><ellipse cx="658.0" cy="448.0" rx="1.5" ry="4.6" transform="rotate(-12 658.0 448.0)"/><ellipse cx="658.0" cy="458.0" rx="1.5" ry="4.6" transform="rotate(-12 658.0 458.0)"/><ellipse cx="658.0" cy="468.0" rx="1.5" ry="4.6" transform="rotate(-12 658.0 468.0)"/><ellipse cx="658.0" cy="478.0" rx="1.5" ry="4.6" transform="rotate(-12 658.0 478.0)"/><ellipse cx="658.0" cy="488.0" rx="1.5" ry="4.6" transform="rotate(-12 658.0 488.0)"/><ellipse cx="658.0" cy="498.0" rx="1.5" ry="4.6" transform="rotate(-12 658.0 498.0)"/><ellipse cx="658.0" cy="508.0" rx="1.5" ry="4.6" transform="rotate(-12 658.0 508.0)"/><ellipse cx="658.0" cy="518.0" rx="1.5" ry="4.6" transform="rotate(-12 658.0 518.0)"/><ellipse cx="658.0" cy="528.0" rx="1.5" ry="4.6" transform="rotate(-12 658.0 528.0)"/><ellipse cx="658.0" cy="538.0" rx="1.5" ry="4.6" transform="rotate(-12 658.0 538.0)"/><ellipse cx="658.0" cy="548.0" rx="1.5" ry="4.6" transform="rotate(-12 658.0 548.0)"/><ellipse cx="658.0" cy="558.0" rx="1.5" ry="4.6" transform="rotate(-12 658.0 558.0)"/><ellipse cx="658.0" cy="568.0" rx="1.5" ry="4.6" transform="rotate(-12 658.0 568.0)"/><ellipse cx="658.0" cy="578.0" rx="1.5" ry="4.6" transform="rotate(-12 658.0 578.0)"/><ellipse cx="658.0" cy="588.0" rx="1.5" ry="4.6" transform="rotate(-12 658.0 588.0)"/><ellipse cx="658.0" cy="598.0" rx="1.5" ry="4.6" transform="rotate(-12 658.0 598.0)"/><ellipse cx="658.0" cy="608.0" rx="1.5" ry="4.6" transform="rotate(-12 658.0 608.0)"/><ellipse cx="663.0" cy="293.0" rx="1.5" ry="4.6" transform="rotate(-12 663.0 293.0)"/><ellipse cx="663.0" cy="303.0" rx="1.5" ry="4.6" transform="rotate(-12 663.0 303.0)"/><ellipse cx="663.0" cy="313.0" rx="1.5" ry="4.6" transform="rotate(-12 663.0 313.0)"/><ellipse cx="663.0" cy="323.0" rx="1.5" ry="4.6" transform="rotate(-12 663.0 323.0)"/><ellipse cx="663.0" cy="333.0" rx="1.5" ry="4.6" transform="rotate(-12 663.0 333.0)"/><ellipse cx="663.0" cy="343.0" rx="1.5" ry="4.6" transform="rotate(-12 663.0 343.0)"/><ellipse cx="663.0" cy="353.0" rx="1.5" ry="4.6" transform="rotate(-12 663.0 353.0)"/><ellipse cx="663.0" cy="363.0" rx="1.5" ry="4.6" transform="rotate(-12 663.0 363.0)"/><ellipse cx="663.0" cy="373.0" rx="1.5" ry="4.6" transform="rotate(-12 663.0 373.0)"/><ellipse cx="663.0" cy="383.0" rx="1.5" ry="4.6" transform="rotate(-12 663.0 383.0)"/><ellipse cx="663.0" cy="393.0" rx="1.5" ry="4.6" transform="rotate(-12 663.0 393.0)"/><ellipse cx="663.0" cy="403.0" rx="1.5" ry="4.6" transform="rotate(-12 663.0 403.0)"/><ellipse cx="663.0" cy="413.0" rx="1.5" ry="4.6" transform="rotate(-12 663.0 413.0)"/><ellipse cx="663.0" cy="423.0" rx="1.5" ry="4.6" transform="rotate(-12 663.0 423.0)"/><ellipse cx="663.0" cy="433.0" rx="1.5" ry="4.6" transform="rotate(-12 663.0 433.0)"/><ellipse cx="663.0" cy="443.0" rx="1.5" ry="4.6" transform="rotate(-12 663.0 443.0)"/><ellipse cx="663.0" cy="453.0" rx="1.5" ry="4.6" transform="rotate(-12 663.0 453.0)"/><ellipse cx="663.0" cy="463.0" rx="1.5" ry="4.6" transform="rotate(-12 663.0 463.0)"/><ellipse cx="663.0" cy="473.0" rx="1.5" ry="4.6" transform="rotate(-12 663.0 473.0)"/><ellipse cx="663.0" cy="483.0" rx="1.5" ry="4.6" transform="rotate(-12 663.0 483.0)"/><ellipse cx="663.0" cy="493.0" rx="1.5" ry="4.6" transform="rotate(-12 663.0 493.0)"/><ellipse cx="663.0" cy="503.0" rx="1.5" ry="4.6" transform="rotate(-12 663.0 503.0)"/><ellipse cx="663.0" cy="513.0" rx="1.5" ry="4.6" transform="rotate(-12 663.0 513.0)"/><ellipse cx="663.0" cy="523.0" rx="1.5" ry="4.6" transform="rotate(-12 663.0 523.0)"/><ellipse cx="663.0" cy="533.0" rx="1.5" ry="4.6" transform="rotate(-12 663.0 533.0)"/><ellipse cx="663.0" cy="543.0" rx="1.5" ry="4.6" transform="rotate(-12 663.0 543.0)"/><ellipse cx="663.0" cy="553.0" rx="1.5" ry="4.6" transform="rotate(-12 663.0 553.0)"/><ellipse cx="663.0" cy="563.0" rx="1.5" ry="4.6" transform="rotate(-12 663.0 563.0)"/><ellipse cx="663.0" cy="573.0" rx="1.5" ry="4.6" transform="rotate(-12 663.0 573.0)"/><ellipse cx="663.0" cy="583.0" rx="1.5" ry="4.6" transform="rotate(-12 663.0 583.0)"/><ellipse cx="663.0" cy="593.0" rx="1.5" ry="4.6" transform="rotate(-12 663.0 593.0)"/><ellipse cx="663.0" cy="603.0" rx="1.5" ry="4.6" transform="rotate(-12 663.0 603.0)"/><ellipse cx="663.0" cy="613.0" rx="1.5" ry="4.6" transform="rotate(-12 663.0 613.0)"/></g>
<line x1="520.3" y1="382.0" x2="648.5" y2="558.0" stroke="#111" stroke-width="1.8" />
<line x1="515.0" y1="323.0" x2="646.0" y2="502.0" stroke="#1a1a1a" stroke-width="0.8" />
<line x1="540.0" y1="396.0" x2="648.0" y2="552.0" stroke="#555" stroke-width="0.5" />
<ellipse cx="517" cy="396" rx="5" ry="7.5" transform="rotate(-25 517 396)" fill="#fff" stroke="#222" stroke-width="0.9"/>
<ellipse cx="518.5" cy="395.5" rx="3" ry="5.5" transform="rotate(-25 517 396)" fill="none" stroke="#555" stroke-width="0.6"/>
<ellipse cx="626" cy="544" rx="5" ry="7.5" transform="rotate(-25 626 544)" fill="#fff" stroke="#222" stroke-width="0.9"/>
<ellipse cx="627.5" cy="543.5" rx="3" ry="5.5" transform="rotate(-25 626 544)" fill="none" stroke="#555" stroke-width="0.6"/>
<ellipse cx="508" cy="312" rx="5" ry="7.5" transform="rotate(-25 508 312)" fill="#fff" stroke="#222" stroke-width="0.9"/>
<ellipse cx="509.5" cy="311.5" rx="3" ry="5.5" transform="rotate(-25 508 312)" fill="none" stroke="#555" stroke-width="0.6"/>
<ellipse cx="626" cy="468" rx="5" ry="7.5" transform="rotate(-25 626 468)" fill="#fff" stroke="#222" stroke-width="0.9"/>
<ellipse cx="627.5" cy="467.5" rx="3" ry="5.5" transform="rotate(-25 626 468)" fill="none" stroke="#555" stroke-width="0.6"/>
<polygon points="650.0,483.0 666.0,503.8 667.0,585.0 652.6,568.6" fill="#fff" stroke="#1a1a1a" stroke-width="0.9" stroke-linejoin="round"/>
<polygon points="559.0,372.7 564.0,371.0 583.0,399.0 578.0,401.3" fill="#fff" stroke="#1a1a1a" stroke-width="1.0" stroke-linejoin="round"/>
<rect x="647" y="520" width="8" height="35" rx="2" transform="skewY(8) translate(0,-91)" fill="#fff" stroke="#222" stroke-width="1"/>
<rect x="649" y="523" width="4" height="29" rx="1.5" transform="skewY(8) translate(0,-91)" fill="none" stroke="#555" stroke-width="0.6"/>
<polygon points="524.7,127.4 571.6,139.0 569.9,159.2 525.9,140.7" fill="#fff" stroke="#444" stroke-width="0.8" stroke-linejoin="round"/>
<rect x="527" y="130.5" width="2" height="2" rx="0.6" fill="none" stroke="#555" stroke-width="0.6"/>
<rect x="527" y="133.5" width="2" height="2" rx="0.6" fill="none" stroke="#555" stroke-width="0.6"/>
<rect x="527" y="136.5" width="2" height="2" rx="0.6" fill="none" stroke="#555" stroke-width="0.6"/>
<rect x="531.5" y="132" width="2" height="2.5" rx="0.6" fill="none" stroke="#555" stroke-width="0.6"/>
<rect x="534.5" y="132.5" width="2.5" height="2" rx="0.6" fill="none" stroke="#555" stroke-width="0.6"/>
<rect x="532.5" y="136" width="2.5" height="3" rx="0.6" fill="none" stroke="#555" stroke-width="0.6"/>
<rect x="540.5" y="134.5" width="3.5" height="3.5" rx="0.6" fill="none" stroke="#555" stroke-width="0.6"/>
<rect x="540.5" y="139.5" width="3.5" height="3.5" rx="0.6" fill="none" stroke="#555" stroke-width="0.6"/>
<rect x="546.5" y="136" width="3.5" height="3.5" rx="0.6" fill="none" stroke="#555" stroke-width="0.6"/>
<rect x="546.5" y="141" width="3.5" height="3.5" rx="0.6" fill="none" stroke="#555" stroke-width="0.6"/>
<rect x="553.5" y="138" width="3.5" height="3.5" rx="0.6" fill="none" stroke="#555" stroke-width="0.6"/>
<rect x="553.5" y="143.5" width="3.5" height="4.5" rx="0.6" fill="none" stroke="#555" stroke-width="0.6"/>
<circle cx="562" cy="141.5" r="1.5" fill="none" stroke="#555" stroke-width="0.6"/>
<circle cx="566" cy="142.5" r="1.5" fill="none" stroke="#555" stroke-width="0.6"/>
<circle cx="562" cy="146" r="1.5" fill="none" stroke="#555" stroke-width="0.6"/>
<circle cx="566" cy="147" r="1.5" fill="none" stroke="#555" stroke-width="0.6"/>
<circle cx="562" cy="150.5" r="1.5" fill="none" stroke="#555" stroke-width="0.6"/>
<circle cx="566" cy="151.5" r="1.5" fill="none" stroke="#555" stroke-width="0.6"/>
</svg>
</body></html>
